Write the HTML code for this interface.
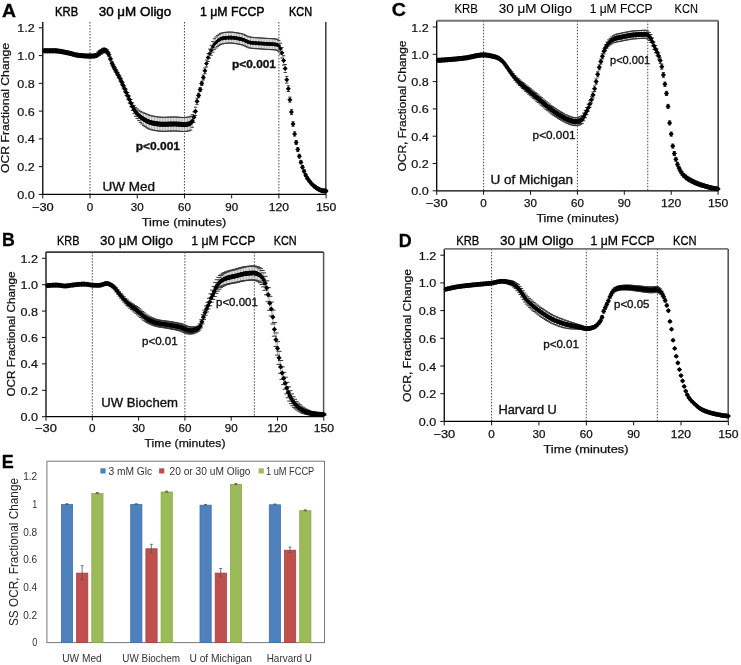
<!DOCTYPE html><html><head><meta charset="utf-8"><style>html,body{margin:0;padding:0;background:#fff;overflow:hidden}svg{display:block;filter:blur(0.35px);font-family:"Liberation Sans",sans-serif}</style></head><body>
<svg width="741" height="665" viewBox="0 0 741 665" font-family="Liberation Sans, sans-serif">
<rect width="741" height="665" fill="#fff"/>
<line x1="90.00" y1="22.00" x2="90.00" y2="194.40" stroke="#333" stroke-width="0.9" stroke-dasharray="1.5 1.5"/>
<line x1="184.44" y1="22.00" x2="184.44" y2="194.40" stroke="#333" stroke-width="0.9" stroke-dasharray="1.5 1.5"/>
<line x1="278.88" y1="22.00" x2="278.88" y2="194.40" stroke="#333" stroke-width="0.9" stroke-dasharray="1.5 1.5"/>
<line x1="42.78" y1="22.00" x2="42.78" y2="194.40" stroke="#000" stroke-width="1.3" />
<line x1="42.78" y1="194.40" x2="326.10" y2="194.40" stroke="#000" stroke-width="1.3" />
<line x1="325.80" y1="22.00" x2="325.80" y2="194.40" stroke="#3a3a3a" stroke-width="1.5" />
<line x1="38.78" y1="194.40" x2="42.78" y2="194.40" stroke="#111" stroke-width="1" />
<text x="34.8" y="198.9" font-size="11" stroke="#111" stroke-width="0.2" text-anchor="end" fill="#111" textLength="17.5" lengthAdjust="spacingAndGlyphs">0.0</text>
<line x1="38.78" y1="166.64" x2="42.78" y2="166.64" stroke="#111" stroke-width="1" />
<text x="34.8" y="171.1" font-size="11" stroke="#111" stroke-width="0.2" text-anchor="end" fill="#111" textLength="17.5" lengthAdjust="spacingAndGlyphs">0.2</text>
<line x1="38.78" y1="138.88" x2="42.78" y2="138.88" stroke="#111" stroke-width="1" />
<text x="34.8" y="143.4" font-size="11" stroke="#111" stroke-width="0.2" text-anchor="end" fill="#111" textLength="17.5" lengthAdjust="spacingAndGlyphs">0.4</text>
<line x1="38.78" y1="111.12" x2="42.78" y2="111.12" stroke="#111" stroke-width="1" />
<text x="34.8" y="115.6" font-size="11" stroke="#111" stroke-width="0.2" text-anchor="end" fill="#111" textLength="17.5" lengthAdjust="spacingAndGlyphs">0.6</text>
<line x1="38.78" y1="83.36" x2="42.78" y2="83.36" stroke="#111" stroke-width="1" />
<text x="34.8" y="87.9" font-size="11" stroke="#111" stroke-width="0.2" text-anchor="end" fill="#111" textLength="17.5" lengthAdjust="spacingAndGlyphs">0.8</text>
<line x1="38.78" y1="55.60" x2="42.78" y2="55.60" stroke="#111" stroke-width="1" />
<text x="34.8" y="60.1" font-size="11" stroke="#111" stroke-width="0.2" text-anchor="end" fill="#111" textLength="17.5" lengthAdjust="spacingAndGlyphs">1.0</text>
<line x1="38.78" y1="27.84" x2="42.78" y2="27.84" stroke="#111" stroke-width="1" />
<text x="34.8" y="32.3" font-size="11" stroke="#111" stroke-width="0.2" text-anchor="end" fill="#111" textLength="17.5" lengthAdjust="spacingAndGlyphs">1.2</text>
<line x1="42.78" y1="194.40" x2="42.78" y2="198.40" stroke="#111" stroke-width="1" />
<text x="42.8" y="211.0" font-size="11" stroke="#111" stroke-width="0.25" text-anchor="middle" fill="#111" textLength="21.8" lengthAdjust="spacingAndGlyphs">−30</text>
<line x1="90.00" y1="194.40" x2="90.00" y2="198.40" stroke="#111" stroke-width="1" />
<text x="90.0" y="211.0" font-size="11" stroke="#111" stroke-width="0.25" text-anchor="middle" fill="#111" textLength="6.5" lengthAdjust="spacingAndGlyphs">0</text>
<line x1="137.22" y1="194.40" x2="137.22" y2="198.40" stroke="#111" stroke-width="1" />
<text x="137.2" y="211.0" font-size="11" stroke="#111" stroke-width="0.25" text-anchor="middle" fill="#111" textLength="12.9" lengthAdjust="spacingAndGlyphs">30</text>
<line x1="184.44" y1="194.40" x2="184.44" y2="198.40" stroke="#111" stroke-width="1" />
<text x="184.4" y="211.0" font-size="11" stroke="#111" stroke-width="0.25" text-anchor="middle" fill="#111" textLength="12.9" lengthAdjust="spacingAndGlyphs">60</text>
<line x1="231.66" y1="194.40" x2="231.66" y2="198.40" stroke="#111" stroke-width="1" />
<text x="231.7" y="211.0" font-size="11" stroke="#111" stroke-width="0.25" text-anchor="middle" fill="#111" textLength="12.9" lengthAdjust="spacingAndGlyphs">90</text>
<line x1="278.88" y1="194.40" x2="278.88" y2="198.40" stroke="#111" stroke-width="1" />
<text x="278.9" y="211.0" font-size="11" stroke="#111" stroke-width="0.25" text-anchor="middle" fill="#111" textLength="20.3" lengthAdjust="spacingAndGlyphs">120</text>
<line x1="326.10" y1="194.40" x2="326.10" y2="198.40" stroke="#111" stroke-width="1" />
<text x="326.1" y="211.0" font-size="11" stroke="#111" stroke-width="0.25" text-anchor="middle" fill="#111" textLength="20.3" lengthAdjust="spacingAndGlyphs">150</text>
<text x="9.2" y="108.0" font-size="10.5" stroke="#111" stroke-width="0.25" text-anchor="middle" fill="#111" textLength="130.0" lengthAdjust="spacingAndGlyphs" transform="rotate(-90 9.2 108.0)">OCR Fractional Change</text>
<text x="184.0" y="226.0" font-size="10.5" stroke="#111" stroke-width="0.25" text-anchor="middle" fill="#111" textLength="84.5" lengthAdjust="spacingAndGlyphs">Time (minutes)</text>
<text x="55.1" y="16.0" font-size="13.5" stroke="#000" stroke-width="0.45" textLength="23.1" lengthAdjust="spacingAndGlyphs">KRB</text>
<text x="98.7" y="16.0" font-size="13.5" stroke="#000" stroke-width="0.45" textLength="72.6" lengthAdjust="spacingAndGlyphs">30 μM Oligo</text>
<text x="200.0" y="16.0" font-size="13.5" stroke="#000" stroke-width="0.45" textLength="64.6" lengthAdjust="spacingAndGlyphs">1 μM FCCP</text>
<text x="289.0" y="16.0" font-size="13.5" stroke="#000" stroke-width="0.45" textLength="23.0" lengthAdjust="spacingAndGlyphs">KCN</text>
<text x="2.0" y="17.2" font-size="19" stroke="#000" stroke-width="0.3" font-weight="bold" textLength="14.0" lengthAdjust="spacingAndGlyphs">A</text>
<path d="M44.4 49.8V51.8M45.9 49.9V51.7M47.5 49.9V51.7M49.1 49.9V51.7M50.6 49.9V51.7M52.2 49.9V51.7M53.8 49.9V51.7M55.4 50.0V51.7M56.9 50.1V51.8M58.5 50.3V52.0M60.1 50.5V52.2M61.7 50.8V52.5M63.2 51.1V52.8M64.8 51.4V53.1M66.4 51.7V53.4M68.0 52.0V53.7M69.5 52.4V54.0M71.1 52.8V54.4M72.7 53.3V54.9M74.3 53.7V55.3M75.8 54.1V55.7M77.4 54.4V56.0M79.0 54.6V56.2M80.6 54.7V56.3M82.1 54.9V56.5M83.7 55.0V56.6M85.3 55.1V56.7M86.9 55.2V56.8M88.4 55.3V56.9M90.0 55.3V56.9M91.6 55.2V57.0M93.1 54.8V57.2M94.7 54.3V57.4M96.3 53.5V57.4M97.9 51.9V56.5M99.4 50.4V55.4M101.0 49.4V54.3M102.6 48.4V53.2M104.2 48.0V52.6M105.7 48.5V52.9M107.3 49.7V53.9M108.9 52.6V56.7M110.5 57.0V61.0M112.0 61.3V65.3M113.6 64.6V68.7M115.2 67.4V71.7M116.8 70.2V74.7M118.3 72.9V77.6M119.9 75.8V80.8M121.5 79.0V84.3M123.1 82.4V87.9M124.6 85.9V91.7M126.2 89.3V95.5M127.8 92.6V99.1M129.3 96.0V102.9M130.9 99.5V106.8M132.5 102.8V110.5M134.1 105.4V113.7M135.6 107.4V116.3M137.2 108.9V118.6M138.8 110.2V120.6M140.4 111.3V122.5M141.9 112.1V124.0M143.5 112.8V125.4M145.1 113.4V126.6M146.7 114.1V127.7M148.2 114.7V128.6M149.8 115.3V129.3M151.4 115.8V129.8M153.0 116.1V130.1M154.5 116.4V130.4M156.1 116.7V130.7M157.7 116.9V130.9M159.3 117.1V131.1M160.8 117.2V131.2M162.4 117.3V131.3M164.0 117.3V131.3M165.6 117.3V131.3M167.1 117.2V131.2M168.7 117.1V131.1M170.3 117.1V131.1M171.8 117.0V131.0M173.4 117.0V131.0M175.0 117.0V131.0M176.6 117.1V131.1M178.1 117.2V131.2M179.7 117.3V131.3M181.3 117.4V131.4M182.9 117.5V131.5M184.4 117.5V131.5M186.0 117.4V131.4M187.6 117.2V131.2M189.2 116.8V130.8M190.7 116.3V130.1M192.3 114.7V127.3M193.9 111.9V122.5M195.5 107.2V115.5M197.0 98.3V104.4M198.6 93.2V97.7M200.2 87.6V91.6M201.8 81.3V85.5M203.3 75.1V80.0M204.9 67.9V73.7M206.5 60.1V66.9M208.1 53.7V61.6M209.6 49.1V58.1M211.2 45.3V55.2M212.8 41.6V52.2M214.3 38.7V49.7M215.9 37.0V48.0M217.5 35.6V46.6M219.1 34.3V45.3M220.6 33.4V44.4M222.2 32.9V43.9M223.8 32.6V43.6M225.4 32.4V43.4M226.9 32.2V43.2M228.5 32.1V43.1M230.1 32.1V43.1M231.7 32.1V43.1M233.2 32.3V43.3M234.8 32.5V43.5M236.4 32.7V43.7M238.0 33.0V44.0M239.5 33.3V44.3M241.1 33.6V44.6M242.7 34.1V45.1M244.3 34.7V45.7M245.8 35.4V46.4M247.4 36.2V47.2M249.0 36.8V47.8M250.5 37.1V48.1M252.1 37.3V48.3M253.7 37.5V48.5M255.3 37.6V48.6M256.8 37.7V48.7M258.4 37.8V48.8M260.0 37.9V48.9M261.6 38.0V49.0M263.1 38.1V49.1M264.7 38.3V49.3M266.3 38.4V49.4M267.9 38.4V49.4M269.4 38.5V49.5M271.0 38.6V49.6M272.6 38.7V49.7M274.2 38.8V49.8M275.7 39.0V50.0M277.3 39.3V50.3M278.9 40.4V51.4M280.5 43.2V54.2M282.0 47.6V58.0M283.6 55.7V65.1M285.2 64.5V72.5M286.8 76.4V83.1M288.3 85.8V91.5M289.9 97.1V102.2M291.5 109.7V114.5M293.0 121.7V126.3M294.6 131.8V136.1M296.2 140.5V144.6M297.8 147.7V151.6M299.3 154.3V158.0M300.9 160.4V163.9M302.5 165.5V168.8M304.1 169.7V172.9M305.6 173.5V176.5M307.2 176.5V179.5M308.8 178.9V181.7M310.4 181.0V183.7M311.9 182.9V185.4M313.5 184.4V186.9M315.1 185.7V188.1M316.7 186.8V189.1M318.2 187.9V190.1M319.8 188.8V190.9M321.4 189.4V191.5M323.0 189.7V191.8M324.5 189.9V191.9M326.1 190.0V192.0" stroke="#a0a0a0" stroke-width="0.8" fill="none"/>
<path d="M42.8 49.8h3.2M42.8 51.8h3.2M44.3 49.9h3.2M44.3 51.7h3.2M45.9 49.9h3.2M45.9 51.7h3.2M47.5 49.9h3.2M47.5 51.7h3.2M49.0 49.9h3.2M49.0 51.7h3.2M50.6 49.9h3.2M50.6 51.7h3.2M52.2 49.9h3.2M52.2 51.7h3.2M53.8 50.0h3.2M53.8 51.7h3.2M55.3 50.1h3.2M55.3 51.8h3.2M56.9 50.3h3.2M56.9 52.0h3.2M58.5 50.5h3.2M58.5 52.2h3.2M60.1 50.8h3.2M60.1 52.5h3.2M61.6 51.1h3.2M61.6 52.8h3.2M63.2 51.4h3.2M63.2 53.1h3.2M64.8 51.7h3.2M64.8 53.4h3.2M66.4 52.0h3.2M66.4 53.7h3.2M67.9 52.4h3.2M67.9 54.0h3.2M69.5 52.8h3.2M69.5 54.4h3.2M71.1 53.3h3.2M71.1 54.9h3.2M72.7 53.7h3.2M72.7 55.3h3.2M74.2 54.1h3.2M74.2 55.7h3.2M75.8 54.4h3.2M75.8 56.0h3.2M77.4 54.6h3.2M77.4 56.2h3.2M79.0 54.7h3.2M79.0 56.3h3.2M80.5 54.9h3.2M80.5 56.5h3.2M82.1 55.0h3.2M82.1 56.6h3.2M83.7 55.1h3.2M83.7 56.7h3.2M85.3 55.2h3.2M85.3 56.8h3.2M86.8 55.3h3.2M86.8 56.9h3.2M88.4 55.3h3.2M88.4 56.9h3.2M90.0 55.2h3.2M90.0 57.0h3.2M91.5 54.8h3.2M91.5 57.2h3.2M93.1 54.3h3.2M93.1 57.4h3.2M94.7 53.5h3.2M94.7 57.4h3.2M96.3 51.9h3.2M96.3 56.5h3.2M97.8 50.4h3.2M97.8 55.4h3.2M99.4 49.4h3.2M99.4 54.3h3.2M101.0 48.4h3.2M101.0 53.2h3.2M102.6 48.0h3.2M102.6 52.6h3.2M104.1 48.5h3.2M104.1 52.9h3.2M105.7 49.7h3.2M105.7 53.9h3.2M107.3 52.6h3.2M107.3 56.7h3.2M108.9 57.0h3.2M108.9 61.0h3.2M110.4 61.3h3.2M110.4 65.3h3.2M112.0 64.6h3.2M112.0 68.7h3.2M113.6 67.4h3.2M113.6 71.7h3.2M115.2 70.2h3.2M115.2 74.7h3.2M116.7 72.9h3.2M116.7 77.6h3.2M118.3 75.8h3.2M118.3 80.8h3.2M119.9 79.0h3.2M119.9 84.3h3.2M121.5 82.4h3.2M121.5 87.9h3.2M123.0 85.9h3.2M123.0 91.7h3.2M124.6 89.3h3.2M124.6 95.5h3.2M126.2 92.6h3.2M126.2 99.1h3.2M127.8 96.0h3.2M127.8 102.9h3.2M129.3 99.5h3.2M129.3 106.8h3.2M130.9 102.8h3.2M130.9 110.5h3.2M132.5 105.4h3.2M132.5 113.7h3.2M134.0 107.4h3.2M134.0 116.3h3.2M135.6 108.9h3.2M135.6 118.6h3.2M137.2 110.2h3.2M137.2 120.6h3.2M138.8 111.3h3.2M138.8 122.5h3.2M140.3 112.1h3.2M140.3 124.0h3.2M141.9 112.8h3.2M141.9 125.4h3.2M143.5 113.4h3.2M143.5 126.6h3.2M145.1 114.1h3.2M145.1 127.7h3.2M146.6 114.7h3.2M146.6 128.6h3.2M148.2 115.3h3.2M148.2 129.3h3.2M149.8 115.8h3.2M149.8 129.8h3.2M151.4 116.1h3.2M151.4 130.1h3.2M152.9 116.4h3.2M152.9 130.4h3.2M154.5 116.7h3.2M154.5 130.7h3.2M156.1 116.9h3.2M156.1 130.9h3.2M157.7 117.1h3.2M157.7 131.1h3.2M159.2 117.2h3.2M159.2 131.2h3.2M160.8 117.3h3.2M160.8 131.3h3.2M162.4 117.3h3.2M162.4 131.3h3.2M164.0 117.3h3.2M164.0 131.3h3.2M165.5 117.2h3.2M165.5 131.2h3.2M167.1 117.1h3.2M167.1 131.1h3.2M168.7 117.1h3.2M168.7 131.1h3.2M170.2 117.0h3.2M170.2 131.0h3.2M171.8 117.0h3.2M171.8 131.0h3.2M173.4 117.0h3.2M173.4 131.0h3.2M175.0 117.1h3.2M175.0 131.1h3.2M176.5 117.2h3.2M176.5 131.2h3.2M178.1 117.3h3.2M178.1 131.3h3.2M179.7 117.4h3.2M179.7 131.4h3.2M181.3 117.5h3.2M181.3 131.5h3.2M182.8 117.5h3.2M182.8 131.5h3.2M184.4 117.4h3.2M184.4 131.4h3.2M186.0 117.2h3.2M186.0 131.2h3.2M187.6 116.8h3.2M187.6 130.8h3.2M189.1 116.3h3.2M189.1 130.1h3.2M190.7 114.7h3.2M190.7 127.3h3.2M192.3 111.9h3.2M192.3 122.5h3.2M193.9 107.2h3.2M193.9 115.5h3.2M195.4 98.3h3.2M195.4 104.4h3.2M197.0 93.2h3.2M197.0 97.7h3.2M198.6 87.6h3.2M198.6 91.6h3.2M200.2 81.3h3.2M200.2 85.5h3.2M201.7 75.1h3.2M201.7 80.0h3.2M203.3 67.9h3.2M203.3 73.7h3.2M204.9 60.1h3.2M204.9 66.9h3.2M206.5 53.7h3.2M206.5 61.6h3.2M208.0 49.1h3.2M208.0 58.1h3.2M209.6 45.3h3.2M209.6 55.2h3.2M211.2 41.6h3.2M211.2 52.2h3.2M212.7 38.7h3.2M212.7 49.7h3.2M214.3 37.0h3.2M214.3 48.0h3.2M215.9 35.6h3.2M215.9 46.6h3.2M217.5 34.3h3.2M217.5 45.3h3.2M219.0 33.4h3.2M219.0 44.4h3.2M220.6 32.9h3.2M220.6 43.9h3.2M222.2 32.6h3.2M222.2 43.6h3.2M223.8 32.4h3.2M223.8 43.4h3.2M225.3 32.2h3.2M225.3 43.2h3.2M226.9 32.1h3.2M226.9 43.1h3.2M228.5 32.1h3.2M228.5 43.1h3.2M230.1 32.1h3.2M230.1 43.1h3.2M231.6 32.3h3.2M231.6 43.3h3.2M233.2 32.5h3.2M233.2 43.5h3.2M234.8 32.7h3.2M234.8 43.7h3.2M236.4 33.0h3.2M236.4 44.0h3.2M237.9 33.3h3.2M237.9 44.3h3.2M239.5 33.6h3.2M239.5 44.6h3.2M241.1 34.1h3.2M241.1 45.1h3.2M242.7 34.7h3.2M242.7 45.7h3.2M244.2 35.4h3.2M244.2 46.4h3.2M245.8 36.2h3.2M245.8 47.2h3.2M247.4 36.8h3.2M247.4 47.8h3.2M248.9 37.1h3.2M248.9 48.1h3.2M250.5 37.3h3.2M250.5 48.3h3.2M252.1 37.5h3.2M252.1 48.5h3.2M253.7 37.6h3.2M253.7 48.6h3.2M255.2 37.7h3.2M255.2 48.7h3.2M256.8 37.8h3.2M256.8 48.8h3.2M258.4 37.9h3.2M258.4 48.9h3.2M260.0 38.0h3.2M260.0 49.0h3.2M261.5 38.1h3.2M261.5 49.1h3.2M263.1 38.3h3.2M263.1 49.3h3.2M264.7 38.4h3.2M264.7 49.4h3.2M266.3 38.4h3.2M266.3 49.4h3.2M267.8 38.5h3.2M267.8 49.5h3.2M269.4 38.6h3.2M269.4 49.6h3.2M271.0 38.7h3.2M271.0 49.7h3.2M272.6 38.8h3.2M272.6 49.8h3.2M274.1 39.0h3.2M274.1 50.0h3.2M275.7 39.3h3.2M275.7 50.3h3.2M277.3 40.4h3.2M277.3 51.4h3.2M278.9 43.2h3.2M278.9 54.2h3.2M280.4 47.6h3.2M280.4 58.0h3.2M282.0 55.7h3.2M282.0 65.1h3.2M283.6 64.5h3.2M283.6 72.5h3.2M285.1 76.4h3.2M285.1 83.1h3.2M286.7 85.8h3.2M286.7 91.5h3.2M288.3 97.1h3.2M288.3 102.2h3.2M289.9 109.7h3.2M289.9 114.5h3.2M291.4 121.7h3.2M291.4 126.3h3.2M293.0 131.8h3.2M293.0 136.1h3.2M294.6 140.5h3.2M294.6 144.6h3.2M296.2 147.7h3.2M296.2 151.6h3.2M297.7 154.3h3.2M297.7 158.0h3.2M299.3 160.4h3.2M299.3 163.9h3.2M300.9 165.5h3.2M300.9 168.8h3.2M302.5 169.7h3.2M302.5 172.9h3.2M304.0 173.5h3.2M304.0 176.5h3.2M305.6 176.5h3.2M305.6 179.5h3.2M307.2 178.9h3.2M307.2 181.7h3.2M308.8 181.0h3.2M308.8 183.7h3.2M310.3 182.9h3.2M310.3 185.4h3.2M311.9 184.4h3.2M311.9 186.9h3.2M313.5 185.7h3.2M313.5 188.1h3.2M315.1 186.8h3.2M315.1 189.1h3.2M316.6 187.9h3.2M316.6 190.1h3.2M318.2 188.8h3.2M318.2 190.9h3.2M319.8 189.4h3.2M319.8 191.5h3.2M321.4 189.7h3.2M321.4 191.8h3.2M322.9 189.9h3.2M322.9 191.9h3.2M324.5 190.0h3.2M324.5 192.0h3.2" stroke="#383838" stroke-width="1.0" fill="none"/>
<polygon points="43.3,48.26 43.8,48.26 44.3,48.26 44.8,48.26 45.3,48.26 45.8,48.26 46.3,48.26 46.8,48.27 47.3,48.27 47.8,48.27 48.3,48.27 48.8,48.27 49.3,48.27 49.8,48.27 50.3,48.27 50.8,48.27 51.3,48.27 51.8,48.27 52.3,48.27 52.8,48.27 53.3,48.27 53.8,48.27 54.3,48.27 54.8,48.29 55.3,48.30 55.8,48.33 56.3,48.37 56.8,48.41 57.3,48.46 57.8,48.51 58.3,48.57 58.8,48.64 59.3,48.71 59.8,48.79 60.3,48.87 60.8,48.95 61.3,49.04 61.8,49.13 62.3,49.23 62.8,49.32 63.3,49.42 63.8,49.52 64.3,49.62 64.8,49.72 65.3,49.82 65.8,49.92 66.3,50.02 66.8,50.11 67.3,50.21 67.8,50.30 68.3,50.40 68.8,50.51 69.3,50.63 69.8,50.75 70.3,50.88 70.8,51.02 71.3,51.16 71.8,51.30 72.3,51.45 72.8,51.59 73.3,51.73 73.8,51.87 74.3,52.01 74.8,52.14 75.3,52.26 75.8,52.38 76.3,52.49 76.8,52.58 77.3,52.67 77.8,52.74 78.3,52.80 78.8,52.86 79.3,52.91 79.8,52.96 80.3,53.01 80.8,53.06 81.3,53.11 81.8,53.16 82.3,53.20 82.8,53.25 83.3,53.29 83.8,53.33 84.3,53.37 84.8,53.40 85.3,53.44 85.8,53.47 86.3,53.49 86.8,53.52 87.3,53.54 87.8,53.56 88.3,53.57 88.8,53.59 89.3,53.59 89.8,53.60 90.3,53.60 90.8,53.59 91.3,53.58 91.8,53.56 92.3,53.54 92.8,53.51 93.3,53.48 93.8,53.44 94.3,53.40 94.8,53.35 95.3,53.30 95.8,53.19 96.3,52.96 96.8,52.64 97.3,52.25 97.8,51.82 98.3,51.37 98.8,50.92 99.3,50.50 99.8,50.14 100.3,49.83 100.8,49.50 101.3,49.16 101.8,48.82 102.3,48.50 102.8,48.23 103.3,48.00 103.8,47.86 104.3,47.80 104.8,47.85 105.3,48.00 105.8,48.23 106.3,48.52 106.8,48.85 106.8,53.85 106.3,53.52 105.8,53.23 105.3,53.00 104.8,52.85 104.3,52.80 103.8,52.86 103.3,53.00 102.8,53.23 102.3,53.50 101.8,53.82 101.3,54.16 100.8,54.50 100.3,54.83 99.8,55.14 99.3,55.50 98.8,55.92 98.3,56.37 97.8,56.82 97.3,57.25 96.8,57.64 96.3,57.96 95.8,58.19 95.3,58.30 94.8,58.35 94.3,58.40 93.8,58.44 93.3,58.48 92.8,58.51 92.3,58.54 91.8,58.56 91.3,58.58 90.8,58.59 90.3,58.60 89.8,58.60 89.3,58.60 88.8,58.59 88.3,58.58 87.8,58.56 87.3,58.55 86.8,58.52 86.3,58.50 85.8,58.47 85.3,58.44 84.8,58.41 84.3,58.37 83.8,58.34 83.3,58.30 82.8,58.26 82.3,58.21 81.8,58.17 81.3,58.12 80.8,58.07 80.3,58.02 79.8,57.97 79.3,57.92 78.8,57.87 78.3,57.82 77.8,57.76 77.3,57.68 76.8,57.60 76.3,57.50 75.8,57.40 75.3,57.28 74.8,57.16 74.3,57.03 73.8,56.89 73.3,56.75 72.8,56.61 72.3,56.47 71.8,56.33 71.3,56.18 70.8,56.04 70.3,55.91 69.8,55.78 69.3,55.65 68.8,55.54 68.3,55.43 67.8,55.33 67.3,55.24 66.8,55.14 66.3,55.05 65.8,54.95 65.3,54.85 64.8,54.75 64.3,54.65 63.8,54.55 63.3,54.46 62.8,54.36 62.3,54.27 61.8,54.17 61.3,54.08 60.8,53.99 60.3,53.91 59.8,53.83 59.3,53.75 58.8,53.68 58.3,53.62 57.8,53.56 57.3,53.50 56.8,53.46 56.3,53.41 55.8,53.38 55.3,53.35 54.8,53.34 54.3,53.33 53.8,53.33 53.3,53.33 52.8,53.33 52.3,53.33 51.8,53.33 51.3,53.33 50.8,53.33 50.3,53.33 49.8,53.33 49.3,53.33 48.8,53.33 48.3,53.33 47.8,53.33 47.3,53.33 46.8,53.33 46.3,53.34 45.8,53.34 45.3,53.34 44.8,53.34 44.3,53.34 43.8,53.34 43.3,53.34" fill="#000"/>
<polygon points="138.8,112.90 139.3,113.38 139.8,113.84 140.3,114.28 140.8,114.69 141.3,115.08 141.8,115.45 142.3,115.79 142.8,116.11 143.3,116.43 143.8,116.74 144.3,117.04 144.8,117.34 145.3,117.62 145.8,117.90 146.3,118.17 146.8,118.44 147.3,118.69 147.8,118.93 148.3,119.16 148.8,119.37 149.3,119.57 149.8,119.76 150.3,119.94 150.8,120.10 151.3,120.24 151.8,120.37 152.3,120.48 152.8,120.57 153.3,120.67 153.8,120.76 154.3,120.85 154.8,120.94 155.3,121.03 155.8,121.11 156.3,121.19 156.8,121.27 157.3,121.34 157.8,121.41 158.3,121.47 158.8,121.53 159.3,121.59 159.8,121.63 160.3,121.68 160.8,121.71 161.3,121.75 161.8,121.77 162.3,121.79 162.8,121.80 163.3,121.80 163.8,121.80 164.3,121.79 164.8,121.78 165.3,121.77 165.8,121.76 166.3,121.74 166.8,121.72 167.3,121.70 167.8,121.68 168.3,121.66 168.8,121.64 169.3,121.62 169.8,121.60 170.3,121.58 170.8,121.56 171.3,121.55 171.8,121.53 172.3,121.52 172.8,121.51 173.3,121.50 173.8,121.50 174.3,121.50 174.8,121.51 175.3,121.52 175.8,121.54 176.3,121.56 176.8,121.58 177.3,121.61 177.8,121.64 178.3,121.67 178.8,121.71 179.3,121.74 179.8,121.78 180.3,121.81 180.8,121.84 181.3,121.88 181.8,121.90 182.3,121.93 182.8,121.95 183.3,121.97 183.8,121.99 184.3,122.00 184.8,122.00 185.3,121.99 185.8,121.96 186.3,121.92 186.8,121.85 187.3,121.77 187.8,121.68 188.3,121.57 188.8,121.44 189.3,121.30 189.8,121.14 190.3,120.97 190.8,120.65 190.8,125.65 190.3,125.97 189.8,126.14 189.3,126.30 188.8,126.44 188.3,126.57 187.8,126.68 187.3,126.77 186.8,126.85 186.3,126.92 185.8,126.96 185.3,126.99 184.8,127.00 184.3,127.00 183.8,126.99 183.3,126.97 182.8,126.95 182.3,126.93 181.8,126.90 181.3,126.88 180.8,126.84 180.3,126.81 179.8,126.78 179.3,126.74 178.8,126.71 178.3,126.67 177.8,126.64 177.3,126.61 176.8,126.58 176.3,126.56 175.8,126.54 175.3,126.52 174.8,126.51 174.3,126.50 173.8,126.50 173.3,126.50 172.8,126.51 172.3,126.52 171.8,126.53 171.3,126.55 170.8,126.56 170.3,126.58 169.8,126.60 169.3,126.62 168.8,126.64 168.3,126.66 167.8,126.68 167.3,126.70 166.8,126.72 166.3,126.74 165.8,126.76 165.3,126.77 164.8,126.78 164.3,126.79 163.8,126.80 163.3,126.80 162.8,126.80 162.3,126.79 161.8,126.77 161.3,126.75 160.8,126.71 160.3,126.68 159.8,126.63 159.3,126.59 158.8,126.53 158.3,126.47 157.8,126.41 157.3,126.34 156.8,126.27 156.3,126.19 155.8,126.11 155.3,126.03 154.8,125.94 154.3,125.85 153.8,125.76 153.3,125.67 152.8,125.57 152.3,125.48 151.8,125.37 151.3,125.24 150.8,125.10 150.3,124.94 149.8,124.76 149.3,124.57 148.8,124.37 148.3,124.16 147.8,123.93 147.3,123.69 146.8,123.44 146.3,123.17 145.8,122.90 145.3,122.62 144.8,122.34 144.3,122.04 143.8,121.74 143.3,121.43 142.8,121.11 142.3,120.79 141.8,120.45 141.3,120.08 140.8,119.69 140.3,119.28 139.8,118.84 139.3,118.38 138.8,117.90" fill="#000"/>
<polygon points="215.8,40.82 216.3,40.34 216.8,39.88 217.3,39.44 217.8,39.02 218.3,38.62 218.8,38.25 219.3,37.91 219.8,37.60 220.3,37.32 220.8,37.07 221.3,36.86 221.8,36.69 222.3,36.56 222.8,36.47 223.3,36.39 223.8,36.32 224.3,36.25 224.8,36.18 225.3,36.12 225.8,36.06 226.3,36.01 226.8,35.96 227.3,35.92 227.8,35.88 228.3,35.85 228.8,35.83 229.3,35.81 229.8,35.80 230.3,35.80 230.8,35.81 231.3,35.82 231.8,35.85 232.3,35.88 232.8,35.92 233.3,35.97 233.8,36.02 234.3,36.08 234.8,36.15 235.3,36.22 235.8,36.30 236.3,36.38 236.8,36.47 237.3,36.56 237.8,36.66 238.3,36.75 238.8,36.85 239.3,36.96 239.8,37.06 240.3,37.16 240.8,37.27 241.3,37.37 241.8,37.49 242.3,37.63 242.8,37.80 243.3,37.99 243.8,38.19 244.3,38.42 244.8,38.65 245.3,38.88 245.8,39.12 246.3,39.36 246.8,39.60 247.3,39.82 247.8,40.03 248.3,40.23 248.8,40.41 249.3,40.56 249.8,40.69 250.3,40.78 250.8,40.85 251.3,40.92 251.8,40.98 252.3,41.03 252.8,41.09 253.3,41.14 253.8,41.18 254.3,41.23 254.8,41.27 255.3,41.31 255.8,41.35 256.3,41.39 256.8,41.42 257.3,41.45 257.8,41.49 258.3,41.52 258.8,41.55 259.3,41.58 259.8,41.61 260.3,41.64 260.8,41.67 261.3,41.70 261.8,41.74 262.3,41.77 262.8,41.81 263.3,41.84 263.8,41.88 264.3,41.92 264.8,41.96 265.3,41.99 265.8,42.02 266.3,42.05 266.8,42.08 267.3,42.11 267.8,42.13 268.3,42.15 268.8,42.18 269.3,42.20 269.8,42.23 270.3,42.25 270.8,42.28 271.3,42.31 271.8,42.34 272.3,42.37 272.8,42.41 273.3,42.45 273.8,42.50 274.3,42.55 274.8,42.60 275.3,42.66 275.8,42.73 276.3,42.80 276.8,42.88 277.3,42.96 277.8,43.09 278.3,43.41 278.3,47.01 277.8,46.69 277.3,46.56 276.8,46.48 276.3,46.40 275.8,46.33 275.3,46.26 274.8,46.20 274.3,46.15 273.8,46.10 273.3,46.05 272.8,46.01 272.3,45.97 271.8,45.94 271.3,45.91 270.8,45.88 270.3,45.85 269.8,45.83 269.3,45.80 268.8,45.78 268.3,45.75 267.8,45.73 267.3,45.71 266.8,45.68 266.3,45.65 265.8,45.62 265.3,45.59 264.8,45.56 264.3,45.52 263.8,45.48 263.3,45.44 262.8,45.41 262.3,45.37 261.8,45.34 261.3,45.30 260.8,45.27 260.3,45.24 259.8,45.21 259.3,45.18 258.8,45.15 258.3,45.12 257.8,45.09 257.3,45.05 256.8,45.02 256.3,44.99 255.8,44.95 255.3,44.91 254.8,44.87 254.3,44.83 253.8,44.78 253.3,44.74 252.8,44.69 252.3,44.63 251.8,44.58 251.3,44.52 250.8,44.45 250.3,44.38 249.8,44.29 249.3,44.16 248.8,44.01 248.3,43.83 247.8,43.63 247.3,43.42 246.8,43.20 246.3,42.96 245.8,42.72 245.3,42.48 244.8,42.25 244.3,42.02 243.8,41.79 243.3,41.59 242.8,41.40 242.3,41.23 241.8,41.09 241.3,40.97 240.8,40.87 240.3,40.76 239.8,40.66 239.3,40.56 238.8,40.45 238.3,40.35 237.8,40.26 237.3,40.16 236.8,40.07 236.3,39.98 235.8,39.90 235.3,39.82 234.8,39.75 234.3,39.68 233.8,39.62 233.3,39.57 232.8,39.52 232.3,39.48 231.8,39.45 231.3,39.42 230.8,39.41 230.3,39.40 229.8,39.40 229.3,39.41 228.8,39.43 228.3,39.45 227.8,39.48 227.3,39.52 226.8,39.56 226.3,39.61 225.8,39.66 225.3,39.72 224.8,39.78 224.3,39.85 223.8,39.92 223.3,39.99 222.8,40.07 222.3,40.16 221.8,40.29 221.3,40.46 220.8,40.67 220.3,40.92 219.8,41.20 219.3,41.51 218.8,41.85 218.3,42.22 217.8,42.62 217.3,43.04 216.8,43.48 216.3,43.94 215.8,44.42" fill="#000"/>
<polygon points="312.8,182.49 313.3,182.95 313.8,183.39 314.3,183.79 314.8,184.17 315.3,184.53 315.8,184.87 316.3,185.22 316.8,185.56 317.3,185.89 317.8,186.21 318.3,186.52 318.8,186.81 319.3,187.08 319.8,187.33 320.3,187.55 320.8,187.75 321.3,187.92 321.8,188.06 322.3,188.16 322.8,188.22 323.3,188.27 323.8,188.32 324.3,188.37 324.8,188.41 325.3,188.44 325.8,188.47 325.8,193.47 325.3,193.44 324.8,193.41 324.3,193.37 323.8,193.32 323.3,193.27 322.8,193.22 322.3,193.16 321.8,193.06 321.3,192.92 320.8,192.75 320.3,192.55 319.8,192.33 319.3,192.08 318.8,191.81 318.3,191.52 317.8,191.21 317.3,190.89 316.8,190.56 316.3,190.22 315.8,189.87 315.3,189.53 314.8,189.17 314.3,188.79 313.8,188.39 313.3,187.95 312.8,187.49" fill="#000"/>
<path d="M44.35 48.20L46.95 50.80L44.35 53.40L41.75 50.80ZM45.93 48.20L48.53 50.80L45.93 53.40L43.33 50.80ZM47.50 48.20L50.10 50.80L47.50 53.40L44.90 50.80ZM49.08 48.20L51.68 50.80L49.08 53.40L46.48 50.80ZM50.65 48.20L53.25 50.80L50.65 53.40L48.05 50.80ZM52.22 48.20L54.82 50.80L52.22 53.40L49.62 50.80ZM53.80 48.20L56.40 50.80L53.80 53.40L51.20 50.80ZM55.37 48.23L57.97 50.83L55.37 53.43L52.77 50.83ZM56.95 48.35L59.55 50.95L56.95 53.55L54.35 50.95ZM58.52 48.53L61.12 51.13L58.52 53.73L55.92 51.13ZM60.09 48.76L62.69 51.36L60.09 53.96L57.49 51.36ZM61.67 49.03L64.27 51.63L61.67 54.23L59.07 51.63ZM63.24 49.33L65.84 51.93L63.24 54.53L60.64 51.93ZM64.82 49.64L67.42 52.24L64.82 54.84L62.22 52.24ZM66.39 49.95L68.99 52.55L66.39 55.15L63.79 52.55ZM67.96 50.25L70.56 52.85L67.96 55.45L65.36 52.85ZM69.54 50.60L72.14 53.20L69.54 55.80L66.94 53.20ZM71.11 51.02L73.71 53.62L71.11 56.22L68.51 53.62ZM72.69 51.47L75.29 54.07L72.69 56.67L70.09 54.07ZM74.26 51.91L76.86 54.51L74.26 57.11L71.66 54.51ZM75.83 52.30L78.43 54.90L75.83 57.50L73.23 54.90ZM77.41 52.60L80.01 55.20L77.41 57.80L74.81 55.20ZM78.98 52.78L81.58 55.38L78.98 57.98L76.38 55.38ZM80.56 52.94L83.16 55.54L80.56 58.14L77.96 55.54ZM82.13 53.09L84.73 55.69L82.13 58.29L79.53 55.69ZM83.70 53.23L86.30 55.83L83.70 58.43L81.10 55.83ZM85.28 53.34L87.88 55.94L85.28 58.54L82.68 55.94ZM86.85 53.43L89.45 56.03L86.85 58.63L84.25 56.03ZM88.43 53.48L91.03 56.08L88.43 58.68L85.83 56.08ZM90.00 53.50L92.60 56.10L90.00 58.70L87.40 56.10ZM91.57 53.47L94.17 56.07L91.57 58.67L88.97 56.07ZM93.15 53.39L95.75 55.99L93.15 58.59L90.55 55.99ZM94.72 53.26L97.32 55.86L94.72 58.46L92.12 55.86ZM96.30 52.85L98.90 55.45L96.30 58.05L93.70 55.45ZM97.87 51.64L100.47 54.24L97.87 56.84L95.27 54.24ZM99.44 50.28L102.04 52.88L99.44 55.48L96.84 52.88ZM101.02 49.24L103.62 51.84L101.02 54.44L98.42 51.84ZM102.59 48.22L105.19 50.82L102.59 53.42L99.99 50.82ZM104.17 47.70L106.77 50.30L104.17 52.90L101.57 50.30ZM105.74 48.11L108.34 50.71L105.74 53.31L103.14 50.71ZM107.31 49.18L109.91 51.78L107.31 54.38L104.71 51.78ZM108.89 52.05L111.49 54.65L108.89 57.25L106.29 54.65ZM110.46 56.37L113.06 58.97L110.46 61.57L107.86 58.97ZM112.04 60.71L114.64 63.31L112.04 65.91L109.44 63.31ZM113.61 64.04L116.21 66.64L113.61 69.24L111.01 66.64ZM115.18 66.99L117.78 69.59L115.18 72.19L112.58 69.59ZM116.76 69.82L119.36 72.42L116.76 75.02L114.16 72.42ZM118.33 72.67L120.93 75.27L118.33 77.87L115.73 75.27ZM119.91 75.71L122.51 78.31L119.91 80.91L117.31 78.31ZM121.48 79.04L124.08 81.64L121.48 84.24L118.88 81.64ZM123.05 82.57L125.65 85.17L123.05 87.77L120.45 85.17ZM124.63 86.19L127.23 88.79L124.63 91.39L122.03 88.79ZM126.20 89.80L128.80 92.40L126.20 95.00L123.60 92.40ZM127.78 93.28L130.38 95.88L127.78 98.48L125.18 95.88ZM129.35 96.87L131.95 99.47L129.35 102.07L126.75 99.47ZM130.92 100.55L133.52 103.15L130.92 105.75L128.32 103.15ZM132.50 104.02L135.10 106.62L132.50 109.22L129.90 106.62ZM134.07 107.00L136.67 109.60L134.07 112.20L131.47 109.60ZM135.65 109.25L138.25 111.85L135.65 114.45L133.05 111.85ZM137.22 111.15L139.82 113.75L137.22 116.35L134.62 113.75ZM138.79 112.82L141.39 115.42L138.79 118.02L136.19 115.42ZM140.37 114.25L142.97 116.85L140.37 119.45L137.77 116.85ZM141.94 115.46L144.54 118.06L141.94 120.66L139.34 118.06ZM143.52 116.47L146.12 119.07L143.52 121.67L140.92 119.07ZM145.09 117.41L147.69 120.01L145.09 122.61L142.49 120.01ZM146.66 118.28L149.26 120.88L146.66 123.48L144.06 120.88ZM148.24 119.04L150.84 121.64L148.24 124.24L145.64 121.64ZM149.81 119.67L152.41 122.27L149.81 124.87L147.21 122.27ZM151.39 120.17L153.99 122.77L151.39 125.37L148.79 122.77ZM152.96 120.51L155.56 123.11L152.96 125.71L150.36 123.11ZM154.53 120.80L157.13 123.40L154.53 126.00L151.93 123.40ZM156.11 121.06L158.71 123.66L156.11 126.26L153.51 123.66ZM157.68 121.29L160.28 123.89L157.68 126.49L155.08 123.89ZM159.26 121.48L161.86 124.08L159.26 126.68L156.66 124.08ZM160.83 121.62L163.43 124.22L160.83 126.82L158.23 124.22ZM162.40 121.69L165.00 124.29L162.40 126.89L159.80 124.29ZM163.98 121.70L166.58 124.30L163.98 126.90L161.38 124.30ZM165.55 121.66L168.15 124.26L165.55 126.86L162.95 124.26ZM167.13 121.61L169.73 124.21L167.13 126.81L164.53 124.21ZM168.70 121.55L171.30 124.15L168.70 126.75L166.10 124.15ZM170.27 121.48L172.87 124.08L170.27 126.68L167.67 124.08ZM171.85 121.43L174.45 124.03L171.85 126.63L169.25 124.03ZM173.42 121.40L176.02 124.00L173.42 126.60L170.82 124.00ZM175.00 121.41L177.60 124.01L175.00 126.61L172.40 124.01ZM176.57 121.47L179.17 124.07L176.57 126.67L173.97 124.07ZM178.14 121.56L180.74 124.16L178.14 126.76L175.54 124.16ZM179.72 121.67L182.32 124.27L179.72 126.87L177.12 124.27ZM181.29 121.78L183.89 124.38L181.29 126.98L178.69 124.38ZM182.87 121.86L185.47 124.46L182.87 127.06L180.27 124.46ZM184.44 121.90L187.04 124.50L184.44 127.10L181.84 124.50ZM186.01 121.84L188.61 124.44L186.01 127.04L183.41 124.44ZM187.59 121.62L190.19 124.22L187.59 126.82L184.99 124.22ZM189.16 121.23L191.76 123.83L189.16 126.43L186.56 123.83ZM190.74 120.59L193.34 123.19L190.74 125.79L188.14 123.19ZM192.31 118.38L194.91 120.98L192.31 123.58L189.71 120.98ZM193.88 114.61L196.48 117.21L193.88 119.81L191.28 117.21ZM195.46 108.73L198.06 111.33L195.46 113.93L192.86 111.33ZM197.03 98.76L199.63 101.36L197.03 103.96L194.43 101.36ZM198.61 92.87L201.21 95.47L198.61 98.07L196.01 95.47ZM200.18 86.98L202.78 89.58L200.18 92.18L197.58 89.58ZM201.75 80.83L204.34 83.41L201.75 85.99L199.17 83.41ZM203.33 75.04L205.87 77.57L203.33 80.11L200.79 77.57ZM204.90 68.32L207.38 70.79L204.90 73.27L202.43 70.79ZM206.48 61.13L208.88 63.54L206.48 65.94L204.08 63.54ZM208.05 55.30L210.37 57.62L208.05 59.94L205.73 57.62ZM209.62 51.38L211.87 53.62L209.62 55.87L207.38 53.62ZM211.20 48.04L213.38 50.22L211.20 52.40L209.02 50.22ZM212.77 44.80L214.90 46.93L212.77 49.06L210.64 46.93ZM214.35 42.12L216.45 44.22L214.35 46.32L212.24 44.22ZM215.92 40.39L218.02 42.49L215.92 44.59L213.82 42.49ZM217.49 38.95L219.59 41.05L217.49 43.15L215.39 41.05ZM219.07 37.75L221.17 39.85L219.07 41.95L216.97 39.85ZM220.64 36.83L222.74 38.93L220.64 41.03L218.54 38.93ZM222.22 36.28L224.32 38.38L222.22 40.48L220.12 38.38ZM223.79 36.02L225.89 38.12L223.79 40.22L221.69 38.12ZM225.36 35.81L227.46 37.91L225.36 40.01L223.26 37.91ZM226.94 35.65L229.04 37.75L226.94 39.85L224.84 37.75ZM228.51 35.54L230.61 37.64L228.51 39.74L226.41 37.64ZM230.09 35.50L232.19 37.60L230.09 39.70L227.99 37.60ZM231.66 35.54L233.76 37.64L231.66 39.74L229.56 37.64ZM233.23 35.66L235.33 37.76L233.23 39.86L231.13 37.76ZM234.81 35.85L236.91 37.95L234.81 40.05L232.71 37.95ZM236.38 36.10L238.48 38.20L236.38 40.30L234.28 38.20ZM237.96 36.39L240.06 38.49L237.96 40.59L235.86 38.49ZM239.53 36.71L241.63 38.81L239.53 40.91L237.43 38.81ZM241.10 37.04L243.20 39.14L241.10 41.24L239.00 39.14ZM242.68 37.46L244.78 39.56L242.68 41.66L240.58 39.56ZM244.25 38.10L246.35 40.20L244.25 42.30L242.15 40.20ZM245.83 38.84L247.93 40.94L245.83 43.04L243.73 40.94ZM247.40 39.57L249.50 41.67L247.40 43.77L245.30 41.67ZM248.97 40.17L251.07 42.27L248.97 44.37L246.87 42.27ZM250.55 40.52L252.65 42.62L250.55 44.72L248.45 42.62ZM252.12 40.72L254.22 42.82L252.12 44.92L250.02 42.82ZM253.70 40.88L255.80 42.98L253.70 45.08L251.60 42.98ZM255.27 41.01L257.37 43.11L255.27 45.21L253.17 43.11ZM256.84 41.13L258.94 43.23L256.84 45.33L254.74 43.23ZM258.42 41.23L260.52 43.33L258.42 45.43L256.32 43.33ZM259.99 41.32L262.09 43.42L259.99 45.52L257.89 43.42ZM261.57 41.42L263.67 43.52L261.57 45.62L259.47 43.52ZM263.14 41.53L265.24 43.63L263.14 45.73L261.04 43.63ZM264.71 41.65L266.81 43.75L264.71 45.85L262.61 43.75ZM266.29 41.75L268.39 43.85L266.29 45.95L264.19 43.85ZM267.86 41.83L269.96 43.93L267.86 46.03L265.76 43.93ZM269.44 41.91L271.54 44.01L269.44 46.11L267.34 44.01ZM271.01 41.99L273.11 44.09L271.01 46.19L268.91 44.09ZM272.58 42.10L274.68 44.20L272.58 46.30L270.48 44.20ZM274.16 42.23L276.26 44.33L274.16 46.43L272.06 44.33ZM275.73 42.42L277.83 44.52L275.73 46.62L273.63 44.52ZM277.31 42.66L279.41 44.76L277.31 46.86L275.21 44.76ZM278.88 43.73L281.00 45.86L278.88 47.98L276.76 45.86ZM280.45 46.46L282.70 48.70L280.45 50.95L278.21 48.70ZM282.03 50.38L284.43 52.78L282.03 55.18L279.63 52.78ZM283.60 57.91L286.10 60.41L283.60 62.90L281.11 60.41ZM285.18 66.00L287.68 68.50L285.18 71.00L282.68 68.50ZM286.75 77.25L289.25 79.75L286.75 82.25L284.25 79.75ZM288.32 86.15L290.82 88.65L288.32 91.15L285.82 88.65ZM289.90 97.15L292.40 99.65L289.90 102.15L287.40 99.65ZM291.47 109.58L293.97 112.08L291.47 114.58L288.97 112.08ZM293.05 121.49L295.55 123.99L293.05 126.49L290.55 123.99ZM294.62 131.47L297.12 133.97L294.62 136.47L292.12 133.97ZM296.19 140.07L298.69 142.57L296.19 145.07L293.69 142.57ZM297.77 147.10L300.27 149.60L297.77 152.10L295.27 149.60ZM299.34 153.63L301.84 156.13L299.34 158.63L296.84 156.13ZM300.92 159.65L303.42 162.15L300.92 164.65L298.42 162.15ZM302.49 164.64L304.99 167.14L302.49 169.64L299.99 167.14ZM304.06 168.84L306.56 171.34L304.06 173.84L301.56 171.34ZM305.64 172.50L308.14 175.00L305.64 177.50L303.14 175.00ZM307.21 175.49L309.71 177.99L307.21 180.49L304.71 177.99ZM308.79 177.82L311.29 180.32L308.79 182.82L306.29 180.32ZM310.36 179.87L312.86 182.37L310.36 184.87L307.86 182.37ZM311.93 181.65L314.43 184.15L311.93 186.65L309.43 184.15ZM313.51 183.15L316.01 185.65L313.51 188.15L311.01 185.65ZM315.08 184.39L317.58 186.89L315.08 189.39L312.58 186.89ZM316.66 185.47L319.16 187.97L316.66 190.47L314.16 187.97ZM318.23 186.49L320.73 188.99L318.23 191.49L315.73 188.99ZM319.80 187.34L322.30 189.84L319.80 192.34L317.30 189.84ZM321.38 187.95L323.88 190.45L321.38 192.95L318.88 190.45ZM322.95 188.24L325.45 190.74L322.95 193.24L320.45 190.74ZM324.53 188.39L327.03 190.89L324.53 193.39L322.03 190.89ZM326.10 188.48L328.60 190.98L326.10 193.48L323.60 190.98Z" fill="#000"/>
<text x="135.7" y="149.5" font-size="11.8" stroke="#111" stroke-width="0.35" font-weight="bold" fill="#111" textLength="44.3" lengthAdjust="spacingAndGlyphs">p&lt;0.001</text>
<text x="232.0" y="68.3" font-size="11.8" stroke="#111" stroke-width="0.35" font-weight="bold" fill="#111" textLength="44.0" lengthAdjust="spacingAndGlyphs">p&lt;0.001</text>
<text x="102.5" y="191.0" font-size="13" stroke="#111" stroke-width="0.35" fill="#111" textLength="52.6" lengthAdjust="spacingAndGlyphs">UW Med</text>
<line x1="92.30" y1="252.10" x2="92.30" y2="416.70" stroke="#333" stroke-width="0.9" stroke-dasharray="1.5 1.5"/>
<line x1="184.90" y1="252.10" x2="184.90" y2="416.70" stroke="#333" stroke-width="0.9" stroke-dasharray="1.5 1.5"/>
<line x1="254.35" y1="252.10" x2="254.35" y2="416.70" stroke="#333" stroke-width="0.9" stroke-dasharray="1.5 1.5"/>
<line x1="46.00" y1="252.10" x2="46.00" y2="416.70" stroke="#000" stroke-width="1.3" />
<line x1="46.00" y1="416.70" x2="323.79" y2="416.70" stroke="#000" stroke-width="1.3" />
<line x1="323.60" y1="252.10" x2="323.60" y2="416.70" stroke="#555" stroke-width="1.5" />
<line x1="46.00" y1="252.10" x2="323.60" y2="252.10" stroke="#3a3a3a" stroke-width="1.6" />
<line x1="42.00" y1="416.70" x2="46.00" y2="416.70" stroke="#111" stroke-width="1" />
<text x="38.0" y="421.2" font-size="11" stroke="#111" stroke-width="0.2" text-anchor="end" fill="#111" textLength="17.5" lengthAdjust="spacingAndGlyphs">0.0</text>
<line x1="42.00" y1="390.30" x2="46.00" y2="390.30" stroke="#111" stroke-width="1" />
<text x="38.0" y="394.8" font-size="11" stroke="#111" stroke-width="0.2" text-anchor="end" fill="#111" textLength="17.5" lengthAdjust="spacingAndGlyphs">0.2</text>
<line x1="42.00" y1="363.90" x2="46.00" y2="363.90" stroke="#111" stroke-width="1" />
<text x="38.0" y="368.4" font-size="11" stroke="#111" stroke-width="0.2" text-anchor="end" fill="#111" textLength="17.5" lengthAdjust="spacingAndGlyphs">0.4</text>
<line x1="42.00" y1="337.50" x2="46.00" y2="337.50" stroke="#111" stroke-width="1" />
<text x="38.0" y="342.0" font-size="11" stroke="#111" stroke-width="0.2" text-anchor="end" fill="#111" textLength="17.5" lengthAdjust="spacingAndGlyphs">0.6</text>
<line x1="42.00" y1="311.10" x2="46.00" y2="311.10" stroke="#111" stroke-width="1" />
<text x="38.0" y="315.6" font-size="11" stroke="#111" stroke-width="0.2" text-anchor="end" fill="#111" textLength="17.5" lengthAdjust="spacingAndGlyphs">0.8</text>
<line x1="42.00" y1="284.70" x2="46.00" y2="284.70" stroke="#111" stroke-width="1" />
<text x="38.0" y="289.2" font-size="11" stroke="#111" stroke-width="0.2" text-anchor="end" fill="#111" textLength="17.5" lengthAdjust="spacingAndGlyphs">1.0</text>
<line x1="42.00" y1="258.30" x2="46.00" y2="258.30" stroke="#111" stroke-width="1" />
<text x="38.0" y="262.8" font-size="11" stroke="#111" stroke-width="0.2" text-anchor="end" fill="#111" textLength="17.5" lengthAdjust="spacingAndGlyphs">1.2</text>
<line x1="46.00" y1="416.70" x2="46.00" y2="420.70" stroke="#111" stroke-width="1" />
<text x="46.0" y="432.0" font-size="11" stroke="#111" stroke-width="0.25" text-anchor="middle" fill="#111" textLength="21.8" lengthAdjust="spacingAndGlyphs">−30</text>
<line x1="92.30" y1="416.70" x2="92.30" y2="420.70" stroke="#111" stroke-width="1" />
<text x="92.3" y="432.0" font-size="11" stroke="#111" stroke-width="0.25" text-anchor="middle" fill="#111" textLength="6.5" lengthAdjust="spacingAndGlyphs">0</text>
<line x1="138.60" y1="416.70" x2="138.60" y2="420.70" stroke="#111" stroke-width="1" />
<text x="138.6" y="432.0" font-size="11" stroke="#111" stroke-width="0.25" text-anchor="middle" fill="#111" textLength="12.9" lengthAdjust="spacingAndGlyphs">30</text>
<line x1="184.90" y1="416.70" x2="184.90" y2="420.70" stroke="#111" stroke-width="1" />
<text x="184.9" y="432.0" font-size="11" stroke="#111" stroke-width="0.25" text-anchor="middle" fill="#111" textLength="12.9" lengthAdjust="spacingAndGlyphs">60</text>
<line x1="231.20" y1="416.70" x2="231.20" y2="420.70" stroke="#111" stroke-width="1" />
<text x="231.2" y="432.0" font-size="11" stroke="#111" stroke-width="0.25" text-anchor="middle" fill="#111" textLength="12.9" lengthAdjust="spacingAndGlyphs">90</text>
<line x1="277.50" y1="416.70" x2="277.50" y2="420.70" stroke="#111" stroke-width="1" />
<text x="277.5" y="432.0" font-size="11" stroke="#111" stroke-width="0.25" text-anchor="middle" fill="#111" textLength="20.3" lengthAdjust="spacingAndGlyphs">120</text>
<line x1="323.79" y1="416.70" x2="323.79" y2="420.70" stroke="#111" stroke-width="1" />
<text x="323.8" y="432.0" font-size="11" stroke="#111" stroke-width="0.25" text-anchor="middle" fill="#111" textLength="20.3" lengthAdjust="spacingAndGlyphs">150</text>
<text x="15.0" y="334.0" font-size="10.5" stroke="#111" stroke-width="0.25" text-anchor="middle" fill="#111" textLength="125.0" lengthAdjust="spacingAndGlyphs" transform="rotate(-90 15.0 334.0)">OCR Fractional Change</text>
<text x="185.0" y="446.5" font-size="10.5" stroke="#111" stroke-width="0.25" text-anchor="middle" fill="#111" textLength="81.0" lengthAdjust="spacingAndGlyphs">Time (minutes)</text>
<text x="57.0" y="244.5" font-size="13.5" stroke="#000" stroke-width="0.3" textLength="22.5" lengthAdjust="spacingAndGlyphs">KRB</text>
<text x="100.0" y="244.5" font-size="13.5" stroke="#000" stroke-width="0.3" textLength="73.0" lengthAdjust="spacingAndGlyphs">30 μM Oligo</text>
<text x="191.2" y="244.5" font-size="13.5" stroke="#000" stroke-width="0.3" textLength="64.3" lengthAdjust="spacingAndGlyphs">1 μM FCCP</text>
<text x="273.7" y="244.5" font-size="13.5" stroke="#000" stroke-width="0.3" textLength="23.0" lengthAdjust="spacingAndGlyphs">KCN</text>
<text x="2.0" y="246.0" font-size="19" stroke="#000" stroke-width="0.3" font-weight="bold" textLength="12.8" lengthAdjust="spacingAndGlyphs">B</text>
<path d="M106.2 282.9V284.2M107.7 282.9V284.3M109.3 283.3V284.8M110.8 284.1V285.7M112.4 285.0V286.7M113.9 286.1V288.0M115.4 287.8V289.8M117.0 289.7V291.9M118.5 291.7V294.1M120.1 293.4V296.1M121.6 295.1V298.1M123.2 296.8V300.1M124.7 298.5V302.0M126.3 299.9V303.8M127.8 301.2V305.4M129.3 302.3V306.8M130.9 303.4V308.2M132.4 304.4V309.6M134.0 305.5V310.9M135.5 306.5V312.1M137.1 307.6V313.4M138.6 308.8V314.8M140.1 310.1V316.1M141.7 311.5V317.5M143.2 312.8V318.9M144.8 314.1V320.3M146.3 315.2V321.4M147.9 316.2V322.5M149.4 317.0V323.3M150.9 317.7V324.1M152.5 318.3V324.7M154.0 318.9V325.4M155.6 319.4V325.9M157.1 319.8V326.3M158.7 320.1V326.7M160.2 320.4V327.0M161.7 320.6V327.3M163.3 320.8V327.5M164.8 321.0V327.7M166.4 321.2V328.0M167.9 321.4V328.2M169.5 321.7V328.5M171.0 321.9V328.8M172.6 322.2V329.1M174.1 322.4V329.3M175.6 322.7V329.6M177.2 323.0V330.0M178.7 323.4V330.3M180.3 323.7V330.7M181.8 324.2V331.2M183.4 324.9V331.9M184.9 325.6V332.6M186.4 326.2V333.2M188.0 326.7V333.7M189.5 326.9V333.9M191.1 327.0V334.0M192.6 327.1V333.6M194.2 327.1V333.0M195.7 327.0V332.2M197.2 326.7V331.3M198.8 326.0V330.1M200.3 323.9V327.9M201.9 319.7V323.9M203.4 314.8V319.4M205.0 310.2V315.3M206.5 306.0V311.9M208.0 302.3V308.9M209.6 298.3V305.8M211.1 293.8V302.2M212.7 290.1V299.4M214.2 286.4V296.5M215.8 282.6V293.4M217.3 279.7V291.1M218.9 277.4V289.2M220.4 275.6V287.6M221.9 274.3V286.5M223.5 273.3V285.7M225.0 272.5V285.0M226.6 271.9V284.5M228.1 271.3V284.1M229.7 270.8V283.7M231.2 270.4V283.4M232.7 270.1V283.1M234.3 269.7V282.9M235.8 269.3V282.6M237.4 268.8V282.2M238.9 268.4V281.8M240.5 267.9V281.5M242.0 267.5V281.1M243.5 267.1V280.8M245.1 266.8V280.6M246.6 266.6V280.4M248.2 266.4V280.3M249.7 266.2V280.1M251.3 266.1V280.0M252.8 266.0V280.0M254.3 266.1V280.0M255.9 266.4V280.4M257.4 266.9V280.9M259.0 267.7V281.7M260.5 268.7V282.7M262.1 270.5V284.5M263.6 272.9V286.9M265.1 276.3V290.3M266.7 280.8V294.8M268.2 287.7V301.7M269.8 296.3V310.3M271.3 302.0V316.0M272.9 310.1V324.0M274.4 322.5V336.2M276.0 332.9V346.5M277.5 341.7V355.1M279.0 351.3V364.4M280.6 360.5V373.3M282.1 366.8V379.4M283.7 372.3V384.6M285.2 377.2V389.2M286.8 382.3V393.9M288.3 386.8V397.8M289.8 390.7V401.1M291.4 393.9V403.6M292.9 396.8V405.7M294.5 399.3V407.4M296.0 401.4V408.8M297.6 403.2V409.9M299.1 404.7V411.0M300.6 406.1V411.9M302.2 407.2V412.7M303.7 408.2V413.4M305.3 409.1V413.8M306.8 409.8V414.3M308.4 410.5V414.6M309.9 411.2V414.9M311.4 411.7V415.1M313.0 412.0V415.2M314.5 412.3V415.3M316.1 412.6V415.3M317.6 412.8V415.3M319.2 413.0V415.4M320.7 413.2V415.4M322.3 413.3V415.4M323.8 413.5V415.5" stroke="#a0a0a0" stroke-width="0.8" fill="none"/>
<path d="M103.6 282.9h5.2M103.6 284.2h5.2M105.1 282.9h5.2M105.1 284.3h5.2M106.7 283.3h5.2M106.7 284.8h5.2M108.2 284.1h5.2M108.2 285.7h5.2M109.8 285.0h5.2M109.8 286.7h5.2M111.3 286.1h5.2M111.3 288.0h5.2M112.8 287.8h5.2M112.8 289.8h5.2M114.4 289.7h5.2M114.4 291.9h5.2M115.9 291.7h5.2M115.9 294.1h5.2M117.5 293.4h5.2M117.5 296.1h5.2M119.0 295.1h5.2M119.0 298.1h5.2M120.6 296.8h5.2M120.6 300.1h5.2M122.1 298.5h5.2M122.1 302.0h5.2M123.7 299.9h5.2M123.7 303.8h5.2M125.2 301.2h5.2M125.2 305.4h5.2M126.7 302.3h5.2M126.7 306.8h5.2M128.3 303.4h5.2M128.3 308.2h5.2M129.8 304.4h5.2M129.8 309.6h5.2M131.4 305.5h5.2M131.4 310.9h5.2M132.9 306.5h5.2M132.9 312.1h5.2M134.5 307.6h5.2M134.5 313.4h5.2M136.0 308.8h5.2M136.0 314.8h5.2M137.5 310.1h5.2M137.5 316.1h5.2M139.1 311.5h5.2M139.1 317.5h5.2M140.6 312.8h5.2M140.6 318.9h5.2M142.2 314.1h5.2M142.2 320.3h5.2M143.7 315.2h5.2M143.7 321.4h5.2M145.3 316.2h5.2M145.3 322.5h5.2M146.8 317.0h5.2M146.8 323.3h5.2M148.3 317.7h5.2M148.3 324.1h5.2M149.9 318.3h5.2M149.9 324.7h5.2M151.4 318.9h5.2M151.4 325.4h5.2M153.0 319.4h5.2M153.0 325.9h5.2M154.5 319.8h5.2M154.5 326.3h5.2M156.1 320.1h5.2M156.1 326.7h5.2M157.6 320.4h5.2M157.6 327.0h5.2M159.1 320.6h5.2M159.1 327.3h5.2M160.7 320.8h5.2M160.7 327.5h5.2M162.2 321.0h5.2M162.2 327.7h5.2M163.8 321.2h5.2M163.8 328.0h5.2M165.3 321.4h5.2M165.3 328.2h5.2M166.9 321.7h5.2M166.9 328.5h5.2M168.4 321.9h5.2M168.4 328.8h5.2M170.0 322.2h5.2M170.0 329.1h5.2M171.5 322.4h5.2M171.5 329.3h5.2M173.0 322.7h5.2M173.0 329.6h5.2M174.6 323.0h5.2M174.6 330.0h5.2M176.1 323.4h5.2M176.1 330.3h5.2M177.7 323.7h5.2M177.7 330.7h5.2M179.2 324.2h5.2M179.2 331.2h5.2M180.8 324.9h5.2M180.8 331.9h5.2M182.3 325.6h5.2M182.3 332.6h5.2M183.8 326.2h5.2M183.8 333.2h5.2M185.4 326.7h5.2M185.4 333.7h5.2M186.9 326.9h5.2M186.9 333.9h5.2M188.5 327.0h5.2M188.5 334.0h5.2M190.0 327.1h5.2M190.0 333.6h5.2M191.6 327.1h5.2M191.6 333.0h5.2M193.1 327.0h5.2M193.1 332.2h5.2M194.6 326.7h5.2M194.6 331.3h5.2M196.2 326.0h5.2M196.2 330.1h5.2M197.7 323.9h5.2M197.7 327.9h5.2M199.3 319.7h5.2M199.3 323.9h5.2M200.8 314.8h5.2M200.8 319.4h5.2M202.4 310.2h5.2M202.4 315.3h5.2M203.9 306.0h5.2M203.9 311.9h5.2M205.4 302.3h5.2M205.4 308.9h5.2M207.0 298.3h5.2M207.0 305.8h5.2M208.5 293.8h5.2M208.5 302.2h5.2M210.1 290.1h5.2M210.1 299.4h5.2M211.6 286.4h5.2M211.6 296.5h5.2M213.2 282.6h5.2M213.2 293.4h5.2M214.7 279.7h5.2M214.7 291.1h5.2M216.3 277.4h5.2M216.3 289.2h5.2M217.8 275.6h5.2M217.8 287.6h5.2M219.3 274.3h5.2M219.3 286.5h5.2M220.9 273.3h5.2M220.9 285.7h5.2M222.4 272.5h5.2M222.4 285.0h5.2M224.0 271.9h5.2M224.0 284.5h5.2M225.5 271.3h5.2M225.5 284.1h5.2M227.1 270.8h5.2M227.1 283.7h5.2M228.6 270.4h5.2M228.6 283.4h5.2M230.1 270.1h5.2M230.1 283.1h5.2M231.7 269.7h5.2M231.7 282.9h5.2M233.2 269.3h5.2M233.2 282.6h5.2M234.8 268.8h5.2M234.8 282.2h5.2M236.3 268.4h5.2M236.3 281.8h5.2M237.9 267.9h5.2M237.9 281.5h5.2M239.4 267.5h5.2M239.4 281.1h5.2M240.9 267.1h5.2M240.9 280.8h5.2M242.5 266.8h5.2M242.5 280.6h5.2M244.0 266.6h5.2M244.0 280.4h5.2M245.6 266.4h5.2M245.6 280.3h5.2M247.1 266.2h5.2M247.1 280.1h5.2M248.7 266.1h5.2M248.7 280.0h5.2M250.2 266.0h5.2M250.2 280.0h5.2M251.7 266.1h5.2M251.7 280.0h5.2M253.3 266.4h5.2M253.3 280.4h5.2M254.8 266.9h5.2M254.8 280.9h5.2M256.4 267.7h5.2M256.4 281.7h5.2M257.9 268.7h5.2M257.9 282.7h5.2M259.5 270.5h5.2M259.5 284.5h5.2M261.0 272.9h5.2M261.0 286.9h5.2M262.5 276.3h5.2M262.5 290.3h5.2M264.1 280.8h5.2M264.1 294.8h5.2M265.6 287.7h5.2M265.6 301.7h5.2M267.2 296.3h5.2M267.2 310.3h5.2M268.7 302.0h5.2M268.7 316.0h5.2M270.3 310.1h5.2M270.3 324.0h5.2M271.8 322.5h5.2M271.8 336.2h5.2M273.4 332.9h5.2M273.4 346.5h5.2M274.9 341.7h5.2M274.9 355.1h5.2M276.4 351.3h5.2M276.4 364.4h5.2M278.0 360.5h5.2M278.0 373.3h5.2M279.5 366.8h5.2M279.5 379.4h5.2M281.1 372.3h5.2M281.1 384.6h5.2M282.6 377.2h5.2M282.6 389.2h5.2M284.2 382.3h5.2M284.2 393.9h5.2M285.7 386.8h5.2M285.7 397.8h5.2M287.2 390.7h5.2M287.2 401.1h5.2M288.8 393.9h5.2M288.8 403.6h5.2M290.3 396.8h5.2M290.3 405.7h5.2M291.9 399.3h5.2M291.9 407.4h5.2M293.4 401.4h5.2M293.4 408.8h5.2M295.0 403.2h5.2M295.0 409.9h5.2M296.5 404.7h5.2M296.5 411.0h5.2M298.0 406.1h5.2M298.0 411.9h5.2M299.6 407.2h5.2M299.6 412.7h5.2M301.1 408.2h5.2M301.1 413.4h5.2M302.7 409.1h5.2M302.7 413.8h5.2M304.2 409.8h5.2M304.2 414.3h5.2M305.8 410.5h5.2M305.8 414.6h5.2M307.3 411.2h5.2M307.3 414.9h5.2M308.8 411.7h5.2M308.8 415.1h5.2M310.4 412.0h5.2M310.4 415.2h5.2M311.9 412.3h5.2M311.9 415.3h5.2M313.5 412.6h5.2M313.5 415.3h5.2M315.0 412.8h5.2M315.0 415.3h5.2M316.6 413.0h5.2M316.6 415.4h5.2M318.1 413.2h5.2M318.1 415.4h5.2M319.7 413.3h5.2M319.7 415.4h5.2M321.2 413.5h5.2M321.2 415.5h5.2" stroke="#383838" stroke-width="1.0" fill="none"/>
<polygon points="46.5,283.50 47.0,283.42 47.5,283.34 48.0,283.28 48.5,283.22 49.0,283.16 49.5,283.11 50.0,283.06 50.5,283.02 51.0,282.98 51.5,282.95 52.0,282.92 52.5,282.89 53.0,282.87 53.5,282.85 54.0,282.84 54.5,282.83 55.0,282.82 55.5,282.81 56.0,282.80 56.5,282.80 57.0,282.80 57.5,282.81 58.0,282.84 58.5,282.88 59.0,282.94 59.5,283.01 60.0,283.08 60.5,283.17 61.0,283.25 61.5,283.33 62.0,283.42 62.5,283.49 63.0,283.56 63.5,283.62 64.0,283.66 64.5,283.69 65.0,283.70 65.5,283.69 66.0,283.66 66.5,283.62 67.0,283.56 67.5,283.50 68.0,283.42 68.5,283.34 69.0,283.26 69.5,283.17 70.0,283.08 70.5,283.00 71.0,282.93 71.5,282.86 72.0,282.80 72.5,282.75 73.0,282.69 73.5,282.64 74.0,282.58 74.5,282.53 75.0,282.47 75.5,282.41 76.0,282.36 76.5,282.30 77.0,282.25 77.5,282.20 78.0,282.15 78.5,282.10 79.0,282.05 79.5,282.01 80.0,281.97 80.5,281.93 81.0,281.90 81.5,281.87 82.0,281.85 82.5,281.83 83.0,281.81 83.5,281.80 84.0,281.80 84.5,281.81 85.0,281.84 85.5,281.88 86.0,281.93 86.5,281.99 87.0,282.07 87.5,282.15 88.0,282.23 88.5,282.32 89.0,282.41 89.5,282.49 90.0,282.58 90.5,282.66 91.0,282.73 91.5,282.79 92.0,282.84 92.5,282.88 93.0,282.90 93.5,282.91 94.0,282.93 94.5,282.94 95.0,282.95 95.5,282.96 96.0,282.97 96.5,282.98 97.0,282.99 97.5,282.99 98.0,283.00 98.5,283.00 99.0,283.00 99.5,282.98 100.0,282.92 100.5,282.83 101.0,282.71 101.5,282.57 102.0,282.42 102.5,282.25 103.0,282.08 103.5,281.91 104.0,281.75 104.5,281.60 105.0,281.46 105.5,281.35 106.0,281.26 106.5,281.21 107.0,281.20 107.5,281.24 108.0,281.34 108.5,281.48 109.0,281.66 109.5,281.88 110.0,282.13 110.5,282.41 111.0,282.70 111.5,283.01 112.0,283.32 112.5,283.64 113.0,283.98 113.5,284.39 113.5,288.99 113.0,288.58 112.5,288.24 112.0,287.92 111.5,287.61 111.0,287.30 110.5,287.01 110.0,286.73 109.5,286.48 109.0,286.26 108.5,286.08 108.0,285.94 107.5,285.84 107.0,285.80 106.5,285.81 106.0,285.86 105.5,285.95 105.0,286.06 104.5,286.20 104.0,286.35 103.5,286.51 103.0,286.68 102.5,286.85 102.0,287.02 101.5,287.17 101.0,287.31 100.5,287.43 100.0,287.52 99.5,287.58 99.0,287.60 98.5,287.60 98.0,287.60 97.5,287.59 97.0,287.59 96.5,287.58 96.0,287.57 95.5,287.56 95.0,287.55 94.5,287.54 94.0,287.53 93.5,287.51 93.0,287.50 92.5,287.48 92.0,287.44 91.5,287.39 91.0,287.33 90.5,287.26 90.0,287.18 89.5,287.09 89.0,287.01 88.5,286.92 88.0,286.83 87.5,286.75 87.0,286.67 86.5,286.59 86.0,286.53 85.5,286.48 85.0,286.44 84.5,286.41 84.0,286.40 83.5,286.40 83.0,286.41 82.5,286.43 82.0,286.45 81.5,286.47 81.0,286.50 80.5,286.53 80.0,286.57 79.5,286.61 79.0,286.65 78.5,286.70 78.0,286.75 77.5,286.80 77.0,286.85 76.5,286.90 76.0,286.96 75.5,287.01 75.0,287.07 74.5,287.13 74.0,287.18 73.5,287.24 73.0,287.29 72.5,287.35 72.0,287.40 71.5,287.46 71.0,287.53 70.5,287.60 70.0,287.68 69.5,287.77 69.0,287.86 68.5,287.94 68.0,288.02 67.5,288.10 67.0,288.16 66.5,288.22 66.0,288.26 65.5,288.29 65.0,288.30 64.5,288.29 64.0,288.26 63.5,288.22 63.0,288.16 62.5,288.09 62.0,288.02 61.5,287.93 61.0,287.85 60.5,287.77 60.0,287.68 59.5,287.61 59.0,287.54 58.5,287.48 58.0,287.44 57.5,287.41 57.0,287.40 56.5,287.40 56.0,287.40 55.5,287.41 55.0,287.42 54.5,287.43 54.0,287.44 53.5,287.45 53.0,287.47 52.5,287.49 52.0,287.52 51.5,287.55 51.0,287.58 50.5,287.62 50.0,287.66 49.5,287.71 49.0,287.76 48.5,287.82 48.0,287.88 47.5,287.94 47.0,288.02 46.5,288.10" fill="#000"/>
<polygon points="126.0,299.30 126.5,299.78 127.0,300.25 127.5,300.70 128.0,301.14 128.5,301.57 129.0,302.00 129.5,302.41 130.0,302.81 130.5,303.21 131.0,303.60 131.5,303.99 132.0,304.37 132.5,304.75 133.0,305.13 133.5,305.51 134.0,305.88 134.5,306.26 135.0,306.64 135.5,307.02 136.0,307.40 136.5,307.79 137.0,308.18 137.5,308.58 138.0,308.99 138.5,309.41 139.0,309.84 139.5,310.27 140.0,310.71 140.5,311.16 141.0,311.60 141.5,312.05 142.0,312.49 142.5,312.94 143.0,313.37 143.5,313.81 144.0,314.23 144.5,314.64 145.0,315.04 145.5,315.43 146.0,315.81 146.5,316.16 147.0,316.50 147.5,316.82 148.0,317.12 148.5,317.40 149.0,317.65 149.5,317.90 150.0,318.14 150.5,318.37 151.0,318.60 151.5,318.82 152.0,319.03 152.5,319.24 153.0,319.44 153.5,319.63 154.0,319.81 154.5,319.98 155.0,320.15 155.5,320.31 156.0,320.46 156.5,320.60 157.0,320.73 157.5,320.85 158.0,320.97 158.5,321.07 159.0,321.17 159.5,321.27 160.0,321.36 160.5,321.45 161.0,321.53 161.5,321.61 162.0,321.68 162.5,321.75 163.0,321.82 163.5,321.89 164.0,321.96 164.5,322.03 165.0,322.10 165.5,322.17 166.0,322.24 166.5,322.31 167.0,322.38 167.5,322.45 168.0,322.53 168.5,322.61 169.0,322.70 169.5,322.79 170.0,322.87 170.5,322.96 171.0,323.05 171.5,323.14 172.0,323.22 172.5,323.31 173.0,323.40 173.5,323.49 174.0,323.58 174.5,323.67 175.0,323.77 175.5,323.86 176.0,323.96 176.5,324.06 177.0,324.16 177.5,324.27 178.0,324.38 178.5,324.49 179.0,324.61 179.5,324.73 180.0,324.85 180.5,324.98 181.0,325.13 181.5,325.31 182.0,325.50 182.5,325.70 183.0,325.91 183.5,326.13 184.0,326.36 184.5,326.58 185.0,326.80 185.5,327.02 186.0,327.22 186.5,327.41 187.0,327.59 187.5,327.75 188.0,327.88 188.5,327.99 189.0,328.07 189.5,328.12 190.0,328.16 190.5,328.19 191.0,328.20 191.5,328.19 192.0,328.15 192.5,328.08 193.0,328.00 193.5,327.89 194.0,327.77 194.5,327.64 195.0,327.50 195.5,327.35 196.0,327.20 196.5,327.03 197.0,326.83 197.5,326.59 198.0,326.30 198.5,325.96 199.0,325.56 199.0,330.16 198.5,330.56 198.0,330.90 197.5,331.19 197.0,331.43 196.5,331.63 196.0,331.80 195.5,331.95 195.0,332.10 194.5,332.24 194.0,332.37 193.5,332.49 193.0,332.60 192.5,332.68 192.0,332.75 191.5,332.79 191.0,332.80 190.5,332.79 190.0,332.76 189.5,332.72 189.0,332.67 188.5,332.59 188.0,332.48 187.5,332.35 187.0,332.19 186.5,332.01 186.0,331.82 185.5,331.62 185.0,331.40 184.5,331.18 184.0,330.96 183.5,330.73 183.0,330.51 182.5,330.30 182.0,330.10 181.5,329.91 181.0,329.73 180.5,329.58 180.0,329.45 179.5,329.33 179.0,329.21 178.5,329.09 178.0,328.98 177.5,328.87 177.0,328.76 176.5,328.66 176.0,328.56 175.5,328.46 175.0,328.37 174.5,328.27 174.0,328.18 173.5,328.09 173.0,328.00 172.5,327.91 172.0,327.82 171.5,327.74 171.0,327.65 170.5,327.56 170.0,327.47 169.5,327.39 169.0,327.30 168.5,327.21 168.0,327.13 167.5,327.05 167.0,326.98 166.5,326.91 166.0,326.84 165.5,326.77 165.0,326.70 164.5,326.63 164.0,326.56 163.5,326.49 163.0,326.42 162.5,326.35 162.0,326.28 161.5,326.21 161.0,326.13 160.5,326.05 160.0,325.96 159.5,325.87 159.0,325.77 158.5,325.67 158.0,325.57 157.5,325.45 157.0,325.33 156.5,325.20 156.0,325.06 155.5,324.91 155.0,324.75 154.5,324.58 154.0,324.41 153.5,324.23 153.0,324.04 152.5,323.84 152.0,323.63 151.5,323.42 151.0,323.20 150.5,322.97 150.0,322.74 149.5,322.50 149.0,322.25 148.5,322.00 148.0,321.72 147.5,321.42 147.0,321.10 146.5,320.76 146.0,320.41 145.5,320.03 145.0,319.64 144.5,319.24 144.0,318.83 143.5,318.41 143.0,317.97 142.5,317.54 142.0,317.09 141.5,316.65 141.0,316.20 140.5,315.76 140.0,315.31 139.5,314.87 139.0,314.44 138.5,314.01 138.0,313.59 137.5,313.18 137.0,312.78 136.5,312.39 136.0,312.00 135.5,311.62 135.0,311.24 134.5,310.86 134.0,310.48 133.5,310.11 133.0,309.73 132.5,309.35 132.0,308.97 131.5,308.59 131.0,308.20 130.5,307.81 130.0,307.41 129.5,307.01 129.0,306.60 128.5,306.17 128.0,305.74 127.5,305.30 127.0,304.85 126.5,304.38 126.0,303.90" fill="#000"/>
<polygon points="220.5,279.18 221.0,278.77 221.5,278.42 222.0,278.08 222.5,277.77 223.0,277.48 223.5,277.21 224.0,276.95 224.5,276.71 225.0,276.49 225.5,276.28 226.0,276.09 226.5,275.90 227.0,275.73 227.5,275.57 228.0,275.42 228.5,275.28 229.0,275.14 229.5,275.02 230.0,274.90 230.5,274.78 231.0,274.67 231.5,274.56 232.0,274.46 232.5,274.35 233.0,274.25 233.5,274.14 234.0,274.04 234.5,273.93 235.0,273.82 235.5,273.70 236.0,273.58 236.5,273.45 237.0,273.32 237.5,273.19 238.0,273.05 238.5,272.91 239.0,272.78 239.5,272.64 240.0,272.50 240.5,272.37 241.0,272.24 241.5,272.11 242.0,271.99 242.5,271.88 243.0,271.77 243.5,271.67 244.0,271.58 244.5,271.50 245.0,271.43 245.5,271.36 246.0,271.30 246.5,271.24 247.0,271.18 247.5,271.12 248.0,271.07 248.5,271.01 249.0,270.96 249.5,270.91 250.0,270.87 250.5,270.83 251.0,270.79 251.5,270.76 252.0,270.74 252.5,270.72 253.0,270.71 253.5,270.70 254.0,270.71 254.5,270.76 255.0,270.84 255.5,270.95 256.0,271.09 256.5,271.26 257.0,271.45 257.5,271.65 258.0,271.88 258.5,272.12 259.0,272.38 259.5,272.65 260.0,272.95 260.5,273.36 260.5,277.96 260.0,277.55 259.5,277.25 259.0,276.98 258.5,276.72 258.0,276.48 257.5,276.25 257.0,276.05 256.5,275.86 256.0,275.69 255.5,275.55 255.0,275.44 254.5,275.36 254.0,275.31 253.5,275.30 253.0,275.31 252.5,275.32 252.0,275.34 251.5,275.36 251.0,275.39 250.5,275.43 250.0,275.47 249.5,275.51 249.0,275.56 248.5,275.61 248.0,275.67 247.5,275.72 247.0,275.78 246.5,275.84 246.0,275.90 245.5,275.96 245.0,276.03 244.5,276.10 244.0,276.18 243.5,276.27 243.0,276.37 242.5,276.48 242.0,276.59 241.5,276.71 241.0,276.84 240.5,276.97 240.0,277.10 239.5,277.24 239.0,277.38 238.5,277.51 238.0,277.65 237.5,277.79 237.0,277.92 236.5,278.05 236.0,278.18 235.5,278.30 235.0,278.42 234.5,278.53 234.0,278.64 233.5,278.74 233.0,278.85 232.5,278.95 232.0,279.06 231.5,279.16 231.0,279.27 230.5,279.38 230.0,279.50 229.5,279.62 229.0,279.74 228.5,279.88 228.0,280.02 227.5,280.17 227.0,280.33 226.5,280.50 226.0,280.69 225.5,280.88 225.0,281.09 224.5,281.31 224.0,281.55 223.5,281.81 223.0,282.08 222.5,282.37 222.0,282.68 221.5,283.02 221.0,283.37 220.5,283.78" fill="#000"/>
<polygon points="296.5,403.29 297.0,403.75 297.5,404.21 298.0,404.64 298.5,405.07 299.0,405.47 299.5,405.86 300.0,406.24 300.5,406.60 301.0,406.94 301.5,407.27 302.0,407.57 302.5,407.86 303.0,408.14 303.5,408.39 304.0,408.63 304.5,408.84 305.0,409.05 305.5,409.25 306.0,409.45 306.5,409.64 307.0,409.83 307.5,410.01 308.0,410.18 308.5,410.34 309.0,410.49 309.5,410.64 310.0,410.77 310.5,410.89 311.0,411.01 311.5,411.11 312.0,411.20 312.5,411.27 313.0,411.34 313.5,411.40 314.0,411.46 314.5,411.51 315.0,411.56 315.5,411.61 316.0,411.65 316.5,411.70 317.0,411.74 317.5,411.77 318.0,411.81 318.5,411.85 319.0,411.88 319.5,411.91 320.0,411.94 320.5,411.97 321.0,412.00 321.5,412.03 322.0,412.06 322.5,412.09 323.0,412.12 323.5,412.15 323.5,416.75 323.0,416.72 322.5,416.69 322.0,416.66 321.5,416.63 321.0,416.60 320.5,416.57 320.0,416.54 319.5,416.51 319.0,416.48 318.5,416.45 318.0,416.41 317.5,416.37 317.0,416.34 316.5,416.30 316.0,416.25 315.5,416.21 315.0,416.16 314.5,416.11 314.0,416.06 313.5,416.00 313.0,415.94 312.5,415.87 312.0,415.80 311.5,415.71 311.0,415.61 310.5,415.49 310.0,415.37 309.5,415.24 309.0,415.09 308.5,414.94 308.0,414.78 307.5,414.61 307.0,414.43 306.5,414.24 306.0,414.05 305.5,413.85 305.0,413.65 304.5,413.44 304.0,413.23 303.5,412.99 303.0,412.74 302.5,412.46 302.0,412.17 301.5,411.87 301.0,411.54 300.5,411.20 300.0,410.84 299.5,410.46 299.0,410.07 298.5,409.67 298.0,409.24 297.5,408.81 297.0,408.35 296.5,407.89" fill="#000"/>
<path d="M47.54 283.04L50.14 285.64L47.54 288.24L44.94 285.64ZM49.09 282.85L51.69 285.45L49.09 288.05L46.49 285.45ZM50.63 282.71L53.23 285.31L50.63 287.91L48.03 285.31ZM52.17 282.61L54.77 285.21L52.17 287.81L49.57 285.21ZM53.72 282.55L56.32 285.15L53.72 287.75L51.12 285.15ZM55.26 282.51L57.86 285.11L55.26 287.71L52.66 285.11ZM56.80 282.50L59.40 285.10L56.80 287.70L54.20 285.10ZM58.35 282.57L60.95 285.17L58.35 287.77L55.75 285.17ZM59.89 282.77L62.49 285.37L59.89 287.97L57.29 285.37ZM61.43 283.02L64.03 285.62L61.43 288.22L58.83 285.62ZM62.98 283.26L65.58 285.86L62.98 288.46L60.38 285.86ZM64.52 283.39L67.12 285.99L64.52 288.59L61.92 285.99ZM66.06 283.36L68.66 285.96L66.06 288.56L63.46 285.96ZM67.61 283.18L70.21 285.78L67.61 288.38L65.01 285.78ZM69.15 282.93L71.75 285.53L69.15 288.13L66.55 285.53ZM70.69 282.67L73.29 285.27L70.69 287.87L68.09 285.27ZM72.24 282.48L74.84 285.08L72.24 287.68L69.64 285.08ZM73.78 282.31L76.38 284.91L73.78 287.51L71.18 284.91ZM75.32 282.13L77.92 284.73L75.32 287.33L72.72 284.73ZM76.87 281.96L79.47 284.56L76.87 287.16L74.27 284.56ZM78.41 281.81L81.01 284.41L78.41 287.01L75.81 284.41ZM79.95 281.67L82.55 284.27L79.95 286.87L77.35 284.27ZM81.50 281.57L84.10 284.17L81.50 286.77L78.90 284.17ZM83.04 281.51L85.64 284.11L83.04 286.71L80.44 284.11ZM84.58 281.51L87.18 284.11L84.58 286.71L81.98 284.11ZM86.13 281.64L88.73 284.24L86.13 286.84L83.53 284.24ZM87.67 281.87L90.27 284.47L87.67 287.07L85.07 284.47ZM89.21 282.14L91.81 284.74L89.21 287.34L86.61 284.74ZM90.76 282.39L93.36 284.99L90.76 287.59L88.16 284.99ZM92.30 282.56L94.90 285.16L92.30 287.76L89.70 285.16ZM93.84 282.62L96.44 285.22L93.84 287.82L91.24 285.22ZM95.39 282.66L97.99 285.26L95.39 287.86L92.79 285.26ZM96.93 282.69L99.53 285.29L96.93 287.89L94.33 285.29ZM98.47 282.70L101.07 285.30L98.47 287.90L95.87 285.30ZM100.02 282.62L102.62 285.22L100.02 287.82L97.42 285.22ZM101.56 282.26L104.16 284.86L101.56 287.46L98.96 284.86ZM103.10 281.75L105.70 284.35L103.10 286.95L100.50 284.35ZM104.65 281.26L107.25 283.86L104.65 286.46L102.05 283.86ZM106.19 280.94L108.79 283.54L106.19 286.14L103.59 283.54ZM107.73 280.98L110.33 283.58L107.73 286.18L105.13 283.58ZM109.28 281.48L111.88 284.08L109.28 286.68L106.68 284.08ZM110.82 282.29L113.42 284.89L110.82 287.49L108.22 284.89ZM112.36 283.25L114.96 285.85L112.36 288.45L109.76 285.85ZM113.91 284.47L116.51 287.07L113.91 289.67L111.31 287.07ZM115.45 286.21L118.05 288.81L115.45 291.41L112.85 288.81ZM116.99 288.24L119.59 290.84L116.99 293.44L114.39 290.84ZM118.54 290.27L121.14 292.87L118.54 295.47L115.94 292.87ZM120.08 292.12L122.68 294.72L120.08 297.32L117.48 294.72ZM121.62 294.00L124.22 296.60L121.62 299.20L119.02 296.60ZM123.17 295.88L125.77 298.48L123.17 301.08L120.57 298.48ZM124.71 297.66L127.31 300.26L124.71 302.86L122.11 300.26ZM126.25 299.25L128.85 301.85L126.25 304.45L123.65 301.85ZM127.80 300.66L130.40 303.26L127.80 305.86L125.20 303.26ZM129.34 301.98L131.94 304.58L129.34 307.18L126.74 304.58ZM130.88 303.21L133.48 305.81L130.88 308.41L128.28 305.81ZM132.43 304.40L135.03 307.00L132.43 309.60L129.83 307.00ZM133.97 305.56L136.57 308.16L133.97 310.76L131.37 308.16ZM135.51 306.73L138.11 309.33L135.51 311.93L132.91 309.33ZM137.06 307.93L139.66 310.53L137.06 313.13L134.46 310.53ZM138.60 309.19L141.20 311.79L138.60 314.39L136.00 311.79ZM140.14 310.54L142.74 313.14L140.14 315.74L137.54 313.14ZM141.69 311.91L144.29 314.51L141.69 317.11L139.09 314.51ZM143.23 313.27L145.83 315.87L143.23 318.47L140.63 315.87ZM144.77 314.56L147.37 317.16L144.77 319.76L142.17 317.16ZM146.32 315.73L148.92 318.33L146.32 320.93L143.72 318.33ZM147.86 316.74L150.46 319.34L147.86 321.94L145.26 319.34ZM149.40 317.55L152.00 320.15L149.40 322.75L146.80 320.15ZM150.95 318.27L153.55 320.87L150.95 323.47L148.35 320.87ZM152.49 318.93L155.09 321.53L152.49 324.13L149.89 321.53ZM154.03 319.52L156.63 322.12L154.03 324.72L151.43 322.12ZM155.58 320.03L158.18 322.63L155.58 325.23L152.98 322.63ZM157.12 320.46L159.72 323.06L157.12 325.66L154.52 323.06ZM158.66 320.81L161.26 323.41L158.66 326.01L156.06 323.41ZM160.21 321.10L162.81 323.70L160.21 326.30L157.61 323.70ZM161.75 321.34L164.35 323.94L161.75 326.54L159.15 323.94ZM163.29 321.56L165.89 324.16L163.29 326.76L160.69 324.16ZM164.84 321.78L167.44 324.38L164.84 326.98L162.24 324.38ZM166.38 321.99L168.98 324.59L166.38 327.19L163.78 324.59ZM167.92 322.22L170.52 324.82L167.92 327.42L165.32 324.82ZM169.46 322.48L172.06 325.08L169.46 327.68L166.86 325.08ZM171.01 322.75L173.61 325.35L171.01 327.95L168.41 325.35ZM172.55 323.02L175.15 325.62L172.55 328.22L169.95 325.62ZM174.09 323.30L176.69 325.90L174.09 328.50L171.49 325.90ZM175.64 323.59L178.24 326.19L175.64 328.79L173.04 326.19ZM177.18 323.90L179.78 326.50L177.18 329.10L174.58 326.50ZM178.72 324.24L181.32 326.84L178.72 329.44L176.12 326.84ZM180.27 324.62L182.87 327.22L180.27 329.82L177.67 327.22ZM181.81 325.12L184.41 327.72L181.81 330.32L179.21 327.72ZM183.35 325.77L185.95 328.37L183.35 330.97L180.75 328.37ZM184.90 326.46L187.50 329.06L184.90 331.66L182.30 329.06ZM186.44 327.09L189.04 329.69L186.44 332.29L183.84 329.69ZM187.98 327.58L190.58 330.18L187.98 332.78L185.38 330.18ZM189.53 327.82L192.13 330.42L189.53 333.02L186.93 330.42ZM191.07 327.90L193.67 330.50L191.07 333.10L188.47 330.50ZM192.61 327.76L195.21 330.36L192.61 332.96L190.01 330.36ZM194.16 327.43L196.76 330.03L194.16 332.63L191.56 330.03ZM195.70 326.99L198.30 329.59L195.70 332.19L193.10 329.59ZM197.24 326.42L199.84 329.02L197.24 331.62L194.64 329.02ZM198.79 325.44L201.39 328.04L198.79 330.64L196.19 328.04ZM200.33 323.30L202.93 325.90L200.33 328.50L197.73 325.90ZM201.87 319.20L204.47 321.80L201.87 324.40L199.27 321.80ZM203.42 314.53L206.02 317.13L203.42 319.73L200.82 317.13ZM204.96 310.15L207.56 312.75L204.96 315.35L202.36 312.75ZM206.50 306.36L209.10 308.96L206.50 311.56L203.90 308.96ZM208.05 303.02L210.65 305.62L208.05 308.22L205.45 305.62ZM209.59 299.43L212.19 302.03L209.59 304.63L206.99 302.03ZM211.13 295.36L213.73 297.96L211.13 300.56L208.53 297.96ZM212.68 292.18L215.28 294.78L212.68 297.38L210.08 294.78ZM214.22 288.82L216.82 291.42L214.22 294.02L211.62 291.42ZM215.76 285.37L218.36 287.97L215.76 290.57L213.16 287.97ZM217.31 282.82L219.91 285.42L217.31 288.02L214.71 285.42ZM218.85 280.67L221.45 283.27L218.85 285.87L216.25 283.27ZM220.39 278.98L222.99 281.58L220.39 284.18L217.79 281.58ZM221.94 277.82L224.54 280.42L221.94 283.02L219.34 280.42ZM223.48 276.92L226.08 279.52L223.48 282.12L220.88 279.52ZM225.02 276.18L227.62 278.78L225.02 281.38L222.42 278.78ZM226.57 275.58L229.17 278.18L226.57 280.78L223.97 278.18ZM228.11 275.09L230.71 277.69L228.11 280.29L225.51 277.69ZM229.65 274.68L232.25 277.28L229.65 279.88L227.05 277.28ZM231.20 274.33L233.80 276.93L231.20 279.53L228.60 276.93ZM232.74 274.00L235.34 276.60L232.74 279.20L230.14 276.60ZM234.28 273.68L236.88 276.28L234.28 278.88L231.68 276.28ZM235.83 273.32L238.43 275.92L235.83 278.52L233.23 275.92ZM237.37 272.92L239.97 275.52L237.37 278.12L234.77 275.52ZM238.91 272.50L241.51 275.10L238.91 277.70L236.31 275.10ZM240.46 272.08L243.06 274.68L240.46 277.28L237.86 274.68ZM242.00 271.69L244.60 274.29L242.00 276.89L239.40 274.29ZM243.54 271.36L246.14 273.96L243.54 276.56L240.94 273.96ZM245.09 271.11L247.69 273.71L245.09 276.31L242.49 273.71ZM246.63 270.93L249.23 273.53L246.63 276.13L244.03 273.53ZM248.17 270.75L250.77 273.35L248.17 275.95L245.57 273.35ZM249.72 270.59L252.32 273.19L249.72 275.79L247.12 273.19ZM251.26 270.48L253.86 273.08L251.26 275.68L248.66 273.08ZM252.80 270.41L255.40 273.01L252.80 275.61L250.20 273.01ZM254.35 270.44L256.95 273.04L254.35 275.64L251.75 273.04ZM255.89 270.76L258.49 273.36L255.89 275.96L253.29 273.36ZM257.43 271.33L260.03 273.93L257.43 276.53L254.83 273.93ZM258.98 272.07L261.58 274.67L258.98 277.27L256.38 274.67ZM260.52 273.08L263.12 275.68L260.52 278.28L257.92 275.68ZM262.06 274.89L264.66 277.49L262.06 280.09L259.46 277.49ZM263.61 277.29L266.21 279.89L263.61 282.49L261.01 279.89ZM265.15 280.68L267.75 283.28L265.15 285.88L262.55 283.28ZM266.69 285.24L269.29 287.84L266.69 290.44L264.09 287.84ZM268.24 292.09L270.84 294.69L268.24 297.29L265.64 294.69ZM269.78 300.66L272.38 303.26L269.78 305.86L267.18 303.26ZM271.32 306.38L273.92 308.98L271.32 311.58L268.72 308.98ZM272.87 314.49L275.47 317.09L272.87 319.69L270.27 317.09ZM274.41 326.76L277.01 329.36L274.41 331.96L271.81 329.36ZM275.95 337.07L278.55 339.67L275.95 342.27L273.35 339.67ZM277.50 345.81L280.10 348.41L277.50 351.01L274.90 348.41ZM279.04 355.23L281.64 357.83L279.04 360.43L276.44 357.83ZM280.58 364.29L283.18 366.89L280.58 369.49L277.98 366.89ZM282.13 370.50L284.73 373.10L282.13 375.70L279.53 373.10ZM283.67 375.87L286.27 378.47L283.67 381.07L281.07 378.47ZM285.21 380.62L287.81 383.22L285.21 385.82L282.61 383.22ZM286.76 385.50L289.36 388.10L286.76 390.70L284.16 388.10ZM288.30 389.68L290.90 392.28L288.30 394.88L285.70 392.28ZM289.84 393.31L292.44 395.91L289.84 398.51L287.24 395.91ZM291.39 396.15L293.99 398.75L291.39 401.35L288.79 398.75ZM292.93 398.64L295.53 401.24L292.93 403.84L290.33 401.24ZM294.47 400.77L297.07 403.37L294.47 405.97L291.87 403.37ZM296.02 402.52L298.62 405.12L296.02 407.72L293.42 405.12ZM297.56 403.96L300.16 406.56L297.56 409.16L294.96 406.56ZM299.10 405.25L301.70 407.85L299.10 410.45L296.50 407.85ZM300.65 406.40L303.25 409.00L300.65 411.60L298.05 409.00ZM302.19 407.38L304.79 409.98L302.19 412.58L299.59 409.98ZM303.73 408.20L306.33 410.80L303.73 413.40L301.13 410.80ZM305.28 408.86L307.88 411.46L305.28 414.06L302.68 411.46ZM306.82 409.46L309.42 412.06L306.82 414.66L304.22 412.06ZM308.36 409.99L310.96 412.59L308.36 415.19L305.76 412.59ZM309.91 410.45L312.51 413.05L309.91 415.65L307.31 413.05ZM311.45 410.80L314.05 413.40L311.45 416.00L308.85 413.40ZM312.99 411.04L315.59 413.64L312.99 416.24L310.39 413.64ZM314.54 411.21L317.14 413.81L314.54 416.41L311.94 413.81ZM316.08 411.36L318.68 413.96L316.08 416.56L313.48 413.96ZM317.62 411.48L320.22 414.08L317.62 416.68L315.02 414.08ZM319.17 411.59L321.77 414.19L319.17 416.79L316.57 414.19ZM320.71 411.69L323.31 414.29L320.71 416.89L318.11 414.29ZM322.25 411.78L324.85 414.38L322.25 416.98L319.65 414.38ZM323.79 411.87L326.39 414.47L323.79 417.07L321.19 414.47Z" fill="#000"/>
<text x="142.0" y="344.6" font-size="11.8" stroke="#111" stroke-width="0.35" fill="#111" textLength="35.7" lengthAdjust="spacingAndGlyphs">p&lt;0.01</text>
<text x="216.0" y="305.5" font-size="11.8" stroke="#111" stroke-width="0.35" fill="#111" textLength="41.8" lengthAdjust="spacingAndGlyphs">p&lt;0.001</text>
<text x="101.3" y="406.5" font-size="13" stroke="#111" stroke-width="0.35" fill="#111" textLength="76.7" lengthAdjust="spacingAndGlyphs">UW Biochem</text>
<line x1="483.60" y1="20.80" x2="483.60" y2="190.80" stroke="#333" stroke-width="0.9" stroke-dasharray="1.5 1.5"/>
<line x1="577.40" y1="20.80" x2="577.40" y2="190.80" stroke="#333" stroke-width="0.9" stroke-dasharray="1.5 1.5"/>
<line x1="647.75" y1="20.80" x2="647.75" y2="190.80" stroke="#333" stroke-width="0.9" stroke-dasharray="1.5 1.5"/>
<line x1="436.70" y1="20.80" x2="436.70" y2="190.80" stroke="#000" stroke-width="1.3" />
<line x1="436.70" y1="190.80" x2="718.10" y2="190.80" stroke="#000" stroke-width="1.3" />
<line x1="718.20" y1="20.80" x2="718.20" y2="190.80" stroke="#444" stroke-width="1.6" />
<line x1="436.70" y1="20.80" x2="718.20" y2="20.80" stroke="#747474" stroke-width="1.9" />
<line x1="432.70" y1="190.80" x2="436.70" y2="190.80" stroke="#111" stroke-width="1" />
<text x="428.7" y="195.3" font-size="11" stroke="#111" stroke-width="0.2" text-anchor="end" fill="#111" textLength="17.5" lengthAdjust="spacingAndGlyphs">0.0</text>
<line x1="432.70" y1="163.50" x2="436.70" y2="163.50" stroke="#111" stroke-width="1" />
<text x="428.7" y="168.0" font-size="11" stroke="#111" stroke-width="0.2" text-anchor="end" fill="#111" textLength="17.5" lengthAdjust="spacingAndGlyphs">0.2</text>
<line x1="432.70" y1="136.20" x2="436.70" y2="136.20" stroke="#111" stroke-width="1" />
<text x="428.7" y="140.7" font-size="11" stroke="#111" stroke-width="0.2" text-anchor="end" fill="#111" textLength="17.5" lengthAdjust="spacingAndGlyphs">0.4</text>
<line x1="432.70" y1="108.90" x2="436.70" y2="108.90" stroke="#111" stroke-width="1" />
<text x="428.7" y="113.4" font-size="11" stroke="#111" stroke-width="0.2" text-anchor="end" fill="#111" textLength="17.5" lengthAdjust="spacingAndGlyphs">0.6</text>
<line x1="432.70" y1="81.60" x2="436.70" y2="81.60" stroke="#111" stroke-width="1" />
<text x="428.7" y="86.1" font-size="11" stroke="#111" stroke-width="0.2" text-anchor="end" fill="#111" textLength="17.5" lengthAdjust="spacingAndGlyphs">0.8</text>
<line x1="432.70" y1="54.30" x2="436.70" y2="54.30" stroke="#111" stroke-width="1" />
<text x="428.7" y="58.8" font-size="11" stroke="#111" stroke-width="0.2" text-anchor="end" fill="#111" textLength="17.5" lengthAdjust="spacingAndGlyphs">1.0</text>
<line x1="432.70" y1="27.00" x2="436.70" y2="27.00" stroke="#111" stroke-width="1" />
<text x="428.7" y="31.5" font-size="11" stroke="#111" stroke-width="0.2" text-anchor="end" fill="#111" textLength="17.5" lengthAdjust="spacingAndGlyphs">1.2</text>
<line x1="436.70" y1="190.80" x2="436.70" y2="194.80" stroke="#111" stroke-width="1" />
<text x="436.7" y="206.5" font-size="11" stroke="#111" stroke-width="0.25" text-anchor="middle" fill="#111" textLength="21.8" lengthAdjust="spacingAndGlyphs">−30</text>
<line x1="483.60" y1="190.80" x2="483.60" y2="194.80" stroke="#111" stroke-width="1" />
<text x="483.6" y="206.5" font-size="11" stroke="#111" stroke-width="0.25" text-anchor="middle" fill="#111" textLength="6.5" lengthAdjust="spacingAndGlyphs">0</text>
<line x1="530.50" y1="190.80" x2="530.50" y2="194.80" stroke="#111" stroke-width="1" />
<text x="530.5" y="206.5" font-size="11" stroke="#111" stroke-width="0.25" text-anchor="middle" fill="#111" textLength="12.9" lengthAdjust="spacingAndGlyphs">30</text>
<line x1="577.40" y1="190.80" x2="577.40" y2="194.80" stroke="#111" stroke-width="1" />
<text x="577.4" y="206.5" font-size="11" stroke="#111" stroke-width="0.25" text-anchor="middle" fill="#111" textLength="12.9" lengthAdjust="spacingAndGlyphs">60</text>
<line x1="624.30" y1="190.80" x2="624.30" y2="194.80" stroke="#111" stroke-width="1" />
<text x="624.3" y="206.5" font-size="11" stroke="#111" stroke-width="0.25" text-anchor="middle" fill="#111" textLength="12.9" lengthAdjust="spacingAndGlyphs">90</text>
<line x1="671.20" y1="190.80" x2="671.20" y2="194.80" stroke="#111" stroke-width="1" />
<text x="671.2" y="206.5" font-size="11" stroke="#111" stroke-width="0.25" text-anchor="middle" fill="#111" textLength="20.3" lengthAdjust="spacingAndGlyphs">120</text>
<line x1="718.10" y1="190.80" x2="718.10" y2="194.80" stroke="#111" stroke-width="1" />
<text x="718.1" y="206.5" font-size="11" stroke="#111" stroke-width="0.25" text-anchor="middle" fill="#111" textLength="20.3" lengthAdjust="spacingAndGlyphs">150</text>
<text x="405.8" y="106.0" font-size="10.5" stroke="#111" stroke-width="0.25" text-anchor="middle" fill="#111" textLength="131.0" lengthAdjust="spacingAndGlyphs" transform="rotate(-90 405.8 106.0)">OCR, Fractional Change</text>
<text x="577.7" y="222.0" font-size="10.5" stroke="#111" stroke-width="0.25" text-anchor="middle" fill="#111" textLength="82.5" lengthAdjust="spacingAndGlyphs">Time (minutes)</text>
<text x="454.5" y="12.5" font-size="13.5" stroke="#000" stroke-width="0.1" textLength="23.5" lengthAdjust="spacingAndGlyphs">KRB</text>
<text x="498.7" y="12.5" font-size="13.5" stroke="#000" stroke-width="0.1" textLength="73.3" lengthAdjust="spacingAndGlyphs">30 μM Oligo</text>
<text x="589.7" y="12.5" font-size="13.5" stroke="#000" stroke-width="0.1" textLength="62.9" lengthAdjust="spacingAndGlyphs">1 μM FCCP</text>
<text x="674.6" y="12.5" font-size="13.5" stroke="#000" stroke-width="0.1" textLength="23.4" lengthAdjust="spacingAndGlyphs">KCN</text>
<text x="391.8" y="16.2" font-size="19" stroke="#000" stroke-width="0.3" font-weight="bold" textLength="14.2" lengthAdjust="spacingAndGlyphs">C</text>
<path d="M486.7 54.5V55.7M488.3 54.7V56.0M489.9 55.0V56.3M491.4 55.3V56.7M493.0 55.6V57.0M494.5 56.0V57.4M496.1 56.4V57.9M497.7 57.0V58.6M499.2 57.9V59.5M500.8 59.0V60.6M502.4 60.2V62.0M503.9 61.8V63.8M505.5 63.7V66.0M507.0 65.8V68.4M508.6 68.0V70.9M510.2 70.0V73.4M511.7 71.8V75.6M513.3 73.7V77.9M514.9 75.5V80.1M516.4 77.2V82.1M518.0 78.6V83.9M519.6 80.0V85.5M521.1 81.3V87.0M522.7 82.5V88.5M524.2 83.8V89.9M525.8 85.0V91.4M527.4 86.2V92.8M528.9 87.5V94.3M530.5 88.7V95.7M532.1 90.0V97.1M533.6 91.2V98.4M535.2 92.4V99.8M536.8 93.7V101.2M538.3 95.0V102.5M539.9 96.3V103.9M541.4 97.6V105.3M543.0 99.0V106.7M544.6 100.3V108.0M546.1 101.7V109.4M547.7 102.9V110.7M549.3 104.1V111.9M550.8 105.3V113.1M552.4 106.5V114.3M553.9 107.6V115.4M555.5 108.7V116.5M557.1 109.7V117.6M558.6 110.7V118.6M560.2 111.6V119.5M561.8 112.5V120.4M563.3 113.4V121.3M564.9 114.3V122.2M566.5 115.0V123.0M568.0 115.7V123.7M569.6 116.3V124.3M571.1 116.8V124.8M572.7 117.3V125.3M574.3 117.6V125.6M575.8 117.6V125.6M577.4 117.4V125.4M579.0 117.1V125.1M580.5 116.7V124.7M582.1 115.6V123.5M583.7 113.1V120.8M585.2 110.4V117.8M586.8 107.5V114.7M588.3 104.3V111.2M589.9 100.7V107.3M591.5 96.7V102.9M593.0 92.0V97.9M594.6 86.0V91.5M596.2 78.9V84.2M597.7 71.8V76.9M599.3 64.9V69.9M600.8 59.1V64.1M602.4 53.8V58.9M604.0 48.6V53.9M605.5 44.9V50.5M607.1 42.1V48.0M608.7 39.9V46.1M610.2 38.3V44.8M611.8 36.9V43.8M613.4 35.7V42.9M614.9 34.8V42.4M616.5 34.2V42.0M618.0 33.8V41.7M619.6 33.5V41.5M621.2 33.2V41.2M622.7 32.8V40.8M624.3 32.5V40.5M625.9 32.2V40.2M627.4 31.9V39.9M629.0 31.6V39.6M630.6 31.3V39.3M632.1 31.1V39.1M633.7 30.9V38.9M635.2 30.8V38.8M636.8 30.7V38.7M638.4 30.6V38.6M639.9 30.5V38.5M641.5 30.4V38.4M643.1 30.3V38.3M644.6 30.3V38.3M646.2 30.3V38.3M647.7 31.0V39.0M649.3 32.5V40.5M650.9 34.5V42.5M652.4 38.1V45.9M654.0 42.1V49.6M655.6 45.6V52.7M657.1 49.0V55.7M658.7 53.0V59.2M660.3 57.8V63.4M661.8 64.1V69.2M663.4 72.6V77.3M664.9 82.1V86.4M666.5 91.4V95.5M668.1 104.4V108.4M669.6 120.9V124.9M671.2 132.1V136.1M672.8 144.1V148.1M674.3 151.5V155.5M675.9 157.3V161.3M677.4 162.3V166.3M679.0 166.1V170.1M680.6 169.1V173.1M682.1 171.6V175.6M683.7 173.4V177.4M685.3 174.8V178.8M686.8 176.0V180.0M688.4 177.1V181.1M690.0 178.0V182.0M691.5 178.9V182.8M693.1 179.7V183.6M694.6 180.4V184.3M696.2 181.2V185.0M697.8 181.8V185.6M699.3 182.5V186.1M700.9 183.1V186.6M702.5 183.6V187.0M704.0 184.2V187.4M705.6 184.8V187.8M707.2 185.3V188.1M708.7 185.8V188.5M710.3 186.3V188.8M711.8 186.8V189.0M713.4 187.3V189.3M715.0 187.7V189.4M716.5 188.0V189.5M718.1 188.3V189.6" stroke="#a0a0a0" stroke-width="0.8" fill="none"/>
<path d="M485.1 54.5h3.2M485.1 55.7h3.2M486.7 54.7h3.2M486.7 56.0h3.2M488.3 55.0h3.2M488.3 56.3h3.2M489.8 55.3h3.2M489.8 56.7h3.2M491.4 55.6h3.2M491.4 57.0h3.2M492.9 56.0h3.2M492.9 57.4h3.2M494.5 56.4h3.2M494.5 57.9h3.2M496.1 57.0h3.2M496.1 58.6h3.2M497.6 57.9h3.2M497.6 59.5h3.2M499.2 59.0h3.2M499.2 60.6h3.2M500.8 60.2h3.2M500.8 62.0h3.2M502.3 61.8h3.2M502.3 63.8h3.2M503.9 63.7h3.2M503.9 66.0h3.2M505.4 65.8h3.2M505.4 68.4h3.2M507.0 68.0h3.2M507.0 70.9h3.2M508.6 70.0h3.2M508.6 73.4h3.2M510.1 71.8h3.2M510.1 75.6h3.2M511.7 73.7h3.2M511.7 77.9h3.2M513.3 75.5h3.2M513.3 80.1h3.2M514.8 77.2h3.2M514.8 82.1h3.2M516.4 78.6h3.2M516.4 83.9h3.2M518.0 80.0h3.2M518.0 85.5h3.2M519.5 81.3h3.2M519.5 87.0h3.2M521.1 82.5h3.2M521.1 88.5h3.2M522.6 83.8h3.2M522.6 89.9h3.2M524.2 85.0h3.2M524.2 91.4h3.2M525.8 86.2h3.2M525.8 92.8h3.2M527.3 87.5h3.2M527.3 94.3h3.2M528.9 88.7h3.2M528.9 95.7h3.2M530.5 90.0h3.2M530.5 97.1h3.2M532.0 91.2h3.2M532.0 98.4h3.2M533.6 92.4h3.2M533.6 99.8h3.2M535.2 93.7h3.2M535.2 101.2h3.2M536.7 95.0h3.2M536.7 102.5h3.2M538.3 96.3h3.2M538.3 103.9h3.2M539.8 97.6h3.2M539.8 105.3h3.2M541.4 99.0h3.2M541.4 106.7h3.2M543.0 100.3h3.2M543.0 108.0h3.2M544.5 101.7h3.2M544.5 109.4h3.2M546.1 102.9h3.2M546.1 110.7h3.2M547.7 104.1h3.2M547.7 111.9h3.2M549.2 105.3h3.2M549.2 113.1h3.2M550.8 106.5h3.2M550.8 114.3h3.2M552.3 107.6h3.2M552.3 115.4h3.2M553.9 108.7h3.2M553.9 116.5h3.2M555.5 109.7h3.2M555.5 117.6h3.2M557.0 110.7h3.2M557.0 118.6h3.2M558.6 111.6h3.2M558.6 119.5h3.2M560.2 112.5h3.2M560.2 120.4h3.2M561.7 113.4h3.2M561.7 121.3h3.2M563.3 114.3h3.2M563.3 122.2h3.2M564.9 115.0h3.2M564.9 123.0h3.2M566.4 115.7h3.2M566.4 123.7h3.2M568.0 116.3h3.2M568.0 124.3h3.2M569.5 116.8h3.2M569.5 124.8h3.2M571.1 117.3h3.2M571.1 125.3h3.2M572.7 117.6h3.2M572.7 125.6h3.2M574.2 117.6h3.2M574.2 125.6h3.2M575.8 117.4h3.2M575.8 125.4h3.2M577.4 117.1h3.2M577.4 125.1h3.2M578.9 116.7h3.2M578.9 124.7h3.2M580.5 115.6h3.2M580.5 123.5h3.2M582.1 113.1h3.2M582.1 120.8h3.2M583.6 110.4h3.2M583.6 117.8h3.2M585.2 107.5h3.2M585.2 114.7h3.2M586.7 104.3h3.2M586.7 111.2h3.2M588.3 100.7h3.2M588.3 107.3h3.2M589.9 96.7h3.2M589.9 102.9h3.2M591.4 92.0h3.2M591.4 97.9h3.2M593.0 86.0h3.2M593.0 91.5h3.2M594.6 78.9h3.2M594.6 84.2h3.2M596.1 71.8h3.2M596.1 76.9h3.2M597.7 64.9h3.2M597.7 69.9h3.2M599.2 59.1h3.2M599.2 64.1h3.2M600.8 53.8h3.2M600.8 58.9h3.2M602.4 48.6h3.2M602.4 53.9h3.2M603.9 44.9h3.2M603.9 50.5h3.2M605.5 42.1h3.2M605.5 48.0h3.2M607.1 39.9h3.2M607.1 46.1h3.2M608.6 38.3h3.2M608.6 44.8h3.2M610.2 36.9h3.2M610.2 43.8h3.2M611.8 35.7h3.2M611.8 42.9h3.2M613.3 34.8h3.2M613.3 42.4h3.2M614.9 34.2h3.2M614.9 42.0h3.2M616.4 33.8h3.2M616.4 41.7h3.2M618.0 33.5h3.2M618.0 41.5h3.2M619.6 33.2h3.2M619.6 41.2h3.2M621.1 32.8h3.2M621.1 40.8h3.2M622.7 32.5h3.2M622.7 40.5h3.2M624.3 32.2h3.2M624.3 40.2h3.2M625.8 31.9h3.2M625.8 39.9h3.2M627.4 31.6h3.2M627.4 39.6h3.2M629.0 31.3h3.2M629.0 39.3h3.2M630.5 31.1h3.2M630.5 39.1h3.2M632.1 30.9h3.2M632.1 38.9h3.2M633.6 30.8h3.2M633.6 38.8h3.2M635.2 30.7h3.2M635.2 38.7h3.2M636.8 30.6h3.2M636.8 38.6h3.2M638.3 30.5h3.2M638.3 38.5h3.2M639.9 30.4h3.2M639.9 38.4h3.2M641.5 30.3h3.2M641.5 38.3h3.2M643.0 30.3h3.2M643.0 38.3h3.2M644.6 30.3h3.2M644.6 38.3h3.2M646.1 31.0h3.2M646.1 39.0h3.2M647.7 32.5h3.2M647.7 40.5h3.2M649.3 34.5h3.2M649.3 42.5h3.2M650.8 38.1h3.2M650.8 45.9h3.2M652.4 42.1h3.2M652.4 49.6h3.2M654.0 45.6h3.2M654.0 52.7h3.2M655.5 49.0h3.2M655.5 55.7h3.2M657.1 53.0h3.2M657.1 59.2h3.2M658.7 57.8h3.2M658.7 63.4h3.2M660.2 64.1h3.2M660.2 69.2h3.2M661.8 72.6h3.2M661.8 77.3h3.2M663.3 82.1h3.2M663.3 86.4h3.2M664.9 91.4h3.2M664.9 95.5h3.2M666.5 104.4h3.2M666.5 108.4h3.2M668.0 120.9h3.2M668.0 124.9h3.2M669.6 132.1h3.2M669.6 136.1h3.2M671.2 144.1h3.2M671.2 148.1h3.2M672.7 151.5h3.2M672.7 155.5h3.2M674.3 157.3h3.2M674.3 161.3h3.2M675.8 162.3h3.2M675.8 166.3h3.2M677.4 166.1h3.2M677.4 170.1h3.2M679.0 169.1h3.2M679.0 173.1h3.2M680.5 171.6h3.2M680.5 175.6h3.2M682.1 173.4h3.2M682.1 177.4h3.2M683.7 174.8h3.2M683.7 178.8h3.2M685.2 176.0h3.2M685.2 180.0h3.2M686.8 177.1h3.2M686.8 181.1h3.2M688.4 178.0h3.2M688.4 182.0h3.2M689.9 178.9h3.2M689.9 182.8h3.2M691.5 179.7h3.2M691.5 183.6h3.2M693.0 180.4h3.2M693.0 184.3h3.2M694.6 181.2h3.2M694.6 185.0h3.2M696.2 181.8h3.2M696.2 185.6h3.2M697.7 182.5h3.2M697.7 186.1h3.2M699.3 183.1h3.2M699.3 186.6h3.2M700.9 183.6h3.2M700.9 187.0h3.2M702.4 184.2h3.2M702.4 187.4h3.2M704.0 184.8h3.2M704.0 187.8h3.2M705.6 185.3h3.2M705.6 188.1h3.2M707.1 185.8h3.2M707.1 188.5h3.2M708.7 186.3h3.2M708.7 188.8h3.2M710.2 186.8h3.2M710.2 189.0h3.2M711.8 187.3h3.2M711.8 189.3h3.2M713.4 187.7h3.2M713.4 189.4h3.2M714.9 188.0h3.2M714.9 189.5h3.2M716.5 188.3h3.2M716.5 189.6h3.2" stroke="#383838" stroke-width="1.0" fill="none"/>
<polygon points="437.2,57.87 437.7,57.85 438.2,57.82 438.7,57.79 439.2,57.76 439.7,57.73 440.2,57.70 440.7,57.67 441.2,57.64 441.7,57.61 442.2,57.57 442.7,57.54 443.2,57.51 443.7,57.47 444.2,57.44 444.7,57.40 445.2,57.37 445.7,57.33 446.2,57.29 446.7,57.26 447.2,57.22 447.7,57.18 448.2,57.14 448.7,57.10 449.2,57.06 449.7,57.02 450.2,56.98 450.7,56.94 451.2,56.90 451.7,56.86 452.2,56.82 452.7,56.77 453.2,56.73 453.7,56.69 454.2,56.64 454.7,56.60 455.2,56.55 455.7,56.50 456.2,56.46 456.7,56.41 457.2,56.36 457.7,56.31 458.2,56.26 458.7,56.21 459.2,56.16 459.7,56.11 460.2,56.05 460.7,56.00 461.2,55.94 461.7,55.89 462.2,55.83 462.7,55.78 463.2,55.72 463.7,55.66 464.2,55.60 464.7,55.54 465.2,55.47 465.7,55.41 466.2,55.33 466.7,55.25 467.2,55.17 467.7,55.08 468.2,54.98 468.7,54.89 469.2,54.79 469.7,54.68 470.2,54.57 470.7,54.47 471.2,54.35 471.7,54.24 472.2,54.13 472.7,54.02 473.2,53.91 473.7,53.79 474.2,53.68 474.7,53.57 475.2,53.47 475.7,53.36 476.2,53.26 476.7,53.16 477.2,53.07 477.7,52.98 478.2,52.89 478.7,52.81 479.2,52.74 479.7,52.67 480.2,52.61 480.7,52.56 481.2,52.51 481.7,52.47 482.2,52.44 482.7,52.42 483.2,52.40 483.7,52.40 484.2,52.41 484.7,52.43 485.2,52.47 485.7,52.51 486.2,52.57 486.7,52.63 487.2,52.70 487.7,52.78 488.2,52.86 488.7,52.95 489.2,53.05 489.7,53.14 490.2,53.24 490.7,53.34 491.2,53.44 491.7,53.54 492.2,53.64 492.7,53.74 493.2,53.85 493.7,53.97 494.2,54.10 494.7,54.23 495.2,54.38 495.7,54.54 496.2,54.70 496.7,54.89 497.2,55.08 497.7,55.30 498.2,55.56 498.7,55.84 499.2,56.15 499.7,56.48 500.2,56.83 500.7,57.20 501.2,57.59 501.7,57.99 502.2,58.43 502.2,63.45 501.7,63.01 501.2,62.60 500.7,62.20 500.2,61.83 499.7,61.48 499.2,61.15 498.7,60.84 498.2,60.56 497.7,60.30 497.2,60.08 496.7,59.89 496.2,59.70 495.7,59.54 495.2,59.38 494.7,59.23 494.2,59.10 493.7,58.97 493.2,58.85 492.7,58.74 492.2,58.64 491.7,58.54 491.2,58.44 490.7,58.34 490.2,58.24 489.7,58.14 489.2,58.05 488.7,57.95 488.2,57.86 487.7,57.78 487.2,57.70 486.7,57.63 486.2,57.57 485.7,57.51 485.2,57.47 484.7,57.43 484.2,57.41 483.7,57.40 483.2,57.40 482.7,57.42 482.2,57.44 481.7,57.47 481.2,57.51 480.7,57.56 480.2,57.61 479.7,57.67 479.2,57.74 478.7,57.81 478.2,57.89 477.7,57.98 477.2,58.07 476.7,58.16 476.2,58.26 475.7,58.36 475.2,58.47 474.7,58.57 474.2,58.68 473.7,58.79 473.2,58.91 472.7,59.02 472.2,59.13 471.7,59.24 471.2,59.35 470.7,59.47 470.2,59.57 469.7,59.68 469.2,59.79 468.7,59.89 468.2,59.98 467.7,60.08 467.2,60.17 466.7,60.25 466.2,60.33 465.7,60.41 465.2,60.47 464.7,60.54 464.2,60.60 463.7,60.66 463.2,60.72 462.7,60.78 462.2,60.83 461.7,60.89 461.2,60.94 460.7,61.00 460.2,61.05 459.7,61.11 459.2,61.16 458.7,61.21 458.2,61.26 457.7,61.31 457.2,61.36 456.7,61.41 456.2,61.46 455.7,61.50 455.2,61.55 454.7,61.60 454.2,61.64 453.7,61.69 453.2,61.73 452.7,61.78 452.2,61.82 451.7,61.86 451.2,61.90 450.7,61.94 450.2,61.98 449.7,62.02 449.2,62.06 448.7,62.10 448.2,62.14 447.7,62.18 447.2,62.22 446.7,62.26 446.2,62.29 445.7,62.33 445.2,62.37 444.7,62.40 444.2,62.44 443.7,62.47 443.2,62.51 442.7,62.54 442.2,62.57 441.7,62.61 441.2,62.64 440.7,62.67 440.2,62.70 439.7,62.73 439.2,62.76 438.7,62.79 438.2,62.82 437.7,62.85 437.2,62.87" fill="#000"/>
<polygon points="518.2,78.66 518.7,79.15 519.2,79.62 519.7,80.08 520.2,80.54 520.7,80.99 521.2,81.43 521.7,81.87 522.2,82.30 522.7,82.73 523.2,83.16 523.7,83.58 524.2,84.01 524.7,84.43 525.2,84.85 525.7,85.28 526.2,85.71 526.7,86.14 527.2,86.58 527.7,87.01 528.2,87.44 528.7,87.87 529.2,88.30 529.7,88.72 530.2,89.14 530.7,89.56 531.2,89.98 531.7,90.40 532.2,90.82 532.7,91.24 533.2,91.65 533.7,92.07 534.2,92.49 534.7,92.90 535.2,93.32 535.7,93.74 536.2,94.15 536.7,94.57 537.2,94.99 537.7,95.42 538.2,95.84 538.7,96.27 539.2,96.70 539.7,97.14 540.2,97.57 540.7,98.01 541.2,98.45 541.7,98.89 542.2,99.33 542.7,99.77 543.2,100.20 543.7,100.64 544.2,101.07 544.7,101.50 545.2,101.93 545.7,102.35 546.2,102.77 546.7,103.19 547.2,103.59 547.7,104.00 548.2,104.39 548.7,104.78 549.2,105.16 549.7,105.55 550.2,105.93 550.7,106.31 551.2,106.69 551.7,107.06 552.2,107.44 552.7,107.81 553.2,108.17 553.7,108.54 554.2,108.89 554.7,109.25 555.2,109.60 555.7,109.94 556.2,110.28 556.7,110.62 557.2,110.94 557.7,111.26 558.2,111.58 558.7,111.88 559.2,112.18 559.7,112.48 560.2,112.77 560.7,113.06 561.2,113.36 561.7,113.65 562.2,113.94 562.7,114.23 563.2,114.51 563.7,114.79 564.2,115.06 564.7,115.33 565.2,115.59 565.7,115.85 566.2,116.10 566.7,116.34 567.2,116.56 567.7,116.78 568.2,116.99 568.7,117.19 569.2,117.37 569.7,117.54 570.2,117.70 570.7,117.85 571.2,118.01 571.7,118.17 572.2,118.32 572.7,118.46 573.2,118.58 573.7,118.68 574.2,118.75 574.7,118.79 575.2,118.80 575.7,118.78 576.2,118.74 576.7,118.68 577.2,118.62 577.7,118.54 578.2,118.47 578.7,118.38 579.2,118.28 579.7,118.16 580.2,118.01 580.7,117.83 581.2,117.60 581.2,123.19 580.7,123.42 580.2,123.61 579.7,123.76 579.2,123.88 578.7,123.98 578.2,124.07 577.7,124.14 577.2,124.22 576.7,124.28 576.2,124.34 575.7,124.38 575.2,124.40 574.7,124.39 574.2,124.35 573.7,124.28 573.2,124.18 572.7,124.06 572.2,123.92 571.7,123.77 571.2,123.61 570.7,123.45 570.2,123.30 569.7,123.14 569.2,122.97 568.7,122.79 568.2,122.59 567.7,122.38 567.2,122.16 566.7,121.94 566.2,121.70 565.7,121.45 565.2,121.19 564.7,120.93 564.2,120.66 563.7,120.39 563.2,120.11 562.7,119.83 562.2,119.54 561.7,119.25 561.2,118.96 560.7,118.66 560.2,118.37 559.7,118.08 559.2,117.78 558.7,117.48 558.2,117.18 557.7,116.86 557.2,116.54 556.7,116.22 556.2,115.88 555.7,115.54 555.2,115.20 554.7,114.85 554.2,114.49 553.7,114.14 553.2,113.77 552.7,113.41 552.2,113.04 551.7,112.66 551.2,112.29 550.7,111.91 550.2,111.53 549.7,111.15 549.2,110.76 548.7,110.38 548.2,109.99 547.7,109.60 547.2,109.19 546.7,108.79 546.2,108.37 545.7,107.95 545.2,107.53 544.7,107.10 544.2,106.67 543.7,106.24 543.2,105.80 542.7,105.37 542.2,104.93 541.7,104.49 541.2,104.05 540.7,103.61 540.2,103.17 539.7,102.74 539.2,102.30 538.7,101.87 538.2,101.44 537.7,101.02 537.2,100.59 536.7,100.17 536.2,99.75 535.7,99.34 535.2,98.92 534.7,98.50 534.2,98.09 533.7,97.67 533.2,97.25 532.7,96.84 532.2,96.42 531.7,96.00 531.2,95.58 530.7,95.16 530.2,94.74 529.7,94.32 529.2,93.90 528.7,93.47 528.2,93.04 527.7,92.61 527.2,92.18 526.7,91.74 526.2,91.31 525.7,90.88 525.2,90.45 524.7,90.03 524.2,89.61 523.7,89.18 523.2,88.76 522.7,88.33 522.2,87.90 521.7,87.47 521.2,87.03 520.7,86.59 520.2,86.14 519.7,85.68 519.2,85.21 518.7,84.74 518.2,84.25" fill="#000"/>
<polygon points="609.2,40.10 609.7,39.64 610.2,39.19 610.7,38.77 611.2,38.37 611.7,37.99 612.2,37.64 612.7,37.31 613.2,37.01 613.7,36.74 614.2,36.50 614.7,36.28 615.2,36.10 615.7,35.94 616.2,35.80 616.7,35.67 617.2,35.55 617.7,35.44 618.2,35.34 618.7,35.25 619.2,35.15 619.7,35.06 620.2,34.96 620.7,34.86 621.2,34.76 621.7,34.65 622.2,34.55 622.7,34.44 623.2,34.33 623.7,34.23 624.2,34.12 624.7,34.01 625.2,33.91 625.7,33.80 626.2,33.70 626.7,33.60 627.2,33.50 627.7,33.40 628.2,33.31 628.7,33.21 629.2,33.13 629.7,33.04 630.2,32.96 630.7,32.88 631.2,32.81 631.7,32.74 632.2,32.68 632.7,32.62 633.2,32.57 633.7,32.52 634.2,32.48 634.7,32.45 635.2,32.41 635.7,32.37 636.2,32.33 636.7,32.30 637.2,32.26 637.7,32.23 638.2,32.19 638.7,32.16 639.2,32.13 639.7,32.10 640.2,32.07 640.7,32.05 641.2,32.02 641.7,32.00 642.2,31.98 642.7,31.96 643.2,31.94 643.7,31.93 644.2,31.92 644.7,31.91 645.2,31.90 645.7,31.90 646.2,31.91 646.7,32.03 647.2,32.26 647.7,32.58 648.2,32.99 648.7,33.46 648.7,38.26 648.2,37.79 647.7,37.38 647.2,37.06 646.7,36.83 646.2,36.71 645.7,36.70 645.2,36.70 644.7,36.71 644.2,36.72 643.7,36.73 643.2,36.74 642.7,36.76 642.2,36.78 641.7,36.80 641.2,36.82 640.7,36.85 640.2,36.87 639.7,36.90 639.2,36.93 638.7,36.96 638.2,36.99 637.7,37.03 637.2,37.06 636.7,37.10 636.2,37.13 635.7,37.17 635.2,37.21 634.7,37.25 634.2,37.28 633.7,37.32 633.2,37.37 632.7,37.42 632.2,37.48 631.7,37.54 631.2,37.61 630.7,37.68 630.2,37.76 629.7,37.84 629.2,37.93 628.7,38.01 628.2,38.11 627.7,38.20 627.2,38.30 626.7,38.40 626.2,38.50 625.7,38.60 625.2,38.71 624.7,38.81 624.2,38.92 623.7,39.03 623.2,39.13 622.7,39.24 622.2,39.35 621.7,39.45 621.2,39.56 620.7,39.66 620.2,39.76 619.7,39.86 619.2,39.95 618.7,40.05 618.2,40.14 617.7,40.24 617.2,40.35 616.7,40.47 616.2,40.60 615.7,40.74 615.2,40.90 614.7,41.08 614.2,41.30 613.7,41.54 613.2,41.81 612.7,42.11 612.2,42.44 611.7,42.79 611.2,43.17 610.7,43.57 610.2,43.99 609.7,44.44 609.2,44.90" fill="#000"/>
<polygon points="683.7,173.00 684.2,173.48 684.7,173.94 685.2,174.38 685.7,174.79 686.2,175.18 686.7,175.55 687.2,175.90 687.7,176.24 688.2,176.57 688.7,176.88 689.2,177.18 689.7,177.46 690.2,177.75 690.7,178.02 691.2,178.29 691.7,178.55 692.2,178.81 692.7,179.06 693.2,179.31 693.7,179.55 694.2,179.78 694.7,180.01 695.2,180.23 695.7,180.45 696.2,180.66 696.7,180.87 697.2,181.07 697.7,181.27 698.2,181.46 698.7,181.65 699.2,181.83 699.7,182.01 700.2,182.18 700.7,182.35 701.2,182.51 701.7,182.67 702.2,182.83 702.7,182.98 703.2,183.14 703.7,183.29 704.2,183.45 704.7,183.60 705.2,183.75 705.7,183.90 706.2,184.05 706.7,184.19 707.2,184.34 707.7,184.48 708.2,184.62 708.7,184.75 709.2,184.89 709.7,185.02 710.2,185.14 710.7,185.27 711.2,185.39 711.7,185.50 712.2,185.61 712.7,185.72 713.2,185.82 713.7,185.92 714.2,186.01 714.7,186.10 715.2,186.18 715.7,186.25 716.2,186.32 716.7,186.39 717.2,186.45 717.7,186.50 717.7,191.30 717.2,191.25 716.7,191.19 716.2,191.12 715.7,191.05 715.2,190.98 714.7,190.90 714.2,190.81 713.7,190.72 713.2,190.62 712.7,190.52 712.2,190.41 711.7,190.30 711.2,190.19 710.7,190.07 710.2,189.94 709.7,189.82 709.2,189.69 708.7,189.55 708.2,189.42 707.7,189.28 707.2,189.14 706.7,188.99 706.2,188.85 705.7,188.70 705.2,188.55 704.7,188.40 704.2,188.25 703.7,188.09 703.2,187.94 702.7,187.78 702.2,187.63 701.7,187.47 701.2,187.31 700.7,187.15 700.2,186.98 699.7,186.81 699.2,186.63 698.7,186.45 698.2,186.26 697.7,186.07 697.2,185.87 696.7,185.67 696.2,185.46 695.7,185.25 695.2,185.03 694.7,184.81 694.2,184.58 693.7,184.35 693.2,184.11 692.7,183.86 692.2,183.61 691.7,183.35 691.2,183.09 690.7,182.82 690.2,182.55 689.7,182.26 689.2,181.98 688.7,181.68 688.2,181.37 687.7,181.04 687.2,180.70 686.7,180.35 686.2,179.98 685.7,179.59 685.2,179.18 684.7,178.74 684.2,178.28 683.7,177.80" fill="#000"/>
<path d="M438.26 57.71L440.86 60.31L438.26 62.91L435.66 60.31ZM439.83 57.62L442.43 60.22L439.83 62.82L437.23 60.22ZM441.39 57.53L443.99 60.13L441.39 62.73L438.79 60.13ZM442.95 57.42L445.55 60.02L442.95 62.62L440.35 60.02ZM444.52 57.32L447.12 59.92L444.52 62.52L441.92 59.92ZM446.08 57.20L448.68 59.80L446.08 62.40L443.48 59.80ZM447.64 57.08L450.24 59.68L447.64 62.28L445.04 59.68ZM449.21 56.96L451.81 59.56L449.21 62.16L446.61 59.56ZM450.77 56.84L453.37 59.44L450.77 62.04L448.17 59.44ZM452.33 56.71L454.93 59.31L452.33 61.91L449.73 59.31ZM453.90 56.57L456.50 59.17L453.90 61.77L451.30 59.17ZM455.46 56.43L458.06 59.03L455.46 61.63L452.86 59.03ZM457.02 56.28L459.62 58.88L457.02 61.48L454.42 58.88ZM458.59 56.12L461.19 58.72L458.59 61.32L455.99 58.72ZM460.15 55.96L462.75 58.56L460.15 61.16L457.55 58.56ZM461.71 55.79L464.31 58.39L461.71 60.99L459.11 58.39ZM463.28 55.61L465.88 58.21L463.28 60.81L460.68 58.21ZM464.84 55.42L467.44 58.02L464.84 60.62L462.24 58.02ZM466.40 55.20L469.00 57.80L466.40 60.40L463.80 57.80ZM467.97 54.93L470.57 57.53L467.97 60.13L465.37 57.53ZM469.53 54.62L472.13 57.22L469.53 59.82L466.93 57.22ZM471.09 54.28L473.69 56.88L471.09 59.48L468.49 56.88ZM472.66 53.93L475.26 56.53L472.66 59.13L470.06 56.53ZM474.22 53.58L476.82 56.18L474.22 58.78L471.62 56.18ZM475.78 53.25L478.38 55.85L475.78 58.45L473.18 55.85ZM477.35 52.94L479.95 55.54L477.35 58.14L474.75 55.54ZM478.91 52.68L481.51 55.28L478.91 57.88L476.31 55.28ZM480.47 52.48L483.07 55.08L480.47 57.68L477.87 55.08ZM482.04 52.35L484.64 54.95L482.04 57.55L479.44 54.95ZM483.60 52.30L486.20 54.90L483.60 57.50L481.00 54.90ZM485.16 52.36L487.76 54.96L485.16 57.56L482.56 54.96ZM486.73 52.53L489.33 55.13L486.73 57.73L484.13 55.13ZM488.29 52.78L490.89 55.38L488.29 57.98L485.69 55.38ZM489.85 53.07L492.45 55.67L489.85 58.27L487.25 55.67ZM491.42 53.39L494.02 55.99L491.42 58.59L488.82 55.99ZM492.98 53.70L495.58 56.30L492.98 58.90L490.38 56.30ZM494.54 54.09L497.14 56.69L494.54 59.29L491.94 56.69ZM496.11 54.57L498.71 57.17L496.11 59.77L493.51 57.17ZM497.67 55.19L500.27 57.79L497.67 60.39L495.07 57.79ZM499.23 56.07L501.83 58.67L499.23 61.27L496.63 58.67ZM500.80 57.18L503.40 59.78L500.80 62.38L498.20 59.78ZM502.36 58.49L504.96 61.09L502.36 63.69L499.76 61.09ZM503.92 60.22L506.52 62.82L503.92 65.42L501.32 62.82ZM505.49 62.28L508.09 64.88L505.49 67.48L502.89 64.88ZM507.05 64.54L509.65 67.14L507.05 69.74L504.45 67.14ZM508.61 66.85L511.21 69.45L508.61 72.05L506.01 69.45ZM510.18 69.07L512.78 71.67L510.18 74.27L507.58 71.67ZM511.74 71.14L514.34 73.74L511.74 76.34L509.14 73.74ZM513.30 73.23L515.90 75.83L513.30 78.43L510.70 75.83ZM514.87 75.25L517.47 77.85L514.87 80.45L512.27 77.85ZM516.43 77.05L519.03 79.65L516.43 82.25L513.83 79.65ZM517.99 78.65L520.59 81.25L517.99 83.85L515.39 81.25ZM519.56 80.15L522.16 82.75L519.56 85.35L516.96 82.75ZM521.12 81.56L523.72 84.16L521.12 86.76L518.52 84.16ZM522.68 82.91L525.28 85.51L522.68 88.11L520.08 85.51ZM524.25 84.24L526.85 86.84L524.25 89.44L521.65 86.84ZM525.81 85.57L528.41 88.17L525.81 90.77L523.21 88.17ZM527.37 86.92L529.97 89.52L527.37 92.12L524.77 89.52ZM528.94 88.27L531.54 90.87L528.94 93.47L526.34 90.87ZM530.50 89.59L533.10 92.19L530.50 94.79L527.90 92.19ZM532.06 90.90L534.66 93.50L532.06 96.10L529.46 93.50ZM533.63 92.21L536.23 94.81L533.63 97.41L531.03 94.81ZM535.19 93.51L537.79 96.11L535.19 98.71L532.59 96.11ZM536.75 94.82L539.35 97.42L536.75 100.02L534.15 97.42ZM538.32 96.14L540.92 98.74L538.32 101.34L535.72 98.74ZM539.88 97.49L542.48 100.09L539.88 102.69L537.28 100.09ZM541.44 98.86L544.04 101.46L541.44 104.06L538.84 101.46ZM543.01 100.23L545.61 102.83L543.01 105.43L540.41 102.83ZM544.57 101.59L547.17 104.19L544.57 106.79L541.97 104.19ZM546.13 102.91L548.73 105.51L546.13 108.11L543.53 105.51ZM547.70 104.19L550.30 106.79L547.70 109.39L545.10 106.79ZM549.26 105.41L551.86 108.01L549.26 110.61L546.66 108.01ZM550.82 106.60L553.42 109.20L550.82 111.80L548.22 109.20ZM552.39 107.77L554.99 110.37L552.39 112.97L549.79 110.37ZM553.95 108.91L556.55 111.51L553.95 114.11L551.35 111.51ZM555.51 110.01L558.11 112.61L555.51 115.21L552.91 112.61ZM557.08 111.06L559.68 113.66L557.08 116.26L554.48 113.66ZM558.64 112.05L561.24 114.65L558.64 117.25L556.04 114.65ZM560.20 112.97L562.80 115.57L560.20 118.17L557.60 115.57ZM561.76 113.89L564.37 116.49L561.76 119.09L559.16 116.49ZM563.33 114.78L565.93 117.38L563.33 119.98L560.73 117.38ZM564.89 115.63L567.49 118.23L564.89 120.83L562.29 118.23ZM566.45 116.42L569.05 119.02L566.45 121.62L563.85 119.02ZM568.02 117.12L570.62 119.72L568.02 122.32L565.42 119.72ZM569.58 117.70L572.18 120.30L569.58 122.90L566.98 120.30ZM571.14 118.19L573.74 120.79L571.14 123.39L568.54 120.79ZM572.71 118.66L575.31 121.26L572.71 123.86L570.11 121.26ZM574.27 118.96L576.87 121.56L574.27 124.16L571.67 121.56ZM575.83 118.97L578.43 121.57L575.83 124.17L573.23 121.57ZM577.40 118.79L580.00 121.39L577.40 123.99L574.80 121.39ZM578.96 118.53L581.56 121.13L578.96 123.73L576.36 121.13ZM580.52 118.09L583.12 120.69L580.52 123.29L577.92 120.69ZM582.09 116.93L584.69 119.53L582.09 122.13L579.49 119.53ZM583.65 114.38L586.25 116.98L583.65 119.58L581.05 116.98ZM585.21 111.50L587.81 114.10L585.21 116.70L582.61 114.10ZM586.78 108.52L589.38 111.12L586.78 113.72L584.18 111.12ZM588.34 105.16L590.94 107.76L588.34 110.36L585.74 107.76ZM589.90 101.39L592.50 103.99L589.90 106.59L587.30 103.99ZM591.47 97.17L594.07 99.77L591.47 102.37L588.87 99.77ZM593.03 92.34L595.63 94.94L593.03 97.54L590.43 94.94ZM594.59 86.13L597.19 88.73L594.59 91.33L591.99 88.73ZM596.16 78.99L598.76 81.59L596.16 84.19L593.56 81.59ZM597.72 71.76L600.32 74.36L597.72 76.96L595.12 74.36ZM599.28 64.76L601.88 67.36L599.28 69.96L596.68 67.36ZM600.85 58.98L603.45 61.58L600.85 64.18L598.25 61.58ZM602.41 53.76L605.01 56.36L602.41 58.96L599.81 56.36ZM603.97 48.61L606.57 51.21L603.97 53.81L601.37 51.21ZM605.54 45.11L608.14 47.71L605.54 50.31L602.94 47.71ZM607.10 42.46L609.70 45.06L607.10 47.66L604.50 45.06ZM608.66 40.44L611.26 43.04L608.66 45.64L606.06 43.04ZM610.23 38.97L612.83 41.57L610.23 44.17L607.63 41.57ZM611.79 37.73L614.39 40.33L611.79 42.93L609.19 40.33ZM613.35 36.73L615.95 39.33L613.35 41.93L610.75 39.33ZM614.92 36.00L617.52 38.60L614.92 41.20L612.32 38.60ZM616.48 35.52L619.08 38.12L616.48 40.72L613.88 38.12ZM618.04 35.17L620.64 37.77L618.04 40.37L615.44 37.77ZM619.61 34.87L622.21 37.47L619.61 40.07L617.01 37.47ZM621.17 34.56L623.77 37.16L621.17 39.76L618.57 37.16ZM622.73 34.23L625.33 36.83L622.73 39.43L620.13 36.83ZM624.30 33.90L626.90 36.50L624.30 39.10L621.70 36.50ZM625.86 33.57L628.46 36.17L625.86 38.77L623.26 36.17ZM627.42 33.25L630.02 35.85L627.42 38.45L624.82 35.85ZM628.99 32.96L631.59 35.56L628.99 38.16L626.39 35.56ZM630.55 32.70L633.15 35.30L630.55 37.90L627.95 35.30ZM632.11 32.49L634.71 35.09L632.11 37.69L629.51 35.09ZM633.68 32.33L636.28 34.93L633.68 37.53L631.08 34.93ZM635.24 32.21L637.84 34.81L635.24 37.41L632.64 34.81ZM636.80 32.09L639.40 34.69L636.80 37.29L634.20 34.69ZM638.37 31.98L640.97 34.58L638.37 37.18L635.77 34.58ZM639.93 31.89L642.53 34.49L639.93 37.09L637.33 34.49ZM641.49 31.81L644.09 34.41L641.49 37.01L638.89 34.41ZM643.06 31.75L645.66 34.35L643.06 36.95L640.46 34.35ZM644.62 31.71L647.22 34.31L644.62 36.91L642.02 34.31ZM646.18 31.71L648.78 34.31L646.18 36.91L643.58 34.31ZM647.75 32.42L650.35 35.02L647.75 37.62L645.15 35.02ZM649.31 33.90L651.91 36.50L649.31 39.10L646.71 36.50ZM650.87 35.89L653.47 38.49L650.87 41.09L648.27 38.49ZM652.44 39.37L655.04 41.97L652.44 44.57L649.84 41.97ZM654.00 43.25L656.60 45.85L654.00 48.45L651.40 45.85ZM655.56 46.53L658.16 49.13L655.56 51.73L652.96 49.13ZM657.13 49.76L659.73 52.36L657.13 54.96L654.53 52.36ZM658.69 53.50L661.29 56.10L658.69 58.70L656.09 56.10ZM660.25 58.00L662.85 60.60L660.25 63.20L657.65 60.60ZM661.82 64.09L664.42 66.69L661.82 69.29L659.22 66.69ZM663.38 72.32L665.98 74.92L663.38 77.52L660.78 74.92ZM664.94 81.62L667.54 84.22L664.94 86.82L662.34 84.22ZM666.51 90.82L669.11 93.42L666.51 96.02L663.91 93.42ZM668.07 103.80L670.67 106.40L668.07 109.00L665.47 106.40ZM669.63 120.32L672.23 122.92L669.63 125.52L667.03 122.92ZM671.20 131.46L673.80 134.06L671.20 136.66L668.60 134.06ZM672.76 143.45L675.36 146.05L672.76 148.65L670.16 146.05ZM674.32 150.95L676.92 153.55L674.32 156.15L671.72 153.55ZM675.89 156.71L678.49 159.31L675.89 161.91L673.29 159.31ZM677.45 161.70L680.05 164.30L677.45 166.90L674.85 164.30ZM679.01 165.51L681.61 168.11L679.01 170.71L676.41 168.11ZM680.58 168.53L683.18 171.13L680.58 173.73L677.98 171.13ZM682.14 170.98L684.74 173.58L682.14 176.18L679.54 173.58ZM683.70 172.80L686.30 175.40L683.70 178.00L681.10 175.40ZM685.27 174.23L687.87 176.83L685.27 179.43L682.67 176.83ZM686.83 175.44L689.43 178.04L686.83 180.64L684.23 178.04ZM688.39 176.49L690.99 179.09L688.39 181.69L685.79 179.09ZM689.96 177.41L692.56 180.01L689.96 182.61L687.36 180.01ZM691.52 178.25L694.12 180.85L691.52 183.45L688.92 180.85ZM693.08 179.05L695.68 181.65L693.08 184.25L690.48 181.65ZM694.65 179.79L697.25 182.39L694.65 184.99L692.05 182.39ZM696.21 180.47L698.81 183.07L696.21 185.67L693.61 183.07ZM697.77 181.10L700.37 183.70L697.77 186.30L695.17 183.70ZM699.34 181.68L701.94 184.28L699.34 186.88L696.74 184.28ZM700.90 182.21L703.50 184.81L700.90 187.41L698.30 184.81ZM702.46 182.71L705.06 185.31L702.46 187.91L699.86 185.31ZM704.03 183.19L706.63 185.79L704.03 188.39L701.43 185.79ZM705.59 183.67L708.19 186.27L705.59 188.87L702.99 186.27ZM707.15 184.12L709.75 186.72L707.15 189.32L704.55 186.72ZM708.72 184.56L711.32 187.16L708.72 189.76L706.12 187.16ZM710.28 184.96L712.88 187.56L710.28 190.16L707.68 187.56ZM711.84 185.33L714.44 187.93L711.84 190.53L709.24 187.93ZM713.41 185.66L716.01 188.26L713.41 190.86L710.81 188.26ZM714.97 185.94L717.57 188.54L714.97 191.14L712.37 188.54ZM716.53 186.17L719.13 188.77L716.53 191.37L713.93 188.77ZM718.10 186.33L720.70 188.93L718.10 191.53L715.50 188.93Z" fill="#000"/>
<text x="532.6" y="138.6" font-size="11.8" stroke="#111" stroke-width="0.35" fill="#111" textLength="42.9" lengthAdjust="spacingAndGlyphs">p&lt;0.001</text>
<text x="610.0" y="63.8" font-size="11.8" stroke="#111" stroke-width="0.35" fill="#111" textLength="40.2" lengthAdjust="spacingAndGlyphs">p&lt;0.001</text>
<text x="490.5" y="183.6" font-size="13" stroke="#111" stroke-width="0.35" fill="#111" textLength="82.6" lengthAdjust="spacingAndGlyphs">U of Michigan</text>
<line x1="491.60" y1="248.90" x2="491.60" y2="421.40" stroke="#333" stroke-width="0.9" stroke-dasharray="1.5 1.5"/>
<line x1="586.30" y1="248.90" x2="586.30" y2="421.40" stroke="#333" stroke-width="0.9" stroke-dasharray="1.5 1.5"/>
<line x1="657.32" y1="248.90" x2="657.32" y2="421.40" stroke="#333" stroke-width="0.9" stroke-dasharray="1.5 1.5"/>
<line x1="444.25" y1="248.90" x2="444.25" y2="421.40" stroke="#000" stroke-width="1.3" />
<line x1="444.25" y1="421.40" x2="728.35" y2="421.40" stroke="#000" stroke-width="1.3" />
<line x1="728.20" y1="248.90" x2="728.20" y2="421.40" stroke="#555" stroke-width="1.6" />
<line x1="444.25" y1="248.90" x2="728.20" y2="248.90" stroke="#777" stroke-width="1.9" />
<line x1="440.25" y1="421.40" x2="444.25" y2="421.40" stroke="#111" stroke-width="1" />
<text x="436.3" y="425.9" font-size="11" stroke="#111" stroke-width="0.2" text-anchor="end" fill="#111" textLength="17.5" lengthAdjust="spacingAndGlyphs">0.0</text>
<line x1="440.25" y1="393.70" x2="444.25" y2="393.70" stroke="#111" stroke-width="1" />
<text x="436.3" y="398.2" font-size="11" stroke="#111" stroke-width="0.2" text-anchor="end" fill="#111" textLength="17.5" lengthAdjust="spacingAndGlyphs">0.2</text>
<line x1="440.25" y1="366.00" x2="444.25" y2="366.00" stroke="#111" stroke-width="1" />
<text x="436.3" y="370.5" font-size="11" stroke="#111" stroke-width="0.2" text-anchor="end" fill="#111" textLength="17.5" lengthAdjust="spacingAndGlyphs">0.4</text>
<line x1="440.25" y1="338.30" x2="444.25" y2="338.30" stroke="#111" stroke-width="1" />
<text x="436.3" y="342.8" font-size="11" stroke="#111" stroke-width="0.2" text-anchor="end" fill="#111" textLength="17.5" lengthAdjust="spacingAndGlyphs">0.6</text>
<line x1="440.25" y1="310.60" x2="444.25" y2="310.60" stroke="#111" stroke-width="1" />
<text x="436.3" y="315.1" font-size="11" stroke="#111" stroke-width="0.2" text-anchor="end" fill="#111" textLength="17.5" lengthAdjust="spacingAndGlyphs">0.8</text>
<line x1="440.25" y1="282.90" x2="444.25" y2="282.90" stroke="#111" stroke-width="1" />
<text x="436.3" y="287.4" font-size="11" stroke="#111" stroke-width="0.2" text-anchor="end" fill="#111" textLength="17.5" lengthAdjust="spacingAndGlyphs">1.0</text>
<line x1="440.25" y1="255.20" x2="444.25" y2="255.20" stroke="#111" stroke-width="1" />
<text x="436.3" y="259.7" font-size="11" stroke="#111" stroke-width="0.2" text-anchor="end" fill="#111" textLength="17.5" lengthAdjust="spacingAndGlyphs">1.2</text>
<line x1="444.25" y1="421.40" x2="444.25" y2="425.40" stroke="#111" stroke-width="1" />
<text x="444.3" y="438.0" font-size="11" stroke="#111" stroke-width="0.25" text-anchor="middle" fill="#111" textLength="21.8" lengthAdjust="spacingAndGlyphs">−30</text>
<line x1="491.60" y1="421.40" x2="491.60" y2="425.40" stroke="#111" stroke-width="1" />
<text x="491.6" y="438.0" font-size="11" stroke="#111" stroke-width="0.25" text-anchor="middle" fill="#111" textLength="6.5" lengthAdjust="spacingAndGlyphs">0</text>
<line x1="538.95" y1="421.40" x2="538.95" y2="425.40" stroke="#111" stroke-width="1" />
<text x="538.9" y="438.0" font-size="11" stroke="#111" stroke-width="0.25" text-anchor="middle" fill="#111" textLength="12.9" lengthAdjust="spacingAndGlyphs">30</text>
<line x1="586.30" y1="421.40" x2="586.30" y2="425.40" stroke="#111" stroke-width="1" />
<text x="586.3" y="438.0" font-size="11" stroke="#111" stroke-width="0.25" text-anchor="middle" fill="#111" textLength="12.9" lengthAdjust="spacingAndGlyphs">60</text>
<line x1="633.65" y1="421.40" x2="633.65" y2="425.40" stroke="#111" stroke-width="1" />
<text x="633.6" y="438.0" font-size="11" stroke="#111" stroke-width="0.25" text-anchor="middle" fill="#111" textLength="12.9" lengthAdjust="spacingAndGlyphs">90</text>
<line x1="681.00" y1="421.40" x2="681.00" y2="425.40" stroke="#111" stroke-width="1" />
<text x="681.0" y="438.0" font-size="11" stroke="#111" stroke-width="0.25" text-anchor="middle" fill="#111" textLength="20.3" lengthAdjust="spacingAndGlyphs">120</text>
<line x1="728.35" y1="421.40" x2="728.35" y2="425.40" stroke="#111" stroke-width="1" />
<text x="728.3" y="438.0" font-size="11" stroke="#111" stroke-width="0.25" text-anchor="middle" fill="#111" textLength="20.3" lengthAdjust="spacingAndGlyphs">150</text>
<text x="411.5" y="335.4" font-size="10.5" stroke="#111" stroke-width="0.25" text-anchor="middle" fill="#111" textLength="133.0" lengthAdjust="spacingAndGlyphs" transform="rotate(-90 411.5 335.4)">OCR, Fractional Change</text>
<text x="586.0" y="453.0" font-size="10.5" stroke="#111" stroke-width="0.25" text-anchor="middle" fill="#111" textLength="85.0" lengthAdjust="spacingAndGlyphs">Time (minutes)</text>
<text x="456.2" y="245.0" font-size="13.5" stroke="#000" stroke-width="0.3" textLength="23.0" lengthAdjust="spacingAndGlyphs">KRB</text>
<text x="500.0" y="245.0" font-size="13.5" stroke="#000" stroke-width="0.3" textLength="73.7" lengthAdjust="spacingAndGlyphs">30 μM Oligo</text>
<text x="590.5" y="245.0" font-size="13.5" stroke="#000" stroke-width="0.3" textLength="64.2" lengthAdjust="spacingAndGlyphs">1 μM FCCP</text>
<text x="673.0" y="245.0" font-size="13.5" stroke="#000" stroke-width="0.3" textLength="23.5" lengthAdjust="spacingAndGlyphs">KCN</text>
<text x="398.8" y="246.6" font-size="19" stroke="#000" stroke-width="0.3" font-weight="bold" textLength="12.9" lengthAdjust="spacingAndGlyphs">D</text>
<path d="M488.4 282.9V284.1M490.0 282.7V283.9M491.6 282.5V283.8M493.2 282.2V283.5M494.8 281.8V283.2M496.3 281.4V282.9M497.9 281.0V282.5M499.5 280.7V282.3M501.1 280.5V282.2M502.6 280.3V282.3M504.2 280.3V282.6M505.8 280.2V283.1M507.4 280.3V283.7M509.0 280.3V284.3M510.5 280.5V285.0M512.1 280.8V285.8M513.7 281.5V287.1M515.3 282.4V288.6M516.9 283.5V290.3M518.4 284.7V292.2M520.0 286.4V294.5M521.6 288.5V297.0M523.2 290.8V299.6M524.7 293.1V302.0M526.3 295.1V304.1M527.9 296.8V305.8M529.5 298.4V307.4M531.1 299.9V308.9M532.6 301.3V310.2M534.2 302.6V311.5M535.8 303.9V312.8M537.4 305.1V314.0M538.9 306.2V315.1M540.5 307.4V316.3M542.1 308.5V317.4M543.7 309.6V318.4M545.3 310.7V319.5M546.8 311.7V320.5M548.4 312.7V321.4M550.0 313.6V322.3M551.6 314.5V323.2M553.2 315.3V323.9M554.7 316.0V324.6M556.3 316.7V325.2M557.9 317.4V325.8M559.5 318.0V326.4M561.0 318.6V326.9M562.6 319.2V327.4M564.2 319.8V327.8M565.8 320.4V328.1M567.4 320.9V328.4M568.9 321.5V328.6M570.5 322.0V328.8M572.1 322.5V328.9M573.7 323.0V329.0M575.2 323.5V329.0M576.8 324.0V329.1M578.4 324.5V329.2M580.0 325.0V329.3M581.6 325.5V329.5M583.1 326.2V329.9M584.7 326.8V330.2M586.3 327.1V330.3M587.9 327.1V330.2M589.5 326.9V329.9M591.0 326.5V329.5M592.6 326.1V329.1M594.2 325.5V328.5M595.8 324.6V327.7M597.3 323.1V326.2M598.9 321.4V324.6M600.5 319.2V322.5M602.1 315.5V318.9M603.7 309.6V313.0M605.2 306.0V309.5M606.8 302.5V306.1M608.4 299.0V302.7M610.0 294.9V298.6M611.6 291.6V295.5M613.1 289.1V293.1M614.7 287.7V291.8M616.3 286.9V291.1M617.9 286.2V290.5M619.4 285.7V290.2M621.0 285.5V290.0M622.6 285.3V289.9M624.2 285.2V289.9M625.8 285.1V289.9M627.3 285.1V289.9M628.9 285.1V290.1M630.5 285.2V290.2M632.1 285.3V290.4M633.6 285.5V290.6M635.2 285.6V290.8M636.8 285.8V291.1M638.4 285.9V291.3M640.0 286.0V291.5M641.5 286.2V291.7M643.1 286.3V292.0M644.7 286.5V292.2M646.3 286.6V292.4M647.9 286.8V292.6M649.4 286.8V292.7M651.0 286.8V292.8M652.6 286.8V292.7M654.2 286.6V292.6M655.7 286.5V292.5M657.3 286.6V292.6M658.9 287.4V293.1M660.5 288.8V294.1M662.1 291.2V295.9M663.6 294.7V298.7M665.2 298.8V302.1M666.8 304.1V306.7M668.4 309.6V311.8M669.9 320.5V322.5M671.5 328.3V330.2M673.1 339.3V341.2M674.7 347.5V349.3M676.3 355.4V357.2M677.8 362.0V363.8M679.4 368.7V370.4M681.0 374.7V376.3M682.6 380.1V381.7M684.2 385.7V387.2M685.7 390.3V391.8M687.3 394.1V395.6M688.9 396.9V398.4M690.5 399.0V400.4M692.0 400.8V402.1M693.6 402.4V403.7M695.2 403.9V405.2M696.8 405.3V406.6M698.4 406.6V407.9M699.9 407.8V409.0" stroke="#a0a0a0" stroke-width="0.8" fill="none"/>
<path d="M486.8 282.9h3.2M486.8 284.1h3.2M488.4 282.7h3.2M488.4 283.9h3.2M490.0 282.5h3.2M490.0 283.8h3.2M491.6 282.2h3.2M491.6 283.5h3.2M493.2 281.8h3.2M493.2 283.2h3.2M494.7 281.4h3.2M494.7 282.9h3.2M496.3 281.0h3.2M496.3 282.5h3.2M497.9 280.7h3.2M497.9 282.3h3.2M499.5 280.5h3.2M499.5 282.2h3.2M501.0 280.3h3.2M501.0 282.3h3.2M502.6 280.3h3.2M502.6 282.6h3.2M504.2 280.2h3.2M504.2 283.1h3.2M505.8 280.3h3.2M505.8 283.7h3.2M507.4 280.3h3.2M507.4 284.3h3.2M508.9 280.5h3.2M508.9 285.0h3.2M510.5 280.8h3.2M510.5 285.8h3.2M512.1 281.5h3.2M512.1 287.1h3.2M513.7 282.4h3.2M513.7 288.6h3.2M515.3 283.5h3.2M515.3 290.3h3.2M516.8 284.7h3.2M516.8 292.2h3.2M518.4 286.4h3.2M518.4 294.5h3.2M520.0 288.5h3.2M520.0 297.0h3.2M521.6 290.8h3.2M521.6 299.6h3.2M523.1 293.1h3.2M523.1 302.0h3.2M524.7 295.1h3.2M524.7 304.1h3.2M526.3 296.8h3.2M526.3 305.8h3.2M527.9 298.4h3.2M527.9 307.4h3.2M529.5 299.9h3.2M529.5 308.9h3.2M531.0 301.3h3.2M531.0 310.2h3.2M532.6 302.6h3.2M532.6 311.5h3.2M534.2 303.9h3.2M534.2 312.8h3.2M535.8 305.1h3.2M535.8 314.0h3.2M537.3 306.2h3.2M537.3 315.1h3.2M538.9 307.4h3.2M538.9 316.3h3.2M540.5 308.5h3.2M540.5 317.4h3.2M542.1 309.6h3.2M542.1 318.4h3.2M543.7 310.7h3.2M543.7 319.5h3.2M545.2 311.7h3.2M545.2 320.5h3.2M546.8 312.7h3.2M546.8 321.4h3.2M548.4 313.6h3.2M548.4 322.3h3.2M550.0 314.5h3.2M550.0 323.2h3.2M551.6 315.3h3.2M551.6 323.9h3.2M553.1 316.0h3.2M553.1 324.6h3.2M554.7 316.7h3.2M554.7 325.2h3.2M556.3 317.4h3.2M556.3 325.8h3.2M557.9 318.0h3.2M557.9 326.4h3.2M559.4 318.6h3.2M559.4 326.9h3.2M561.0 319.2h3.2M561.0 327.4h3.2M562.6 319.8h3.2M562.6 327.8h3.2M564.2 320.4h3.2M564.2 328.1h3.2M565.8 320.9h3.2M565.8 328.4h3.2M567.3 321.5h3.2M567.3 328.6h3.2M568.9 322.0h3.2M568.9 328.8h3.2M570.5 322.5h3.2M570.5 328.9h3.2M572.1 323.0h3.2M572.1 329.0h3.2M573.6 323.5h3.2M573.6 329.0h3.2M575.2 324.0h3.2M575.2 329.1h3.2M576.8 324.5h3.2M576.8 329.2h3.2M578.4 325.0h3.2M578.4 329.3h3.2M580.0 325.5h3.2M580.0 329.5h3.2M581.5 326.2h3.2M581.5 329.9h3.2M583.1 326.8h3.2M583.1 330.2h3.2M584.7 327.1h3.2M584.7 330.3h3.2M586.3 327.1h3.2M586.3 330.2h3.2M587.9 326.9h3.2M587.9 329.9h3.2M589.4 326.5h3.2M589.4 329.5h3.2M591.0 326.1h3.2M591.0 329.1h3.2M592.6 325.5h3.2M592.6 328.5h3.2M594.2 324.6h3.2M594.2 327.7h3.2M595.7 323.1h3.2M595.7 326.2h3.2M597.3 321.4h3.2M597.3 324.6h3.2M598.9 319.2h3.2M598.9 322.5h3.2M600.5 315.5h3.2M600.5 318.9h3.2M602.1 309.6h3.2M602.1 313.0h3.2M603.6 306.0h3.2M603.6 309.5h3.2M605.2 302.5h3.2M605.2 306.1h3.2M606.8 299.0h3.2M606.8 302.7h3.2M608.4 294.9h3.2M608.4 298.6h3.2M610.0 291.6h3.2M610.0 295.5h3.2M611.5 289.1h3.2M611.5 293.1h3.2M613.1 287.7h3.2M613.1 291.8h3.2M614.7 286.9h3.2M614.7 291.1h3.2M616.3 286.2h3.2M616.3 290.5h3.2M617.8 285.7h3.2M617.8 290.2h3.2M619.4 285.5h3.2M619.4 290.0h3.2M621.0 285.3h3.2M621.0 289.9h3.2M622.6 285.2h3.2M622.6 289.9h3.2M624.2 285.1h3.2M624.2 289.9h3.2M625.7 285.1h3.2M625.7 289.9h3.2M627.3 285.1h3.2M627.3 290.1h3.2M628.9 285.2h3.2M628.9 290.2h3.2M630.5 285.3h3.2M630.5 290.4h3.2M632.0 285.5h3.2M632.0 290.6h3.2M633.6 285.6h3.2M633.6 290.8h3.2M635.2 285.8h3.2M635.2 291.1h3.2M636.8 285.9h3.2M636.8 291.3h3.2M638.4 286.0h3.2M638.4 291.5h3.2M639.9 286.2h3.2M639.9 291.7h3.2M641.5 286.3h3.2M641.5 292.0h3.2M643.1 286.5h3.2M643.1 292.2h3.2M644.7 286.6h3.2M644.7 292.4h3.2M646.3 286.8h3.2M646.3 292.6h3.2M647.8 286.8h3.2M647.8 292.7h3.2M649.4 286.8h3.2M649.4 292.8h3.2M651.0 286.8h3.2M651.0 292.7h3.2M652.6 286.6h3.2M652.6 292.6h3.2M654.1 286.5h3.2M654.1 292.5h3.2M655.7 286.6h3.2M655.7 292.6h3.2M657.3 287.4h3.2M657.3 293.1h3.2M658.9 288.8h3.2M658.9 294.1h3.2M660.5 291.2h3.2M660.5 295.9h3.2M662.0 294.7h3.2M662.0 298.7h3.2M663.6 298.8h3.2M663.6 302.1h3.2M665.2 304.1h3.2M665.2 306.7h3.2M666.8 309.6h3.2M666.8 311.8h3.2M668.3 320.5h3.2M668.3 322.5h3.2M669.9 328.3h3.2M669.9 330.2h3.2M671.5 339.3h3.2M671.5 341.2h3.2M673.1 347.5h3.2M673.1 349.3h3.2M674.7 355.4h3.2M674.7 357.2h3.2M676.2 362.0h3.2M676.2 363.8h3.2M677.8 368.7h3.2M677.8 370.4h3.2M679.4 374.7h3.2M679.4 376.3h3.2M681.0 380.1h3.2M681.0 381.7h3.2M682.6 385.7h3.2M682.6 387.2h3.2M684.1 390.3h3.2M684.1 391.8h3.2M685.7 394.1h3.2M685.7 395.6h3.2M687.3 396.9h3.2M687.3 398.4h3.2M688.9 399.0h3.2M688.9 400.4h3.2M690.4 400.8h3.2M690.4 402.1h3.2M692.0 402.4h3.2M692.0 403.7h3.2M693.6 403.9h3.2M693.6 405.2h3.2M695.2 405.3h3.2M695.2 406.6h3.2M696.8 406.6h3.2M696.8 407.9h3.2M698.3 407.8h3.2M698.3 409.0h3.2" stroke="#383838" stroke-width="1.0" fill="none"/>
<polygon points="444.8,287.23 445.3,287.10 445.8,286.98 446.3,286.85 446.8,286.73 447.3,286.60 447.8,286.48 448.3,286.36 448.8,286.24 449.3,286.12 449.8,286.01 450.3,285.89 450.8,285.78 451.3,285.67 451.8,285.56 452.3,285.46 452.8,285.35 453.3,285.25 453.8,285.15 454.3,285.05 454.8,284.96 455.3,284.86 455.8,284.77 456.3,284.69 456.8,284.60 457.3,284.52 457.8,284.44 458.3,284.36 458.8,284.29 459.3,284.21 459.8,284.14 460.3,284.07 460.8,284.00 461.3,283.94 461.8,283.87 462.3,283.81 462.8,283.74 463.3,283.68 463.8,283.62 464.3,283.56 464.8,283.50 465.3,283.44 465.8,283.39 466.3,283.33 466.8,283.27 467.3,283.22 467.8,283.17 468.3,283.11 468.8,283.06 469.3,283.01 469.8,282.95 470.3,282.90 470.8,282.85 471.3,282.80 471.8,282.75 472.3,282.70 472.8,282.65 473.3,282.59 473.8,282.54 474.3,282.49 474.8,282.44 475.3,282.39 475.8,282.34 476.3,282.28 476.8,282.23 477.3,282.18 477.8,282.13 478.3,282.09 478.8,282.04 479.3,282.00 479.8,281.95 480.3,281.91 480.8,281.86 481.3,281.82 481.8,281.78 482.3,281.74 482.8,281.69 483.3,281.65 483.8,281.61 484.3,281.57 484.8,281.52 485.3,281.48 485.8,281.43 486.3,281.39 486.8,281.34 487.3,281.29 487.8,281.24 488.3,281.19 488.8,281.14 489.3,281.09 489.8,281.03 490.3,280.98 490.8,280.92 491.3,280.86 491.8,280.79 492.3,280.72 492.8,280.64 493.3,280.54 493.8,280.44 494.3,280.33 494.8,280.21 495.3,280.09 495.8,279.97 496.3,279.85 496.8,279.73 497.3,279.61 497.8,279.50 498.3,279.39 498.8,279.30 499.3,279.21 499.8,279.14 500.3,279.08 500.8,279.04 501.3,279.01 501.8,279.00 502.3,279.01 502.8,279.03 503.3,279.06 503.8,279.10 504.3,279.15 504.8,279.21 505.3,279.27 505.8,279.35 506.3,279.44 506.8,279.53 507.3,279.63 507.8,279.74 508.3,279.85 508.8,279.97 509.3,280.09 509.8,280.22 510.3,280.35 510.8,280.49 511.3,280.64 511.8,280.84 512.3,281.09 512.8,281.37 513.3,281.68 513.8,282.03 514.3,282.40 514.8,282.79 515.3,283.20 515.8,283.63 516.3,284.07 516.8,284.52 517.3,284.97 517.8,285.44 517.8,290.04 517.3,289.57 516.8,289.12 516.3,288.67 515.8,288.23 515.3,287.80 514.8,287.39 514.3,287.00 513.8,286.63 513.3,286.28 512.8,285.97 512.3,285.69 511.8,285.44 511.3,285.24 510.8,285.09 510.3,284.95 509.8,284.82 509.3,284.69 508.8,284.57 508.3,284.45 507.8,284.34 507.3,284.23 506.8,284.13 506.3,284.04 505.8,283.95 505.3,283.87 504.8,283.81 504.3,283.75 503.8,283.70 503.3,283.66 502.8,283.63 502.3,283.61 501.8,283.60 501.3,283.61 500.8,283.64 500.3,283.68 499.8,283.74 499.3,283.81 498.8,283.90 498.3,283.99 497.8,284.10 497.3,284.21 496.8,284.33 496.3,284.45 495.8,284.57 495.3,284.69 494.8,284.81 494.3,284.93 493.8,285.04 493.3,285.14 492.8,285.24 492.3,285.32 491.8,285.39 491.3,285.46 490.8,285.52 490.3,285.58 489.8,285.63 489.3,285.69 488.8,285.74 488.3,285.79 487.8,285.84 487.3,285.89 486.8,285.94 486.3,285.99 485.8,286.03 485.3,286.08 484.8,286.12 484.3,286.17 483.8,286.21 483.3,286.25 482.8,286.29 482.3,286.34 481.8,286.38 481.3,286.42 480.8,286.46 480.3,286.51 479.8,286.55 479.3,286.60 478.8,286.64 478.3,286.69 477.8,286.73 477.3,286.78 476.8,286.83 476.3,286.88 475.8,286.94 475.3,286.99 474.8,287.04 474.3,287.09 473.8,287.14 473.3,287.19 472.8,287.25 472.3,287.30 471.8,287.35 471.3,287.40 470.8,287.45 470.3,287.50 469.8,287.55 469.3,287.61 468.8,287.66 468.3,287.71 467.8,287.77 467.3,287.82 466.8,287.87 466.3,287.93 465.8,287.99 465.3,288.04 464.8,288.10 464.3,288.16 463.8,288.22 463.3,288.28 462.8,288.34 462.3,288.41 461.8,288.47 461.3,288.54 460.8,288.60 460.3,288.67 459.8,288.74 459.3,288.81 458.8,288.89 458.3,288.96 457.8,289.04 457.3,289.12 456.8,289.20 456.3,289.29 455.8,289.37 455.3,289.46 454.8,289.56 454.3,289.65 453.8,289.75 453.3,289.85 452.8,289.95 452.3,290.06 451.8,290.16 451.3,290.27 450.8,290.38 450.3,290.49 449.8,290.61 449.3,290.72 448.8,290.84 448.3,290.96 447.8,291.08 447.3,291.20 446.8,291.33 446.3,291.45 445.8,291.58 445.3,291.70 444.8,291.83" fill="#000"/>
<polygon points="528.8,299.89 529.3,300.37 529.8,300.85 530.3,301.32 530.8,301.78 531.3,302.24 531.8,302.68 532.3,303.12 532.8,303.55 533.3,303.97 533.8,304.39 534.3,304.80 534.8,305.20 535.3,305.60 535.8,305.99 536.3,306.38 536.8,306.76 537.3,307.14 537.8,307.51 538.3,307.88 538.8,308.25 539.3,308.61 539.8,308.97 540.3,309.32 540.8,309.68 541.3,310.03 541.8,310.38 542.3,310.73 542.8,311.07 543.3,311.42 543.8,311.76 544.3,312.10 544.8,312.43 545.3,312.76 545.8,313.09 546.3,313.41 546.8,313.73 547.3,314.05 547.8,314.36 548.3,314.66 548.8,314.96 549.3,315.25 549.8,315.54 550.3,315.82 550.8,316.09 551.3,316.36 551.8,316.62 552.3,316.88 552.8,317.12 553.3,317.36 553.8,317.59 554.3,317.81 554.8,318.03 555.3,318.24 555.8,318.45 556.3,318.66 556.8,318.86 557.3,319.06 557.8,319.26 558.3,319.45 558.8,319.64 559.3,319.83 559.8,320.01 560.3,320.19 560.8,320.37 561.3,320.54 561.8,320.71 562.3,320.87 562.8,321.04 563.3,321.20 563.8,321.35 564.3,321.50 564.8,321.65 565.3,321.79 565.8,321.93 566.3,322.07 566.8,322.21 567.3,322.34 567.8,322.46 568.3,322.59 568.8,322.70 569.3,322.82 569.8,322.93 570.3,323.03 570.8,323.14 571.3,323.24 571.8,323.34 572.3,323.43 572.8,323.53 573.3,323.62 573.8,323.71 574.3,323.81 574.8,323.90 575.3,323.99 575.8,324.08 576.3,324.17 576.8,324.26 577.3,324.35 577.8,324.44 578.3,324.54 578.8,324.63 579.3,324.73 579.8,324.83 580.3,324.94 580.8,325.05 581.3,325.16 581.8,325.29 582.3,325.44 582.8,325.60 583.3,325.76 583.8,325.91 584.3,326.06 584.8,326.19 585.3,326.29 585.8,326.36 586.3,326.40 586.8,326.40 587.3,326.37 587.8,326.34 588.3,326.28 588.8,326.22 589.3,326.13 589.8,326.04 590.3,325.93 590.8,325.81 591.3,325.68 591.8,325.54 592.3,325.38 592.8,325.22 593.3,325.05 593.8,324.88 594.3,324.69 594.8,324.49 595.3,324.21 595.8,323.86 596.3,323.44 596.8,322.98 596.8,327.58 596.3,328.04 595.8,328.46 595.3,328.81 594.8,329.09 594.3,329.29 593.8,329.48 593.3,329.65 592.8,329.82 592.3,329.98 591.8,330.14 591.3,330.28 590.8,330.41 590.3,330.53 589.8,330.64 589.3,330.73 588.8,330.82 588.3,330.88 587.8,330.94 587.3,330.97 586.8,331.00 586.3,331.00 585.8,330.96 585.3,330.89 584.8,330.79 584.3,330.66 583.8,330.51 583.3,330.36 582.8,330.20 582.3,330.04 581.8,329.89 581.3,329.76 580.8,329.65 580.3,329.54 579.8,329.43 579.3,329.33 578.8,329.23 578.3,329.14 577.8,329.04 577.3,328.95 576.8,328.86 576.3,328.77 575.8,328.68 575.3,328.59 574.8,328.50 574.3,328.41 573.8,328.31 573.3,328.22 572.8,328.13 572.3,328.03 571.8,327.94 571.3,327.84 570.8,327.74 570.3,327.63 569.8,327.53 569.3,327.42 568.8,327.30 568.3,327.19 567.8,327.06 567.3,326.94 566.8,326.81 566.3,326.67 565.8,326.53 565.3,326.39 564.8,326.25 564.3,326.10 563.8,325.95 563.3,325.80 562.8,325.64 562.3,325.47 561.8,325.31 561.3,325.14 560.8,324.97 560.3,324.79 559.8,324.61 559.3,324.43 558.8,324.24 558.3,324.05 557.8,323.86 557.3,323.66 556.8,323.46 556.3,323.26 555.8,323.05 555.3,322.84 554.8,322.63 554.3,322.41 553.8,322.19 553.3,321.96 552.8,321.72 552.3,321.48 551.8,321.22 551.3,320.96 550.8,320.69 550.3,320.42 549.8,320.14 549.3,319.85 548.8,319.56 548.3,319.26 547.8,318.96 547.3,318.65 546.8,318.33 546.3,318.01 545.8,317.69 545.3,317.36 544.8,317.03 544.3,316.70 543.8,316.36 543.3,316.02 542.8,315.67 542.3,315.33 541.8,314.98 541.3,314.63 540.8,314.28 540.3,313.92 539.8,313.57 539.3,313.21 538.8,312.85 538.3,312.48 537.8,312.11 537.3,311.74 536.8,311.36 536.3,310.98 535.8,310.59 535.3,310.20 534.8,309.80 534.3,309.40 533.8,308.99 533.3,308.57 532.8,308.15 532.3,307.72 531.8,307.28 531.3,306.84 530.8,306.38 530.3,305.92 529.8,305.45 529.3,304.97 528.8,304.49" fill="#000"/>
<polygon points="613.8,288.13 614.3,287.73 614.8,287.44 615.3,287.16 615.8,286.91 616.3,286.67 616.8,286.45 617.3,286.26 617.8,286.08 618.3,285.93 618.8,285.79 619.3,285.68 619.8,285.59 620.3,285.52 620.8,285.48 621.3,285.44 621.8,285.40 622.3,285.36 622.8,285.33 623.3,285.30 623.8,285.27 624.3,285.25 624.8,285.23 625.3,285.22 625.8,285.21 626.3,285.20 626.8,285.20 627.3,285.21 627.8,285.22 628.3,285.24 628.8,285.27 629.3,285.30 629.8,285.34 630.3,285.38 630.8,285.42 631.3,285.47 631.8,285.52 632.3,285.57 632.8,285.63 633.3,285.69 633.8,285.75 634.3,285.81 634.8,285.87 635.3,285.93 635.8,285.99 636.3,286.05 636.8,286.11 637.3,286.16 637.8,286.22 638.3,286.27 638.8,286.31 639.3,286.37 639.8,286.42 640.3,286.48 640.8,286.54 641.3,286.60 641.8,286.66 642.3,286.73 642.8,286.79 643.3,286.86 643.8,286.92 644.3,286.99 644.8,287.05 645.3,287.11 645.8,287.17 646.3,287.22 646.8,287.28 647.3,287.32 647.8,287.37 648.3,287.40 648.8,287.44 649.3,287.46 649.8,287.48 650.3,287.50 650.8,287.50 651.3,287.50 651.8,287.48 652.3,287.45 652.8,287.42 653.3,287.39 653.8,287.35 654.3,287.31 654.8,287.28 655.3,287.25 655.8,287.22 656.3,287.20 656.8,287.20 657.3,287.25 657.8,287.39 658.3,287.59 658.8,287.86 659.3,288.18 659.8,288.54 660.3,288.94 660.8,289.37 660.8,293.97 660.3,293.54 659.8,293.14 659.3,292.78 658.8,292.46 658.3,292.19 657.8,291.99 657.3,291.85 656.8,291.80 656.3,291.80 655.8,291.82 655.3,291.85 654.8,291.88 654.3,291.91 653.8,291.95 653.3,291.99 652.8,292.02 652.3,292.05 651.8,292.08 651.3,292.10 650.8,292.10 650.3,292.10 649.8,292.08 649.3,292.06 648.8,292.04 648.3,292.00 647.8,291.97 647.3,291.92 646.8,291.88 646.3,291.82 645.8,291.77 645.3,291.71 644.8,291.65 644.3,291.59 643.8,291.52 643.3,291.46 642.8,291.39 642.3,291.33 641.8,291.26 641.3,291.20 640.8,291.14 640.3,291.08 639.8,291.02 639.3,290.97 638.8,290.91 638.3,290.87 637.8,290.82 637.3,290.76 636.8,290.71 636.3,290.65 635.8,290.59 635.3,290.53 634.8,290.47 634.3,290.41 633.8,290.35 633.3,290.29 632.8,290.23 632.3,290.17 631.8,290.12 631.3,290.07 630.8,290.02 630.3,289.98 629.8,289.94 629.3,289.90 628.8,289.87 628.3,289.84 627.8,289.82 627.3,289.81 626.8,289.80 626.3,289.80 625.8,289.81 625.3,289.82 624.8,289.83 624.3,289.85 623.8,289.87 623.3,289.90 622.8,289.93 622.3,289.96 621.8,290.00 621.3,290.04 620.8,290.08 620.3,290.12 619.8,290.19 619.3,290.28 618.8,290.39 618.3,290.53 617.8,290.68 617.3,290.86 616.8,291.05 616.3,291.27 615.8,291.51 615.3,291.76 614.8,292.04 614.3,292.33 613.8,292.73" fill="#000"/>
<polygon points="692.8,399.87 693.3,400.36 693.8,400.84 694.3,401.32 694.8,401.79 695.3,402.26 695.8,402.72 696.3,403.18 696.8,403.62 697.3,404.05 697.8,404.47 698.3,404.87 698.8,405.26 699.3,405.63 699.8,405.98 700.3,406.31 700.8,406.62 701.3,406.91 701.8,407.18 702.3,407.42 702.8,407.66 703.3,407.89 703.8,408.12 704.3,408.34 704.8,408.55 705.3,408.75 705.8,408.95 706.3,409.14 706.8,409.33 707.3,409.51 707.8,409.68 708.3,409.85 708.8,410.01 709.3,410.17 709.8,410.32 710.3,410.47 710.8,410.61 711.3,410.75 711.8,410.88 712.3,411.01 712.8,411.13 713.3,411.24 713.8,411.36 714.3,411.47 714.8,411.58 715.3,411.69 715.8,411.80 716.3,411.91 716.8,412.01 717.3,412.12 717.8,412.22 718.3,412.32 718.8,412.42 719.3,412.52 719.8,412.61 720.3,412.70 720.8,412.79 721.3,412.88 721.8,412.97 722.3,413.05 722.8,413.13 723.3,413.20 723.8,413.28 724.3,413.34 724.8,413.41 725.3,413.47 725.8,413.53 726.3,413.58 726.8,413.63 727.3,413.68 727.8,413.72 728.3,413.75 728.3,418.35 727.8,418.32 727.3,418.28 726.8,418.23 726.3,418.18 725.8,418.13 725.3,418.07 724.8,418.01 724.3,417.94 723.8,417.88 723.3,417.80 722.8,417.73 722.3,417.65 721.8,417.57 721.3,417.48 720.8,417.39 720.3,417.30 719.8,417.21 719.3,417.12 718.8,417.02 718.3,416.92 717.8,416.82 717.3,416.72 716.8,416.61 716.3,416.51 715.8,416.40 715.3,416.29 714.8,416.18 714.3,416.07 713.8,415.96 713.3,415.84 712.8,415.73 712.3,415.61 711.8,415.48 711.3,415.35 710.8,415.21 710.3,415.07 709.8,414.92 709.3,414.77 708.8,414.61 708.3,414.45 707.8,414.28 707.3,414.11 706.8,413.93 706.3,413.74 705.8,413.55 705.3,413.35 704.8,413.15 704.3,412.94 703.8,412.72 703.3,412.49 702.8,412.26 702.3,412.02 701.8,411.78 701.3,411.51 700.8,411.22 700.3,410.91 699.8,410.58 699.3,410.23 698.8,409.86 698.3,409.47 697.8,409.07 697.3,408.65 696.8,408.22 696.3,407.78 695.8,407.32 695.3,406.86 694.8,406.39 694.3,405.92 693.8,405.44 693.3,404.96 692.8,404.47" fill="#000"/>
<path d="M445.83 286.66L448.43 289.26L445.83 291.86L443.23 289.26ZM447.41 286.27L450.01 288.87L447.41 291.47L444.81 288.87ZM448.99 285.89L451.59 288.49L448.99 291.09L446.39 288.49ZM450.56 285.52L453.16 288.12L450.56 290.72L447.96 288.12ZM452.14 285.18L454.74 287.78L452.14 290.38L449.54 287.78ZM453.72 284.86L456.32 287.46L453.72 290.06L451.12 287.46ZM455.30 284.55L457.90 287.15L455.30 289.75L452.70 287.15ZM456.88 284.28L459.48 286.88L456.88 289.48L454.28 286.88ZM458.46 284.03L461.06 286.63L458.46 289.23L455.86 286.63ZM460.03 283.80L462.63 286.40L460.03 289.00L457.43 286.40ZM461.61 283.59L464.21 286.19L461.61 288.79L459.01 286.19ZM463.19 283.39L465.79 285.99L463.19 288.59L460.59 285.99ZM464.77 283.20L467.37 285.80L464.77 288.40L462.17 285.80ZM466.35 283.02L468.95 285.62L466.35 288.22L463.75 285.62ZM467.93 282.85L470.53 285.45L467.93 288.05L465.33 285.45ZM469.50 282.68L472.10 285.28L469.50 287.88L466.90 285.28ZM471.08 282.52L473.68 285.12L471.08 287.72L468.48 285.12ZM472.66 282.35L475.26 284.95L472.66 287.55L470.06 284.95ZM474.24 282.19L476.84 284.79L474.24 287.39L471.64 284.79ZM475.82 282.03L478.42 284.63L475.82 287.23L473.22 284.63ZM477.40 281.87L480.00 284.47L477.40 287.07L474.80 284.47ZM478.97 281.72L481.57 284.32L478.97 286.92L476.37 284.32ZM480.55 281.58L483.15 284.18L480.55 286.78L477.95 284.18ZM482.13 281.45L484.73 284.05L482.13 286.65L479.53 284.05ZM483.71 281.31L486.31 283.91L483.71 286.51L481.11 283.91ZM485.29 281.17L487.89 283.77L485.29 286.37L482.69 283.77ZM486.87 281.03L489.47 283.63L486.87 286.23L484.27 283.63ZM488.44 280.87L491.04 283.47L488.44 286.07L485.84 283.47ZM490.02 280.70L492.62 283.30L490.02 285.90L487.42 283.30ZM491.60 280.51L494.20 283.11L491.60 285.71L489.00 283.11ZM493.18 280.26L495.78 282.86L493.18 285.46L490.58 282.86ZM494.76 279.91L497.36 282.51L494.76 285.11L492.16 282.51ZM496.33 279.53L498.93 282.13L496.33 284.73L493.73 282.13ZM497.91 279.16L500.51 281.76L497.91 284.36L495.31 281.76ZM499.49 278.88L502.09 281.48L499.49 284.08L496.89 281.48ZM501.07 278.72L503.67 281.32L501.07 283.92L498.47 281.32ZM502.65 278.72L505.25 281.32L502.65 283.92L500.05 281.32ZM504.23 278.84L506.83 281.44L504.23 284.04L501.63 281.44ZM505.80 279.06L508.40 281.66L505.80 284.26L503.20 281.66ZM507.38 279.36L509.98 281.96L507.38 284.56L504.78 281.96ZM508.96 279.72L511.56 282.32L508.96 284.92L506.36 282.32ZM510.54 280.13L513.14 282.73L510.54 285.33L507.94 282.73ZM512.12 280.72L514.72 283.32L512.12 285.92L509.52 283.32ZM513.70 281.69L516.30 284.29L513.70 286.89L511.10 284.29ZM515.27 282.92L517.87 285.52L515.27 288.12L512.67 285.52ZM516.85 284.31L519.45 286.91L516.85 289.51L514.25 286.91ZM518.43 285.85L521.03 288.45L518.43 291.05L515.83 288.45ZM520.01 287.84L522.61 290.44L520.01 293.04L517.41 290.44ZM521.59 290.16L524.19 292.76L521.59 295.36L518.99 292.76ZM523.17 292.59L525.77 295.19L523.17 297.79L520.57 295.19ZM524.74 294.95L527.34 297.55L524.74 300.15L522.14 297.55ZM526.32 297.04L528.92 299.64L526.32 302.24L523.72 299.64ZM527.90 298.73L530.50 301.33L527.90 303.93L525.30 301.33ZM529.48 300.29L532.08 302.89L529.48 305.49L526.88 302.89ZM531.06 301.76L533.66 304.36L531.06 306.96L528.46 304.36ZM532.64 303.15L535.24 305.75L532.64 308.35L530.04 305.75ZM534.21 304.47L536.81 307.07L534.21 309.67L531.61 307.07ZM535.79 305.73L538.39 308.33L535.79 310.93L533.19 308.33ZM537.37 306.93L539.97 309.53L537.37 312.13L534.77 309.53ZM538.95 308.09L541.55 310.69L538.95 313.29L536.35 310.69ZM540.53 309.22L543.13 311.82L540.53 314.42L537.93 311.82ZM542.11 310.33L544.71 312.93L542.11 315.53L539.51 312.93ZM543.68 311.41L546.28 314.01L543.68 316.61L541.08 314.01ZM545.26 312.47L547.86 315.07L545.26 317.67L542.66 315.07ZM546.84 313.49L549.44 316.09L546.84 318.69L544.24 316.09ZM548.42 314.46L551.02 317.06L548.42 319.66L545.82 317.06ZM550.00 315.38L552.60 317.98L550.00 320.58L547.40 317.98ZM551.58 316.23L554.18 318.83L551.58 321.43L548.98 318.83ZM553.15 317.01L555.75 319.61L553.15 322.21L550.55 319.61ZM554.73 317.72L557.33 320.32L554.73 322.92L552.13 320.32ZM556.31 318.39L558.91 320.99L556.31 323.59L553.71 320.99ZM557.89 319.02L560.49 321.62L557.89 324.22L555.29 321.62ZM559.47 319.61L562.07 322.21L559.47 324.81L556.87 322.21ZM561.05 320.17L563.65 322.77L561.05 325.37L558.45 322.77ZM562.62 320.70L565.22 323.30L562.62 325.90L560.02 323.30ZM564.20 321.19L566.80 323.79L564.20 326.39L561.60 323.79ZM565.78 321.64L568.38 324.24L565.78 326.84L563.18 324.24ZM567.36 322.06L569.96 324.66L567.36 327.26L564.76 324.66ZM568.94 322.45L571.54 325.05L568.94 327.65L566.34 325.05ZM570.51 322.79L573.12 325.39L570.51 327.99L567.91 325.39ZM572.09 323.10L574.69 325.70L572.09 328.30L569.49 325.70ZM573.67 323.40L576.27 326.00L573.67 328.60L571.07 326.00ZM575.25 323.69L577.85 326.29L575.25 328.89L572.65 326.29ZM576.83 323.97L579.43 326.57L576.83 329.17L574.23 326.57ZM578.41 324.27L581.01 326.87L578.41 329.47L575.81 326.87ZM579.98 324.58L582.58 327.18L579.98 329.78L577.38 327.18ZM581.56 324.94L584.16 327.54L581.56 330.14L578.96 327.54ZM583.14 325.42L585.74 328.02L583.14 330.62L580.54 328.02ZM584.72 325.88L587.32 328.48L584.72 331.08L582.12 328.48ZM586.30 326.10L588.90 328.70L586.30 331.30L583.70 328.70ZM587.88 326.03L590.48 328.63L587.88 331.23L585.28 328.63ZM589.45 325.80L592.05 328.40L589.45 331.00L586.85 328.40ZM591.03 325.44L593.63 328.04L591.03 330.64L588.43 328.04ZM592.61 324.97L595.21 327.57L592.61 330.17L590.01 327.57ZM594.19 324.42L596.79 327.02L594.19 329.62L591.59 327.02ZM595.77 323.55L598.37 326.15L595.77 328.75L593.17 326.15ZM597.35 322.08L599.95 324.68L597.35 327.28L594.75 324.68ZM598.92 320.40L601.52 323.00L598.92 325.60L596.32 323.00ZM600.50 318.27L603.10 320.87L600.50 323.47L597.90 320.87ZM602.08 314.59L604.68 317.19L602.08 319.79L599.48 317.19ZM603.66 308.69L606.26 311.29L603.66 313.89L601.06 311.29ZM605.24 305.11L607.84 307.71L605.24 310.31L602.64 307.71ZM606.82 301.71L609.42 304.31L606.82 306.91L604.22 304.31ZM608.39 298.24L610.99 300.84L608.39 303.44L605.79 300.84ZM609.97 294.15L612.57 296.75L609.97 299.35L607.37 296.75ZM611.55 290.94L614.15 293.54L611.55 296.14L608.95 293.54ZM613.13 288.52L615.73 291.12L613.13 293.72L610.53 291.12ZM614.71 287.16L617.31 289.76L614.71 292.36L612.11 289.76ZM616.29 286.36L618.89 288.96L616.29 291.56L613.69 288.96ZM617.86 285.75L620.46 288.35L617.86 290.95L615.26 288.35ZM619.44 285.34L622.04 287.94L619.44 290.54L616.84 287.94ZM621.02 285.16L623.62 287.76L621.02 290.36L618.42 287.76ZM622.60 285.04L625.20 287.64L622.60 290.24L620.00 287.64ZM624.18 284.95L626.78 287.55L624.18 290.15L621.58 287.55ZM625.76 284.91L628.36 287.51L625.76 290.11L623.16 287.51ZM627.33 284.91L629.93 287.51L627.33 290.11L624.73 287.51ZM628.91 284.98L631.51 287.58L628.91 290.18L626.31 287.58ZM630.49 285.10L633.09 287.70L630.49 290.30L627.89 287.70ZM632.07 285.25L634.67 287.85L632.07 290.45L629.47 287.85ZM633.65 285.43L636.25 288.03L633.65 290.63L631.05 288.03ZM635.23 285.63L637.83 288.23L635.23 290.83L632.63 288.23ZM636.80 285.81L639.40 288.41L636.80 291.01L634.20 288.41ZM638.38 285.98L640.98 288.58L638.38 291.18L635.78 288.58ZM639.96 286.14L642.56 288.74L639.96 291.34L637.36 288.74ZM641.54 286.34L644.14 288.94L641.54 291.54L638.94 288.94ZM643.12 286.54L645.72 289.14L643.12 291.74L640.52 289.14ZM644.70 286.74L647.30 289.34L644.70 291.94L642.10 289.34ZM646.27 286.93L648.87 289.53L646.27 292.13L643.67 289.53ZM647.85 287.07L650.45 289.67L647.85 292.27L645.25 289.67ZM649.43 287.17L652.03 289.77L649.43 292.37L646.83 289.77ZM651.01 287.20L653.61 289.80L651.01 292.40L648.41 289.80ZM652.59 287.13L655.19 289.73L652.59 292.33L649.99 289.73ZM654.16 287.02L656.76 289.62L654.16 292.22L651.56 289.62ZM655.74 286.92L658.34 289.52L655.74 292.12L653.14 289.52ZM657.32 286.97L659.92 289.57L657.32 292.17L654.72 289.57ZM658.90 287.65L661.50 290.25L658.90 292.85L656.30 290.25ZM660.48 288.83L663.08 291.43L660.48 294.03L657.88 291.43ZM662.06 290.93L664.66 293.53L662.06 296.13L659.46 293.53ZM663.63 294.10L666.23 296.70L663.63 299.30L661.03 296.70ZM665.21 297.87L667.81 300.47L665.21 303.07L662.61 300.47ZM666.79 302.79L669.39 305.39L666.79 307.99L664.19 305.39ZM668.37 308.09L670.97 310.69L668.37 313.29L665.77 310.69ZM669.95 318.85L672.55 321.45L669.95 324.05L667.35 321.45ZM671.53 326.63L674.13 329.23L671.53 331.83L668.93 329.23ZM673.10 337.63L675.70 340.23L673.10 342.83L670.50 340.23ZM674.68 345.81L677.28 348.41L674.68 351.01L672.08 348.41ZM676.26 353.66L678.86 356.26L676.26 358.86L673.66 356.26ZM677.84 360.31L680.44 362.91L677.84 365.51L675.24 362.91ZM679.42 366.94L682.02 369.54L679.42 372.14L676.82 369.54ZM681.00 372.93L683.60 375.53L681.00 378.13L678.40 375.53ZM682.57 378.31L685.17 380.91L682.57 383.51L679.97 380.91ZM684.15 383.86L686.75 386.46L684.15 389.06L681.55 386.46ZM685.73 388.49L688.33 391.09L685.73 393.69L683.13 391.09ZM687.31 392.27L689.91 394.87L687.31 397.47L684.71 394.87ZM688.89 395.05L691.49 397.65L688.89 400.25L686.29 397.65ZM690.47 397.13L693.07 399.73L690.47 402.33L687.87 399.73ZM692.04 398.86L694.64 401.46L692.04 404.06L689.44 401.46ZM693.62 400.41L696.22 403.01L693.62 405.61L691.02 403.01ZM695.20 401.92L697.80 404.52L695.20 407.12L692.60 404.52ZM696.78 403.34L699.38 405.94L696.78 408.54L694.18 405.94ZM698.36 404.66L700.96 407.26L698.36 409.86L695.76 407.26ZM699.94 405.81L702.54 408.41L699.94 411.01L697.34 408.41ZM701.51 406.75L704.11 409.35L701.51 411.95L698.91 409.35ZM703.09 407.52L705.69 410.12L703.09 412.72L700.49 410.12ZM704.67 408.21L707.27 410.81L704.67 413.41L702.07 410.81ZM706.25 408.84L708.85 411.44L706.25 414.04L703.65 411.44ZM707.83 409.41L710.43 412.01L707.83 414.61L705.23 412.01ZM709.41 409.92L712.01 412.52L709.41 415.12L706.81 412.52ZM710.98 410.38L713.58 412.98L710.98 415.58L708.38 412.98ZM712.56 410.78L715.16 413.38L712.56 415.98L709.96 413.38ZM714.14 411.14L716.74 413.74L714.14 416.34L711.54 413.74ZM715.72 411.49L718.32 414.09L715.72 416.69L713.12 414.09ZM717.30 411.83L719.90 414.43L717.30 417.03L714.70 414.43ZM718.88 412.14L721.48 414.74L718.88 417.34L716.28 414.74ZM720.45 412.44L723.05 415.04L720.45 417.64L717.85 415.04ZM722.03 412.71L724.63 415.31L722.03 417.91L719.43 415.31ZM723.61 412.96L726.21 415.56L723.61 418.16L721.01 415.56ZM725.19 413.16L727.79 415.76L725.19 418.36L722.59 415.76ZM726.77 413.33L729.37 415.93L726.77 418.53L724.17 415.93ZM728.35 413.46L730.95 416.06L728.35 418.66L725.75 416.06Z" fill="#000"/>
<text x="543.2" y="347.8" font-size="11.8" stroke="#111" stroke-width="0.35" fill="#111" textLength="35.8" lengthAdjust="spacingAndGlyphs">p&lt;0.01</text>
<text x="614.0" y="307.6" font-size="11.8" stroke="#111" stroke-width="0.35" fill="#111" textLength="35.5" lengthAdjust="spacingAndGlyphs">p&lt;0.05</text>
<text x="498.5" y="413.7" font-size="13" stroke="#111" stroke-width="0.35" fill="#111" textLength="58.3" lengthAdjust="spacingAndGlyphs">Harvard U</text>
<rect x="46.9" y="461.2" width="277.6" height="181.4" fill="none" stroke="#777" stroke-width="1"/>
<text x="1.8" y="467.6" font-size="19" stroke="#000" stroke-width="0.3" font-weight="bold" textLength="12.0" lengthAdjust="spacingAndGlyphs">E</text>
<text x="37.2" y="646.4" font-size="10.5" text-anchor="end" fill="#333" textLength="5.0" lengthAdjust="spacingAndGlyphs">0</text>
<text x="37.2" y="618.7" font-size="10.5" text-anchor="end" fill="#333" textLength="14.0" lengthAdjust="spacingAndGlyphs">0.2</text>
<text x="37.2" y="591.0" font-size="10.5" text-anchor="end" fill="#333" textLength="14.0" lengthAdjust="spacingAndGlyphs">0.4</text>
<text x="37.2" y="563.3" font-size="10.5" text-anchor="end" fill="#333" textLength="14.0" lengthAdjust="spacingAndGlyphs">0.6</text>
<text x="37.2" y="535.6" font-size="10.5" text-anchor="end" fill="#333" textLength="14.0" lengthAdjust="spacingAndGlyphs">0.8</text>
<text x="37.2" y="507.9" font-size="10.5" text-anchor="end" fill="#333" textLength="5.0" lengthAdjust="spacingAndGlyphs">1</text>
<text x="37.2" y="480.2" font-size="10.5" text-anchor="end" fill="#333" textLength="14.0" lengthAdjust="spacingAndGlyphs">1.2</text>
<text x="17.5" y="552.0" font-size="12" text-anchor="middle" fill="#222" textLength="148.0" lengthAdjust="spacingAndGlyphs" transform="rotate(-90 17.5 552.0)">SS OCR, Fractional Change</text>
<rect x="61.4" y="504.5" width="11.2" height="138.1" fill="#4f81bd" stroke="#3f70ac" stroke-width="0.8"/>
<path d="M66.9 503.7V504.5M65.4 503.7h3M65.4 504.5h3" stroke="#555" stroke-width="0.8" fill="none"/>
<rect x="76.6" y="573.1" width="11.2" height="69.5" fill="#c0504d" stroke="#a83f3c" stroke-width="0.8"/>
<path d="M82.1 565.7V579.6M80.6 565.7h3M80.6 579.6h3" stroke="#555" stroke-width="0.8" fill="none"/>
<rect x="91.8" y="493.4" width="11.2" height="149.2" fill="#9bbb59" stroke="#8aaa48" stroke-width="0.8"/>
<path d="M97.3 492.5V493.6M95.8 492.5h3M95.8 493.6h3" stroke="#555" stroke-width="0.8" fill="none"/>
<rect x="130.7" y="504.5" width="11.2" height="138.1" fill="#4f81bd" stroke="#3f70ac" stroke-width="0.8"/>
<path d="M136.2 503.7V504.5M134.7 503.7h3M134.7 504.5h3" stroke="#555" stroke-width="0.8" fill="none"/>
<rect x="145.9" y="548.8" width="11.2" height="93.8" fill="#c0504d" stroke="#a83f3c" stroke-width="0.8"/>
<path d="M151.4 544.3V552.6M149.9 544.3h3M149.9 552.6h3" stroke="#555" stroke-width="0.8" fill="none"/>
<rect x="161.1" y="492.0" width="11.2" height="150.6" fill="#9bbb59" stroke="#8aaa48" stroke-width="0.8"/>
<path d="M166.6 491.1V492.2M165.1 491.1h3M165.1 492.2h3" stroke="#555" stroke-width="0.8" fill="none"/>
<rect x="200.0" y="505.2" width="11.2" height="137.4" fill="#4f81bd" stroke="#3f70ac" stroke-width="0.8"/>
<path d="M205.5 504.4V505.2M204.0 504.4h3M204.0 505.2h3" stroke="#555" stroke-width="0.8" fill="none"/>
<rect x="215.2" y="573.1" width="11.2" height="69.5" fill="#c0504d" stroke="#a83f3c" stroke-width="0.8"/>
<path d="M220.7 568.5V576.8M219.2 568.5h3M219.2 576.8h3" stroke="#555" stroke-width="0.8" fill="none"/>
<rect x="230.4" y="484.4" width="11.2" height="158.2" fill="#9bbb59" stroke="#8aaa48" stroke-width="0.8"/>
<path d="M235.9 483.5V484.6M234.4 483.5h3M234.4 484.6h3" stroke="#555" stroke-width="0.8" fill="none"/>
<rect x="269.3" y="504.8" width="11.2" height="137.8" fill="#4f81bd" stroke="#3f70ac" stroke-width="0.8"/>
<path d="M274.8 504.0V504.8M273.3 504.0h3M273.3 504.8h3" stroke="#555" stroke-width="0.8" fill="none"/>
<rect x="284.5" y="550.2" width="11.2" height="92.4" fill="#c0504d" stroke="#a83f3c" stroke-width="0.8"/>
<path d="M290.0 547.0V552.6M288.5 547.0h3M288.5 552.6h3" stroke="#555" stroke-width="0.8" fill="none"/>
<rect x="299.7" y="510.7" width="11.2" height="131.9" fill="#9bbb59" stroke="#8aaa48" stroke-width="0.8"/>
<path d="M305.2 509.8V510.9M303.7 509.8h3M303.7 510.9h3" stroke="#555" stroke-width="0.8" fill="none"/>
<text x="62.2" y="661.5" font-size="11.5" fill="#333" textLength="39.5" lengthAdjust="spacingAndGlyphs">UW Med</text>
<text x="122.3" y="661.5" font-size="11.5" fill="#333" textLength="57.8" lengthAdjust="spacingAndGlyphs">UW Biochem</text>
<text x="189.4" y="661.5" font-size="11.5" fill="#333" textLength="62.6" lengthAdjust="spacingAndGlyphs">U of Michigan</text>
<text x="266.7" y="661.5" font-size="11.5" fill="#333" textLength="45.3" lengthAdjust="spacingAndGlyphs">Harvard U</text>
<rect x="100.4" y="468.3" width="5.2" height="5.2" fill="#4f81bd"/>
<text x="108.4" y="475.3" font-size="11" fill="#333" textLength="43.8" lengthAdjust="spacingAndGlyphs">3 mM Glc</text>
<rect x="159.1" y="468.3" width="5.2" height="5.2" fill="#c0504d"/>
<text x="169.5" y="475.3" font-size="11" fill="#333" textLength="81.0" lengthAdjust="spacingAndGlyphs">20 or 30 uM Oligo</text>
<rect x="258.6" y="468.3" width="5.2" height="5.2" fill="#9bbb59"/>
<text x="266.0" y="475.3" font-size="11" fill="#333" textLength="48.3" lengthAdjust="spacingAndGlyphs">1 uM FCCP</text>
</svg></body></html>
